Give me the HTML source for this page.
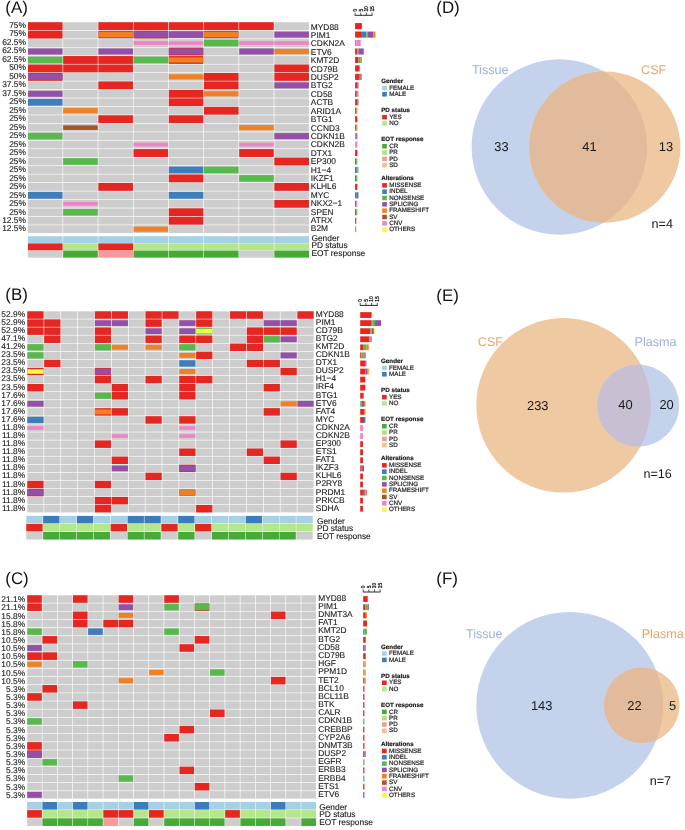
<!DOCTYPE html><html><head><meta charset="utf-8"><style>html,body{margin:0;padding:0;background:#fff;overflow:hidden;width:685px;height:830px;}svg{display:block;will-change:transform;text-rendering:geometricPrecision;font-family:"Liberation Sans", sans-serif;}</style></head><body>
<svg width="685" height="830" viewBox="0 0 685 830">
<rect width="685" height="830" fill="#fff"/>
<rect x="27.97" y="22.22" width="34.55" height="7.81" fill="#cdcdcd"/>
<rect x="27.97" y="22.22" width="34.55" height="7.81" fill="#e62620"/>
<rect x="63.18" y="22.22" width="34.55" height="7.81" fill="#cdcdcd"/>
<rect x="98.38" y="22.22" width="34.55" height="7.81" fill="#cdcdcd"/>
<rect x="98.38" y="22.22" width="34.55" height="7.81" fill="#e62620"/>
<rect x="133.57" y="22.22" width="34.55" height="7.81" fill="#cdcdcd"/>
<rect x="133.57" y="22.22" width="34.55" height="7.81" fill="#e62620"/>
<rect x="168.78" y="22.22" width="34.55" height="7.81" fill="#cdcdcd"/>
<rect x="168.78" y="22.22" width="34.55" height="7.81" fill="#e62620"/>
<rect x="203.97" y="22.22" width="34.55" height="7.81" fill="#cdcdcd"/>
<rect x="203.97" y="22.22" width="34.55" height="7.81" fill="#e62620"/>
<rect x="239.18" y="22.22" width="34.55" height="7.81" fill="#cdcdcd"/>
<rect x="239.18" y="22.22" width="34.55" height="7.81" fill="#e62620"/>
<rect x="274.38" y="22.22" width="34.55" height="7.81" fill="#cdcdcd"/>
<text x="25.9" y="27.9" font-size="8.4" fill="#1a1a1a" text-anchor="end" font-weight="normal" stroke="#1a1a1a" stroke-width="0.12">75%</text>
<text x="310.8" y="29.6" font-size="8.4" fill="#1a1a1a" text-anchor="start" font-weight="normal" stroke="#1a1a1a" stroke-width="0.12">MYD88</text>
<rect x="355.1" y="23.08" width="6.78" height="6.09" fill="#e62620"/>
<rect x="27.97" y="30.68" width="34.55" height="7.81" fill="#cdcdcd"/>
<rect x="27.97" y="30.68" width="34.55" height="7.81" fill="#e62620"/>
<rect x="63.18" y="30.68" width="34.55" height="7.81" fill="#cdcdcd"/>
<rect x="98.38" y="30.68" width="34.55" height="7.81" fill="#cdcdcd"/>
<rect x="98.38" y="30.88" width="34.55" height="7.42" fill="#9450a8"/>
<rect x="98.38" y="32.01" width="34.55" height="5.15" fill="#f08022"/>
<rect x="133.57" y="30.68" width="34.55" height="7.81" fill="#cdcdcd"/>
<rect x="133.57" y="30.68" width="34.55" height="7.81" fill="#e62620"/>
<rect x="133.57" y="31.58" width="34.55" height="6.01" fill="#9450a8"/>
<rect x="168.78" y="30.68" width="34.55" height="7.81" fill="#cdcdcd"/>
<rect x="168.78" y="31.23" width="34.55" height="6.72" fill="#3f7ebd"/>
<rect x="168.78" y="31.58" width="34.55" height="6.01" fill="#9450a8"/>
<rect x="203.97" y="30.68" width="34.55" height="7.81" fill="#cdcdcd"/>
<rect x="203.97" y="30.88" width="34.55" height="7.42" fill="#9450a8"/>
<rect x="203.97" y="32.01" width="34.55" height="5.15" fill="#f08022"/>
<rect x="239.18" y="30.68" width="34.55" height="7.81" fill="#cdcdcd"/>
<rect x="274.38" y="30.68" width="34.55" height="7.81" fill="#cdcdcd"/>
<rect x="274.38" y="31.58" width="34.55" height="6.01" fill="#9450a8"/>
<text x="25.9" y="36.38" font-size="8.4" fill="#1a1a1a" text-anchor="end" font-weight="normal" stroke="#1a1a1a" stroke-width="0.12">75%</text>
<text x="310.8" y="38.01" font-size="8.4" fill="#1a1a1a" text-anchor="start" font-weight="normal" stroke="#1a1a1a" stroke-width="0.12">PIM1</text>
<rect x="355.1" y="31.54" width="6.78" height="6.09" fill="#e62620"/>
<rect x="361.88" y="31.54" width="4.52" height="6.09" fill="#3f7ebd"/>
<rect x="366.4" y="31.54" width="1.13" height="6.09" fill="#57b94b"/>
<rect x="367.53" y="31.54" width="5.65" height="6.09" fill="#9450a8"/>
<rect x="373.18" y="31.54" width="2.26" height="6.09" fill="#f08022"/>
<rect x="27.97" y="39.15" width="34.55" height="7.81" fill="#cdcdcd"/>
<rect x="63.18" y="39.15" width="34.55" height="7.81" fill="#cdcdcd"/>
<rect x="98.38" y="39.15" width="34.55" height="7.81" fill="#cdcdcd"/>
<rect x="133.57" y="39.15" width="34.55" height="7.81" fill="#cdcdcd"/>
<rect x="133.57" y="41.21" width="34.55" height="3.67" fill="#f282c8"/>
<rect x="168.78" y="39.15" width="34.55" height="7.81" fill="#cdcdcd"/>
<rect x="168.78" y="41.21" width="34.55" height="3.67" fill="#f282c8"/>
<rect x="203.97" y="39.15" width="34.55" height="7.81" fill="#cdcdcd"/>
<rect x="203.97" y="39.77" width="34.55" height="6.56" fill="#57b94b"/>
<rect x="239.18" y="39.15" width="34.55" height="7.81" fill="#cdcdcd"/>
<rect x="239.18" y="41.21" width="34.55" height="3.67" fill="#f282c8"/>
<rect x="274.38" y="39.15" width="34.55" height="7.81" fill="#cdcdcd"/>
<rect x="274.38" y="41.21" width="34.55" height="3.67" fill="#f282c8"/>
<text x="25.9" y="44.87" font-size="8.4" fill="#1a1a1a" text-anchor="end" font-weight="normal" stroke="#1a1a1a" stroke-width="0.12">62.5%</text>
<text x="310.8" y="46.42" font-size="8.4" fill="#1a1a1a" text-anchor="start" font-weight="normal" stroke="#1a1a1a" stroke-width="0.12">CDKN2A</text>
<rect x="355.1" y="40" width="1.13" height="6.09" fill="#57b94b"/>
<rect x="356.23" y="40" width="4.52" height="6.09" fill="#f282c8"/>
<rect x="27.97" y="47.61" width="34.55" height="7.81" fill="#cdcdcd"/>
<rect x="27.97" y="48.5" width="34.55" height="6.01" fill="#9450a8"/>
<rect x="63.18" y="47.61" width="34.55" height="7.81" fill="#cdcdcd"/>
<rect x="98.38" y="47.61" width="34.55" height="7.81" fill="#cdcdcd"/>
<rect x="98.38" y="48.5" width="34.55" height="6.01" fill="#9450a8"/>
<rect x="133.57" y="47.61" width="34.55" height="7.81" fill="#cdcdcd"/>
<rect x="168.78" y="47.61" width="34.55" height="7.81" fill="#cdcdcd"/>
<rect x="168.78" y="47.61" width="34.55" height="7.81" fill="#e62620"/>
<rect x="168.78" y="48.5" width="34.55" height="6.01" fill="#9450a8"/>
<rect x="203.97" y="47.61" width="34.55" height="7.81" fill="#cdcdcd"/>
<rect x="239.18" y="47.61" width="34.55" height="7.81" fill="#cdcdcd"/>
<rect x="239.18" y="48.5" width="34.55" height="6.01" fill="#9450a8"/>
<rect x="274.38" y="47.61" width="34.55" height="7.81" fill="#cdcdcd"/>
<rect x="274.38" y="48.93" width="34.55" height="5.15" fill="#f08022"/>
<text x="25.9" y="53.35" font-size="8.4" fill="#1a1a1a" text-anchor="end" font-weight="normal" stroke="#1a1a1a" stroke-width="0.12">62.5%</text>
<text x="310.8" y="54.82" font-size="8.4" fill="#1a1a1a" text-anchor="start" font-weight="normal" stroke="#1a1a1a" stroke-width="0.12">ETV6</text>
<rect x="355.1" y="48.46" width="2.26" height="6.09" fill="#e62620"/>
<rect x="357.36" y="48.46" width="1.13" height="6.09" fill="#57b94b"/>
<rect x="358.49" y="48.46" width="4.52" height="6.09" fill="#9450a8"/>
<rect x="363.01" y="48.46" width="1.13" height="6.09" fill="#f08022"/>
<rect x="27.97" y="56.07" width="34.55" height="7.81" fill="#cdcdcd"/>
<rect x="27.97" y="56.69" width="34.55" height="6.56" fill="#57b94b"/>
<rect x="63.18" y="56.07" width="34.55" height="7.81" fill="#cdcdcd"/>
<rect x="63.18" y="56.07" width="34.55" height="7.81" fill="#e62620"/>
<rect x="98.38" y="56.07" width="34.55" height="7.81" fill="#cdcdcd"/>
<rect x="98.38" y="56.07" width="34.55" height="7.81" fill="#e62620"/>
<rect x="133.57" y="56.07" width="34.55" height="7.81" fill="#cdcdcd"/>
<rect x="133.57" y="56.69" width="34.55" height="6.56" fill="#57b94b"/>
<rect x="168.78" y="56.07" width="34.55" height="7.81" fill="#cdcdcd"/>
<rect x="168.78" y="56.07" width="34.55" height="7.81" fill="#e62620"/>
<rect x="168.78" y="57.39" width="34.55" height="5.15" fill="#f08022"/>
<rect x="203.97" y="56.07" width="34.55" height="7.81" fill="#cdcdcd"/>
<rect x="239.18" y="56.07" width="34.55" height="7.81" fill="#cdcdcd"/>
<rect x="274.38" y="56.07" width="34.55" height="7.81" fill="#cdcdcd"/>
<text x="25.9" y="61.83" font-size="8.4" fill="#1a1a1a" text-anchor="end" font-weight="normal" stroke="#1a1a1a" stroke-width="0.12">62.5%</text>
<text x="310.8" y="63.23" font-size="8.4" fill="#1a1a1a" text-anchor="start" font-weight="normal" stroke="#1a1a1a" stroke-width="0.12">KMT2D</text>
<rect x="355.1" y="56.92" width="3.39" height="6.09" fill="#e62620"/>
<rect x="358.49" y="56.92" width="2.26" height="6.09" fill="#57b94b"/>
<rect x="360.75" y="56.92" width="1.13" height="6.09" fill="#f08022"/>
<rect x="27.97" y="64.53" width="34.55" height="7.81" fill="#cdcdcd"/>
<rect x="27.97" y="64.53" width="34.55" height="7.81" fill="#e62620"/>
<rect x="63.18" y="64.53" width="34.55" height="7.81" fill="#cdcdcd"/>
<rect x="63.18" y="64.53" width="34.55" height="7.81" fill="#e62620"/>
<rect x="98.38" y="64.53" width="34.55" height="7.81" fill="#cdcdcd"/>
<rect x="98.38" y="64.53" width="34.55" height="7.81" fill="#e62620"/>
<rect x="133.57" y="64.53" width="34.55" height="7.81" fill="#cdcdcd"/>
<rect x="168.78" y="64.53" width="34.55" height="7.81" fill="#cdcdcd"/>
<rect x="203.97" y="64.53" width="34.55" height="7.81" fill="#cdcdcd"/>
<rect x="239.18" y="64.53" width="34.55" height="7.81" fill="#cdcdcd"/>
<rect x="274.38" y="64.53" width="34.55" height="7.81" fill="#cdcdcd"/>
<rect x="274.38" y="64.53" width="34.55" height="7.81" fill="#e62620"/>
<text x="25.9" y="70.31" font-size="8.4" fill="#1a1a1a" text-anchor="end" font-weight="normal" stroke="#1a1a1a" stroke-width="0.12">50%</text>
<text x="310.8" y="71.64" font-size="8.4" fill="#1a1a1a" text-anchor="start" font-weight="normal" stroke="#1a1a1a" stroke-width="0.12">CD79B</text>
<rect x="355.1" y="65.38" width="4.52" height="6.09" fill="#e62620"/>
<rect x="27.97" y="72.98" width="34.55" height="7.81" fill="#cdcdcd"/>
<rect x="27.97" y="72.98" width="34.55" height="7.81" fill="#e62620"/>
<rect x="27.97" y="73.88" width="34.55" height="6.01" fill="#9450a8"/>
<rect x="63.18" y="72.98" width="34.55" height="7.81" fill="#cdcdcd"/>
<rect x="98.38" y="72.98" width="34.55" height="7.81" fill="#cdcdcd"/>
<rect x="133.57" y="72.98" width="34.55" height="7.81" fill="#cdcdcd"/>
<rect x="168.78" y="72.98" width="34.55" height="7.81" fill="#cdcdcd"/>
<rect x="168.78" y="74.31" width="34.55" height="5.15" fill="#f08022"/>
<rect x="203.97" y="72.98" width="34.55" height="7.81" fill="#cdcdcd"/>
<rect x="203.97" y="72.98" width="34.55" height="7.81" fill="#e62620"/>
<rect x="239.18" y="72.98" width="34.55" height="7.81" fill="#cdcdcd"/>
<rect x="274.38" y="72.98" width="34.55" height="7.81" fill="#cdcdcd"/>
<rect x="274.38" y="72.98" width="34.55" height="7.81" fill="#e62620"/>
<text x="25.9" y="78.8" font-size="8.4" fill="#1a1a1a" text-anchor="end" font-weight="normal" stroke="#1a1a1a" stroke-width="0.12">50%</text>
<text x="310.8" y="80.05" font-size="8.4" fill="#1a1a1a" text-anchor="start" font-weight="normal" stroke="#1a1a1a" stroke-width="0.12">DUSP2</text>
<rect x="355.1" y="73.84" width="4.52" height="6.09" fill="#e62620"/>
<rect x="359.62" y="73.84" width="1.13" height="6.09" fill="#9450a8"/>
<rect x="360.75" y="73.84" width="1.13" height="6.09" fill="#f08022"/>
<rect x="27.97" y="81.45" width="34.55" height="7.81" fill="#cdcdcd"/>
<rect x="63.18" y="81.45" width="34.55" height="7.81" fill="#cdcdcd"/>
<rect x="98.38" y="81.45" width="34.55" height="7.81" fill="#cdcdcd"/>
<rect x="98.38" y="81.45" width="34.55" height="7.81" fill="#e62620"/>
<rect x="133.57" y="81.45" width="34.55" height="7.81" fill="#cdcdcd"/>
<rect x="168.78" y="81.45" width="34.55" height="7.81" fill="#cdcdcd"/>
<rect x="203.97" y="81.45" width="34.55" height="7.81" fill="#cdcdcd"/>
<rect x="203.97" y="81.45" width="34.55" height="7.81" fill="#e62620"/>
<rect x="239.18" y="81.45" width="34.55" height="7.81" fill="#cdcdcd"/>
<rect x="274.38" y="81.45" width="34.55" height="7.81" fill="#cdcdcd"/>
<rect x="274.38" y="82.34" width="34.55" height="6.01" fill="#9450a8"/>
<text x="25.9" y="87.28" font-size="8.4" fill="#1a1a1a" text-anchor="end" font-weight="normal" stroke="#1a1a1a" stroke-width="0.12">37.5%</text>
<text x="310.8" y="88.46" font-size="8.4" fill="#1a1a1a" text-anchor="start" font-weight="normal" stroke="#1a1a1a" stroke-width="0.12">BTG2</text>
<rect x="355.1" y="82.3" width="2.26" height="6.09" fill="#e62620"/>
<rect x="357.36" y="82.3" width="1.13" height="6.09" fill="#9450a8"/>
<rect x="27.97" y="89.91" width="34.55" height="7.81" fill="#cdcdcd"/>
<rect x="27.97" y="90.8" width="34.55" height="6.01" fill="#9450a8"/>
<rect x="63.18" y="89.91" width="34.55" height="7.81" fill="#cdcdcd"/>
<rect x="98.38" y="89.91" width="34.55" height="7.81" fill="#cdcdcd"/>
<rect x="133.57" y="89.91" width="34.55" height="7.81" fill="#cdcdcd"/>
<rect x="168.78" y="89.91" width="34.55" height="7.81" fill="#cdcdcd"/>
<rect x="168.78" y="89.91" width="34.55" height="7.81" fill="#e62620"/>
<rect x="203.97" y="89.91" width="34.55" height="7.81" fill="#cdcdcd"/>
<rect x="203.97" y="91.23" width="34.55" height="5.15" fill="#f08022"/>
<rect x="239.18" y="89.91" width="34.55" height="7.81" fill="#cdcdcd"/>
<rect x="274.38" y="89.91" width="34.55" height="7.81" fill="#cdcdcd"/>
<text x="25.9" y="95.76" font-size="8.4" fill="#1a1a1a" text-anchor="end" font-weight="normal" stroke="#1a1a1a" stroke-width="0.12">37.5%</text>
<text x="310.8" y="96.86" font-size="8.4" fill="#1a1a1a" text-anchor="start" font-weight="normal" stroke="#1a1a1a" stroke-width="0.12">CD58</text>
<rect x="355.1" y="90.76" width="1.13" height="6.09" fill="#e62620"/>
<rect x="356.23" y="90.76" width="1.13" height="6.09" fill="#9450a8"/>
<rect x="357.36" y="90.76" width="1.13" height="6.09" fill="#f08022"/>
<rect x="27.97" y="98.37" width="34.55" height="7.81" fill="#cdcdcd"/>
<rect x="27.97" y="98.91" width="34.55" height="6.72" fill="#3f7ebd"/>
<rect x="63.18" y="98.37" width="34.55" height="7.81" fill="#cdcdcd"/>
<rect x="98.38" y="98.37" width="34.55" height="7.81" fill="#cdcdcd"/>
<rect x="133.57" y="98.37" width="34.55" height="7.81" fill="#cdcdcd"/>
<rect x="168.78" y="98.37" width="34.55" height="7.81" fill="#cdcdcd"/>
<rect x="168.78" y="98.37" width="34.55" height="7.81" fill="#e62620"/>
<rect x="203.97" y="98.37" width="34.55" height="7.81" fill="#cdcdcd"/>
<rect x="239.18" y="98.37" width="34.55" height="7.81" fill="#cdcdcd"/>
<rect x="274.38" y="98.37" width="34.55" height="7.81" fill="#cdcdcd"/>
<text x="25.9" y="104.25" font-size="8.4" fill="#1a1a1a" text-anchor="end" font-weight="normal" stroke="#1a1a1a" stroke-width="0.12">25%</text>
<text x="310.8" y="105.27" font-size="8.4" fill="#1a1a1a" text-anchor="start" font-weight="normal" stroke="#1a1a1a" stroke-width="0.12">ACTB</text>
<rect x="355.1" y="99.22" width="2.26" height="6.09" fill="#e62620"/>
<rect x="357.36" y="99.22" width="1.13" height="6.09" fill="#3f7ebd"/>
<rect x="27.97" y="106.83" width="34.55" height="7.81" fill="#cdcdcd"/>
<rect x="63.18" y="106.83" width="34.55" height="7.81" fill="#cdcdcd"/>
<rect x="63.18" y="108.15" width="34.55" height="5.15" fill="#f08022"/>
<rect x="98.38" y="106.83" width="34.55" height="7.81" fill="#cdcdcd"/>
<rect x="133.57" y="106.83" width="34.55" height="7.81" fill="#cdcdcd"/>
<rect x="168.78" y="106.83" width="34.55" height="7.81" fill="#cdcdcd"/>
<rect x="203.97" y="106.83" width="34.55" height="7.81" fill="#cdcdcd"/>
<rect x="203.97" y="106.83" width="34.55" height="7.81" fill="#e62620"/>
<rect x="239.18" y="106.83" width="34.55" height="7.81" fill="#cdcdcd"/>
<rect x="274.38" y="106.83" width="34.55" height="7.81" fill="#cdcdcd"/>
<text x="25.9" y="112.73" font-size="8.4" fill="#1a1a1a" text-anchor="end" font-weight="normal" stroke="#1a1a1a" stroke-width="0.12">25%</text>
<text x="310.8" y="113.68" font-size="8.4" fill="#1a1a1a" text-anchor="start" font-weight="normal" stroke="#1a1a1a" stroke-width="0.12">ARID1A</text>
<rect x="355.1" y="107.68" width="1.13" height="6.09" fill="#e62620"/>
<rect x="356.23" y="107.68" width="1.13" height="6.09" fill="#f08022"/>
<rect x="27.97" y="115.29" width="34.55" height="7.81" fill="#cdcdcd"/>
<rect x="63.18" y="115.29" width="34.55" height="7.81" fill="#cdcdcd"/>
<rect x="98.38" y="115.29" width="34.55" height="7.81" fill="#cdcdcd"/>
<rect x="98.38" y="115.29" width="34.55" height="7.81" fill="#e62620"/>
<rect x="133.57" y="115.29" width="34.55" height="7.81" fill="#cdcdcd"/>
<rect x="168.78" y="115.29" width="34.55" height="7.81" fill="#cdcdcd"/>
<rect x="168.78" y="115.29" width="34.55" height="7.81" fill="#e62620"/>
<rect x="203.97" y="115.29" width="34.55" height="7.81" fill="#cdcdcd"/>
<rect x="239.18" y="115.29" width="34.55" height="7.81" fill="#cdcdcd"/>
<rect x="274.38" y="115.29" width="34.55" height="7.81" fill="#cdcdcd"/>
<text x="25.9" y="121.21" font-size="8.4" fill="#1a1a1a" text-anchor="end" font-weight="normal" stroke="#1a1a1a" stroke-width="0.12">25%</text>
<text x="310.8" y="122.09" font-size="8.4" fill="#1a1a1a" text-anchor="start" font-weight="normal" stroke="#1a1a1a" stroke-width="0.12">BTG1</text>
<rect x="355.1" y="116.14" width="2.26" height="6.09" fill="#e62620"/>
<rect x="27.97" y="123.75" width="34.55" height="7.81" fill="#cdcdcd"/>
<rect x="63.18" y="123.75" width="34.55" height="7.81" fill="#cdcdcd"/>
<rect x="63.18" y="125.39" width="34.55" height="4.53" fill="#a55528"/>
<rect x="98.38" y="123.75" width="34.55" height="7.81" fill="#cdcdcd"/>
<rect x="133.57" y="123.75" width="34.55" height="7.81" fill="#cdcdcd"/>
<rect x="168.78" y="123.75" width="34.55" height="7.81" fill="#cdcdcd"/>
<rect x="203.97" y="123.75" width="34.55" height="7.81" fill="#cdcdcd"/>
<rect x="239.18" y="123.75" width="34.55" height="7.81" fill="#cdcdcd"/>
<rect x="239.18" y="125.07" width="34.55" height="5.15" fill="#f08022"/>
<rect x="274.38" y="123.75" width="34.55" height="7.81" fill="#cdcdcd"/>
<text x="25.9" y="129.7" font-size="8.4" fill="#1a1a1a" text-anchor="end" font-weight="normal" stroke="#1a1a1a" stroke-width="0.12">25%</text>
<text x="310.8" y="130.5" font-size="8.4" fill="#1a1a1a" text-anchor="start" font-weight="normal" stroke="#1a1a1a" stroke-width="0.12">CCND3</text>
<rect x="355.1" y="124.6" width="1.13" height="6.09" fill="#a55528"/>
<rect x="356.23" y="124.6" width="1.13" height="6.09" fill="#f08022"/>
<rect x="27.97" y="132.21" width="34.55" height="7.81" fill="#cdcdcd"/>
<rect x="27.97" y="132.83" width="34.55" height="6.56" fill="#57b94b"/>
<rect x="63.18" y="132.21" width="34.55" height="7.81" fill="#cdcdcd"/>
<rect x="98.38" y="132.21" width="34.55" height="7.81" fill="#cdcdcd"/>
<rect x="133.57" y="132.21" width="34.55" height="7.81" fill="#cdcdcd"/>
<rect x="168.78" y="132.21" width="34.55" height="7.81" fill="#cdcdcd"/>
<rect x="203.97" y="132.21" width="34.55" height="7.81" fill="#cdcdcd"/>
<rect x="239.18" y="132.21" width="34.55" height="7.81" fill="#cdcdcd"/>
<rect x="274.38" y="132.21" width="34.55" height="7.81" fill="#cdcdcd"/>
<rect x="274.38" y="133.1" width="34.55" height="6.01" fill="#9450a8"/>
<text x="25.9" y="138.18" font-size="8.4" fill="#1a1a1a" text-anchor="end" font-weight="normal" stroke="#1a1a1a" stroke-width="0.12">25%</text>
<text x="310.8" y="138.9" font-size="8.4" fill="#1a1a1a" text-anchor="start" font-weight="normal" stroke="#1a1a1a" stroke-width="0.12">CDKN1B</text>
<rect x="355.1" y="133.06" width="1.13" height="6.09" fill="#57b94b"/>
<rect x="356.23" y="133.06" width="1.13" height="6.09" fill="#9450a8"/>
<rect x="27.97" y="140.66" width="34.55" height="7.81" fill="#cdcdcd"/>
<rect x="63.18" y="140.66" width="34.55" height="7.81" fill="#cdcdcd"/>
<rect x="98.38" y="140.66" width="34.55" height="7.81" fill="#cdcdcd"/>
<rect x="133.57" y="140.66" width="34.55" height="7.81" fill="#cdcdcd"/>
<rect x="133.57" y="142.73" width="34.55" height="3.67" fill="#f282c8"/>
<rect x="168.78" y="140.66" width="34.55" height="7.81" fill="#cdcdcd"/>
<rect x="203.97" y="140.66" width="34.55" height="7.81" fill="#cdcdcd"/>
<rect x="239.18" y="140.66" width="34.55" height="7.81" fill="#cdcdcd"/>
<rect x="239.18" y="142.73" width="34.55" height="3.67" fill="#f282c8"/>
<rect x="274.38" y="140.66" width="34.55" height="7.81" fill="#cdcdcd"/>
<text x="25.9" y="146.66" font-size="8.4" fill="#1a1a1a" text-anchor="end" font-weight="normal" stroke="#1a1a1a" stroke-width="0.12">25%</text>
<text x="310.8" y="147.31" font-size="8.4" fill="#1a1a1a" text-anchor="start" font-weight="normal" stroke="#1a1a1a" stroke-width="0.12">CDKN2B</text>
<rect x="355.1" y="141.52" width="2.26" height="6.09" fill="#f282c8"/>
<rect x="27.97" y="149.12" width="34.55" height="7.81" fill="#cdcdcd"/>
<rect x="63.18" y="149.12" width="34.55" height="7.81" fill="#cdcdcd"/>
<rect x="98.38" y="149.12" width="34.55" height="7.81" fill="#cdcdcd"/>
<rect x="133.57" y="149.12" width="34.55" height="7.81" fill="#cdcdcd"/>
<rect x="133.57" y="149.12" width="34.55" height="7.81" fill="#e62620"/>
<rect x="168.78" y="149.12" width="34.55" height="7.81" fill="#cdcdcd"/>
<rect x="203.97" y="149.12" width="34.55" height="7.81" fill="#cdcdcd"/>
<rect x="239.18" y="149.12" width="34.55" height="7.81" fill="#cdcdcd"/>
<rect x="239.18" y="149.12" width="34.55" height="7.81" fill="#e62620"/>
<rect x="274.38" y="149.12" width="34.55" height="7.81" fill="#cdcdcd"/>
<text x="25.9" y="155.15" font-size="8.4" fill="#1a1a1a" text-anchor="end" font-weight="normal" stroke="#1a1a1a" stroke-width="0.12">25%</text>
<text x="310.8" y="155.72" font-size="8.4" fill="#1a1a1a" text-anchor="start" font-weight="normal" stroke="#1a1a1a" stroke-width="0.12">DTX1</text>
<rect x="355.1" y="149.98" width="2.26" height="6.09" fill="#e62620"/>
<rect x="27.97" y="157.59" width="34.55" height="7.81" fill="#cdcdcd"/>
<rect x="63.18" y="157.59" width="34.55" height="7.81" fill="#cdcdcd"/>
<rect x="63.18" y="158.21" width="34.55" height="6.56" fill="#57b94b"/>
<rect x="98.38" y="157.59" width="34.55" height="7.81" fill="#cdcdcd"/>
<rect x="133.57" y="157.59" width="34.55" height="7.81" fill="#cdcdcd"/>
<rect x="168.78" y="157.59" width="34.55" height="7.81" fill="#cdcdcd"/>
<rect x="203.97" y="157.59" width="34.55" height="7.81" fill="#cdcdcd"/>
<rect x="239.18" y="157.59" width="34.55" height="7.81" fill="#cdcdcd"/>
<rect x="274.38" y="157.59" width="34.55" height="7.81" fill="#cdcdcd"/>
<rect x="274.38" y="157.59" width="34.55" height="7.81" fill="#e62620"/>
<text x="25.9" y="163.63" font-size="8.4" fill="#1a1a1a" text-anchor="end" font-weight="normal" stroke="#1a1a1a" stroke-width="0.12">25%</text>
<text x="310.8" y="164.13" font-size="8.4" fill="#1a1a1a" text-anchor="start" font-weight="normal" stroke="#1a1a1a" stroke-width="0.12">EP300</text>
<rect x="355.1" y="158.44" width="1.13" height="6.09" fill="#e62620"/>
<rect x="356.23" y="158.44" width="1.13" height="6.09" fill="#57b94b"/>
<rect x="27.97" y="166.05" width="34.55" height="7.81" fill="#cdcdcd"/>
<rect x="63.18" y="166.05" width="34.55" height="7.81" fill="#cdcdcd"/>
<rect x="98.38" y="166.05" width="34.55" height="7.81" fill="#cdcdcd"/>
<rect x="133.57" y="166.05" width="34.55" height="7.81" fill="#cdcdcd"/>
<rect x="168.78" y="166.05" width="34.55" height="7.81" fill="#cdcdcd"/>
<rect x="168.78" y="166.59" width="34.55" height="6.72" fill="#3f7ebd"/>
<rect x="203.97" y="166.05" width="34.55" height="7.81" fill="#cdcdcd"/>
<rect x="203.97" y="166.67" width="34.55" height="6.56" fill="#57b94b"/>
<rect x="239.18" y="166.05" width="34.55" height="7.81" fill="#cdcdcd"/>
<rect x="274.38" y="166.05" width="34.55" height="7.81" fill="#cdcdcd"/>
<text x="25.9" y="172.11" font-size="8.4" fill="#1a1a1a" text-anchor="end" font-weight="normal" stroke="#1a1a1a" stroke-width="0.12">25%</text>
<text x="310.8" y="172.54" font-size="8.4" fill="#1a1a1a" text-anchor="start" font-weight="normal" stroke="#1a1a1a" stroke-width="0.12">H1−4</text>
<rect x="355.1" y="166.9" width="1.13" height="6.09" fill="#e62620"/>
<rect x="356.23" y="166.9" width="1.13" height="6.09" fill="#3f7ebd"/>
<rect x="357.36" y="166.9" width="1.13" height="6.09" fill="#57b94b"/>
<rect x="27.97" y="174.51" width="34.55" height="7.81" fill="#cdcdcd"/>
<rect x="63.18" y="174.51" width="34.55" height="7.81" fill="#cdcdcd"/>
<rect x="98.38" y="174.51" width="34.55" height="7.81" fill="#cdcdcd"/>
<rect x="133.57" y="174.51" width="34.55" height="7.81" fill="#cdcdcd"/>
<rect x="168.78" y="174.51" width="34.55" height="7.81" fill="#cdcdcd"/>
<rect x="168.78" y="174.51" width="34.55" height="7.81" fill="#e62620"/>
<rect x="203.97" y="174.51" width="34.55" height="7.81" fill="#cdcdcd"/>
<rect x="239.18" y="174.51" width="34.55" height="7.81" fill="#cdcdcd"/>
<rect x="239.18" y="175.13" width="34.55" height="6.56" fill="#57b94b"/>
<rect x="274.38" y="174.51" width="34.55" height="7.81" fill="#cdcdcd"/>
<text x="25.9" y="180.59" font-size="8.4" fill="#1a1a1a" text-anchor="end" font-weight="normal" stroke="#1a1a1a" stroke-width="0.12">25%</text>
<text x="310.8" y="180.94" font-size="8.4" fill="#1a1a1a" text-anchor="start" font-weight="normal" stroke="#1a1a1a" stroke-width="0.12">IKZF1</text>
<rect x="355.1" y="175.36" width="1.13" height="6.09" fill="#e62620"/>
<rect x="356.23" y="175.36" width="1.13" height="6.09" fill="#57b94b"/>
<rect x="27.97" y="182.97" width="34.55" height="7.81" fill="#cdcdcd"/>
<rect x="63.18" y="182.97" width="34.55" height="7.81" fill="#cdcdcd"/>
<rect x="98.38" y="182.97" width="34.55" height="7.81" fill="#cdcdcd"/>
<rect x="98.38" y="182.97" width="34.55" height="7.81" fill="#e62620"/>
<rect x="133.57" y="182.97" width="34.55" height="7.81" fill="#cdcdcd"/>
<rect x="168.78" y="182.97" width="34.55" height="7.81" fill="#cdcdcd"/>
<rect x="203.97" y="182.97" width="34.55" height="7.81" fill="#cdcdcd"/>
<rect x="239.18" y="182.97" width="34.55" height="7.81" fill="#cdcdcd"/>
<rect x="274.38" y="182.97" width="34.55" height="7.81" fill="#cdcdcd"/>
<rect x="274.38" y="182.97" width="34.55" height="7.81" fill="#e62620"/>
<text x="25.9" y="189.08" font-size="8.4" fill="#1a1a1a" text-anchor="end" font-weight="normal" stroke="#1a1a1a" stroke-width="0.12">25%</text>
<text x="310.8" y="189.35" font-size="8.4" fill="#1a1a1a" text-anchor="start" font-weight="normal" stroke="#1a1a1a" stroke-width="0.12">KLHL6</text>
<rect x="355.1" y="183.82" width="2.26" height="6.09" fill="#e62620"/>
<rect x="27.97" y="191.43" width="34.55" height="7.81" fill="#cdcdcd"/>
<rect x="27.97" y="191.97" width="34.55" height="6.72" fill="#3f7ebd"/>
<rect x="63.18" y="191.43" width="34.55" height="7.81" fill="#cdcdcd"/>
<rect x="98.38" y="191.43" width="34.55" height="7.81" fill="#cdcdcd"/>
<rect x="133.57" y="191.43" width="34.55" height="7.81" fill="#cdcdcd"/>
<rect x="168.78" y="191.43" width="34.55" height="7.81" fill="#cdcdcd"/>
<rect x="168.78" y="191.97" width="34.55" height="6.72" fill="#3f7ebd"/>
<rect x="203.97" y="191.43" width="34.55" height="7.81" fill="#cdcdcd"/>
<rect x="239.18" y="191.43" width="34.55" height="7.81" fill="#cdcdcd"/>
<rect x="274.38" y="191.43" width="34.55" height="7.81" fill="#cdcdcd"/>
<text x="25.9" y="197.56" font-size="8.4" fill="#1a1a1a" text-anchor="end" font-weight="normal" stroke="#1a1a1a" stroke-width="0.12">25%</text>
<text x="310.8" y="197.76" font-size="8.4" fill="#1a1a1a" text-anchor="start" font-weight="normal" stroke="#1a1a1a" stroke-width="0.12">MYC</text>
<rect x="355.1" y="192.28" width="1.13" height="6.09" fill="#e62620"/>
<rect x="356.23" y="192.28" width="2.26" height="6.09" fill="#3f7ebd"/>
<rect x="27.97" y="199.89" width="34.55" height="7.81" fill="#cdcdcd"/>
<rect x="63.18" y="199.89" width="34.55" height="7.81" fill="#cdcdcd"/>
<rect x="63.18" y="201.95" width="34.55" height="3.67" fill="#f282c8"/>
<rect x="98.38" y="199.89" width="34.55" height="7.81" fill="#cdcdcd"/>
<rect x="133.57" y="199.89" width="34.55" height="7.81" fill="#cdcdcd"/>
<rect x="168.78" y="199.89" width="34.55" height="7.81" fill="#cdcdcd"/>
<rect x="203.97" y="199.89" width="34.55" height="7.81" fill="#cdcdcd"/>
<rect x="239.18" y="199.89" width="34.55" height="7.81" fill="#cdcdcd"/>
<rect x="274.38" y="199.89" width="34.55" height="7.81" fill="#cdcdcd"/>
<rect x="274.38" y="199.89" width="34.55" height="7.81" fill="#e62620"/>
<text x="25.9" y="206.04" font-size="8.4" fill="#1a1a1a" text-anchor="end" font-weight="normal" stroke="#1a1a1a" stroke-width="0.12">25%</text>
<text x="310.8" y="206.17" font-size="8.4" fill="#1a1a1a" text-anchor="start" font-weight="normal" stroke="#1a1a1a" stroke-width="0.12">NKX2−1</text>
<rect x="355.1" y="200.74" width="1.13" height="6.09" fill="#e62620"/>
<rect x="356.23" y="200.74" width="1.13" height="6.09" fill="#f282c8"/>
<rect x="27.97" y="208.34" width="34.55" height="7.81" fill="#cdcdcd"/>
<rect x="63.18" y="208.34" width="34.55" height="7.81" fill="#cdcdcd"/>
<rect x="63.18" y="208.97" width="34.55" height="6.56" fill="#57b94b"/>
<rect x="98.38" y="208.34" width="34.55" height="7.81" fill="#cdcdcd"/>
<rect x="133.57" y="208.34" width="34.55" height="7.81" fill="#cdcdcd"/>
<rect x="168.78" y="208.34" width="34.55" height="7.81" fill="#cdcdcd"/>
<rect x="168.78" y="208.34" width="34.55" height="7.81" fill="#e62620"/>
<rect x="203.97" y="208.34" width="34.55" height="7.81" fill="#cdcdcd"/>
<rect x="239.18" y="208.34" width="34.55" height="7.81" fill="#cdcdcd"/>
<rect x="274.38" y="208.34" width="34.55" height="7.81" fill="#cdcdcd"/>
<text x="25.9" y="214.53" font-size="8.4" fill="#1a1a1a" text-anchor="end" font-weight="normal" stroke="#1a1a1a" stroke-width="0.12">25%</text>
<text x="310.8" y="214.58" font-size="8.4" fill="#1a1a1a" text-anchor="start" font-weight="normal" stroke="#1a1a1a" stroke-width="0.12">SPEN</text>
<rect x="355.1" y="209.2" width="1.13" height="6.09" fill="#e62620"/>
<rect x="356.23" y="209.2" width="1.13" height="6.09" fill="#57b94b"/>
<rect x="27.97" y="216.81" width="34.55" height="7.81" fill="#cdcdcd"/>
<rect x="63.18" y="216.81" width="34.55" height="7.81" fill="#cdcdcd"/>
<rect x="98.38" y="216.81" width="34.55" height="7.81" fill="#cdcdcd"/>
<rect x="133.57" y="216.81" width="34.55" height="7.81" fill="#cdcdcd"/>
<rect x="168.78" y="216.81" width="34.55" height="7.81" fill="#cdcdcd"/>
<rect x="168.78" y="216.81" width="34.55" height="7.81" fill="#e62620"/>
<rect x="203.97" y="216.81" width="34.55" height="7.81" fill="#cdcdcd"/>
<rect x="239.18" y="216.81" width="34.55" height="7.81" fill="#cdcdcd"/>
<rect x="274.38" y="216.81" width="34.55" height="7.81" fill="#cdcdcd"/>
<text x="25.9" y="223.01" font-size="8.4" fill="#1a1a1a" text-anchor="end" font-weight="normal" stroke="#1a1a1a" stroke-width="0.12">12.5%</text>
<text x="310.8" y="222.98" font-size="8.4" fill="#1a1a1a" text-anchor="start" font-weight="normal" stroke="#1a1a1a" stroke-width="0.12">ATRX</text>
<rect x="355.1" y="217.66" width="1.13" height="6.09" fill="#e62620"/>
<rect x="27.97" y="225.27" width="34.55" height="7.81" fill="#cdcdcd"/>
<rect x="63.18" y="225.27" width="34.55" height="7.81" fill="#cdcdcd"/>
<rect x="98.38" y="225.27" width="34.55" height="7.81" fill="#cdcdcd"/>
<rect x="133.57" y="225.27" width="34.55" height="7.81" fill="#cdcdcd"/>
<rect x="133.57" y="226.59" width="34.55" height="5.15" fill="#f08022"/>
<rect x="168.78" y="225.27" width="34.55" height="7.81" fill="#cdcdcd"/>
<rect x="203.97" y="225.27" width="34.55" height="7.81" fill="#cdcdcd"/>
<rect x="239.18" y="225.27" width="34.55" height="7.81" fill="#cdcdcd"/>
<rect x="274.38" y="225.27" width="34.55" height="7.81" fill="#cdcdcd"/>
<text x="25.9" y="231.49" font-size="8.4" fill="#1a1a1a" text-anchor="end" font-weight="normal" stroke="#1a1a1a" stroke-width="0.12">12.5%</text>
<text x="310.8" y="231.39" font-size="8.4" fill="#1a1a1a" text-anchor="start" font-weight="normal" stroke="#1a1a1a" stroke-width="0.12">B2M</text>
<rect x="355.1" y="226.12" width="1.13" height="6.09" fill="#f08022"/>
<rect x="27.9" y="236.2" width="34.7" height="7.05" fill="#a6d1e4"/>
<rect x="63.1" y="236.2" width="34.7" height="7.05" fill="#a6d1e4"/>
<rect x="98.3" y="236.2" width="34.7" height="7.05" fill="#a6d1e4"/>
<rect x="133.5" y="236.2" width="34.7" height="7.05" fill="#a6d1e4"/>
<rect x="168.7" y="236.2" width="34.7" height="7.05" fill="#a6d1e4"/>
<rect x="203.9" y="236.2" width="34.7" height="7.05" fill="#a6d1e4"/>
<rect x="239.1" y="236.2" width="34.7" height="7.05" fill="#a6d1e4"/>
<rect x="274.3" y="236.2" width="34.7" height="7.05" fill="#a6d1e4"/>
<rect x="27.9" y="243.4" width="34.7" height="7.05" fill="#e62620"/>
<rect x="63.1" y="243.4" width="34.7" height="7.05" fill="#b4e68c"/>
<rect x="98.3" y="243.4" width="34.7" height="7.05" fill="#e62620"/>
<rect x="133.5" y="243.4" width="34.7" height="7.05" fill="#b4e68c"/>
<rect x="168.7" y="243.4" width="34.7" height="7.05" fill="#b4e68c"/>
<rect x="203.9" y="243.4" width="34.7" height="7.05" fill="#b4e68c"/>
<rect x="239.1" y="243.4" width="34.7" height="7.05" fill="#b4e68c"/>
<rect x="274.3" y="243.4" width="34.7" height="7.05" fill="#b4e68c"/>
<rect x="27.9" y="250.6" width="34.7" height="7.05" fill="#cdcdcd"/>
<rect x="63.1" y="250.6" width="34.7" height="7.05" fill="#47aa38"/>
<rect x="98.3" y="250.6" width="34.7" height="7.05" fill="#f49a9c"/>
<rect x="133.5" y="250.6" width="34.7" height="7.05" fill="#47aa38"/>
<rect x="168.7" y="250.6" width="34.7" height="7.05" fill="#47aa38"/>
<rect x="203.9" y="250.6" width="34.7" height="7.05" fill="#47aa38"/>
<rect x="239.1" y="250.6" width="34.7" height="7.05" fill="#cdcdcd"/>
<rect x="274.3" y="250.6" width="34.7" height="7.05" fill="#47aa38"/>
<text x="311.4" y="240.8" font-size="8.4" fill="#1a1a1a" text-anchor="start" font-weight="normal" stroke="#1a1a1a" stroke-width="0.12">Gender</text>
<text x="311.4" y="248" font-size="8.4" fill="#1a1a1a" text-anchor="start" font-weight="normal" stroke="#1a1a1a" stroke-width="0.12">PD status</text>
<text x="311.4" y="255.7" font-size="8.4" fill="#1a1a1a" text-anchor="start" font-weight="normal" stroke="#1a1a1a" stroke-width="0.12">EOT response</text>
<path d="M354.8 15.3H372.35" stroke="#111" stroke-width="0.9" fill="none"/>
<path d="M355.1 15.3V12.7" stroke="#111" stroke-width="0.7" fill="none"/>
<text transform="translate(356.95 11.6) rotate(-90)" font-size="4.9" fill="#111" stroke="#111" stroke-width="0.25" style="text-rendering:auto">0</text>
<path d="M360.75 15.3V12.7" stroke="#111" stroke-width="0.7" fill="none"/>
<text transform="translate(362.6 11.6) rotate(-90)" font-size="4.9" fill="#111" stroke="#111" stroke-width="0.25" style="text-rendering:auto">5</text>
<path d="M366.4 15.3V12.7" stroke="#111" stroke-width="0.7" fill="none"/>
<text transform="translate(368.25 11.6) rotate(-90)" font-size="4.9" fill="#111" stroke="#111" stroke-width="0.25" style="text-rendering:auto">10</text>
<path d="M372.05 15.3V12.7" stroke="#111" stroke-width="0.7" fill="none"/>
<text transform="translate(373.9 11.6) rotate(-90)" font-size="4.9" fill="#111" stroke="#111" stroke-width="0.25" style="text-rendering:auto">15</text>
<text x="5.3" y="13.1" font-size="16.9" fill="#111" text-anchor="start" font-weight="normal">(A)</text>
<text x="381.2" y="83" font-size="6.25" fill="#111" text-anchor="start" font-weight="bold" stroke="#111" stroke-width="0.15">Gender</text>
<rect x="382.2" y="85.7" width="4.7" height="4.5" fill="#a6d1e4"/>
<text x="389.2" y="89.6" font-size="6.25" fill="#1a1a1a" text-anchor="start" font-weight="normal" stroke="#1a1a1a" stroke-width="0.2">FEMALE</text>
<rect x="382.2" y="92.03" width="4.7" height="4.5" fill="#3b7dbb"/>
<text x="389.2" y="95.93" font-size="6.25" fill="#1a1a1a" text-anchor="start" font-weight="normal" stroke="#1a1a1a" stroke-width="0.2">MALE</text>
<text x="381.2" y="112.2" font-size="6.25" fill="#111" text-anchor="start" font-weight="bold" stroke="#111" stroke-width="0.15">PD status</text>
<rect x="382.2" y="114.9" width="4.7" height="4.5" fill="#e62620"/>
<text x="389.2" y="118.8" font-size="6.25" fill="#1a1a1a" text-anchor="start" font-weight="normal" stroke="#1a1a1a" stroke-width="0.2">YES</text>
<rect x="382.2" y="121.23" width="4.7" height="4.5" fill="#b4e68c"/>
<text x="389.2" y="125.13" font-size="6.25" fill="#1a1a1a" text-anchor="start" font-weight="normal" stroke="#1a1a1a" stroke-width="0.2">NO</text>
<text x="381.2" y="141.3" font-size="6.25" fill="#111" text-anchor="start" font-weight="bold" stroke="#111" stroke-width="0.15">EOT response</text>
<rect x="382.2" y="144" width="4.7" height="4.5" fill="#47aa38"/>
<text x="389.2" y="147.9" font-size="6.25" fill="#1a1a1a" text-anchor="start" font-weight="normal" stroke="#1a1a1a" stroke-width="0.2">CR</text>
<rect x="382.2" y="150.33" width="4.7" height="4.5" fill="#b6de7c"/>
<text x="389.2" y="154.23" font-size="6.25" fill="#1a1a1a" text-anchor="start" font-weight="normal" stroke="#1a1a1a" stroke-width="0.2">PR</text>
<rect x="382.2" y="156.66" width="4.7" height="4.5" fill="#f49a9c"/>
<text x="389.2" y="160.56" font-size="6.25" fill="#1a1a1a" text-anchor="start" font-weight="normal" stroke="#1a1a1a" stroke-width="0.2">PD</text>
<rect x="382.2" y="162.99" width="4.7" height="4.5" fill="#f6c08e"/>
<text x="389.2" y="166.89" font-size="6.25" fill="#1a1a1a" text-anchor="start" font-weight="normal" stroke="#1a1a1a" stroke-width="0.2">SD</text>
<text x="381.2" y="180.4" font-size="6.25" fill="#111" text-anchor="start" font-weight="bold" stroke="#111" stroke-width="0.15">Alterations</text>
<rect x="382.2" y="183.1" width="4.7" height="4.5" fill="#e62620"/>
<text x="389.2" y="187" font-size="6.25" fill="#1a1a1a" text-anchor="start" font-weight="normal" stroke="#1a1a1a" stroke-width="0.2">MISSENSE</text>
<rect x="382.2" y="189.43" width="4.7" height="4.5" fill="#3f7ebd"/>
<text x="389.2" y="193.33" font-size="6.25" fill="#1a1a1a" text-anchor="start" font-weight="normal" stroke="#1a1a1a" stroke-width="0.2">INDEL</text>
<rect x="382.2" y="195.76" width="4.7" height="4.5" fill="#57b94b"/>
<text x="389.2" y="199.66" font-size="6.25" fill="#1a1a1a" text-anchor="start" font-weight="normal" stroke="#1a1a1a" stroke-width="0.2">NONSENSE</text>
<rect x="382.2" y="202.09" width="4.7" height="4.5" fill="#9450a8"/>
<text x="389.2" y="205.99" font-size="6.25" fill="#1a1a1a" text-anchor="start" font-weight="normal" stroke="#1a1a1a" stroke-width="0.2">SPLICING</text>
<rect x="382.2" y="208.42" width="4.7" height="4.5" fill="#f08022"/>
<text x="389.2" y="212.32" font-size="6.25" fill="#1a1a1a" text-anchor="start" font-weight="normal" stroke="#1a1a1a" stroke-width="0.2">FRAMESHIFT</text>
<rect x="382.2" y="214.75" width="4.7" height="4.5" fill="#a55528"/>
<text x="389.2" y="218.65" font-size="6.25" fill="#1a1a1a" text-anchor="start" font-weight="normal" stroke="#1a1a1a" stroke-width="0.2">SV</text>
<rect x="382.2" y="221.08" width="4.7" height="4.5" fill="#f282c8"/>
<text x="389.2" y="224.98" font-size="6.25" fill="#1a1a1a" text-anchor="start" font-weight="normal" stroke="#1a1a1a" stroke-width="0.2">CNV</text>
<rect x="382.2" y="227.41" width="4.7" height="4.5" fill="#eefb47"/>
<text x="389.2" y="231.31" font-size="6.25" fill="#1a1a1a" text-anchor="start" font-weight="normal" stroke="#1a1a1a" stroke-width="0.2">OTHERS</text>
<rect x="27.32" y="311.32" width="16.23" height="7.42" fill="#cdcdcd"/>
<rect x="27.32" y="311.32" width="16.23" height="7.42" fill="#e62620"/>
<rect x="44.2" y="311.32" width="16.23" height="7.42" fill="#cdcdcd"/>
<rect x="61.09" y="311.32" width="16.23" height="7.42" fill="#cdcdcd"/>
<rect x="77.97" y="311.32" width="16.23" height="7.42" fill="#cdcdcd"/>
<rect x="94.84" y="311.32" width="16.23" height="7.42" fill="#cdcdcd"/>
<rect x="94.84" y="311.32" width="16.23" height="7.42" fill="#e62620"/>
<rect x="111.72" y="311.32" width="16.23" height="7.42" fill="#cdcdcd"/>
<rect x="111.72" y="311.32" width="16.23" height="7.42" fill="#e62620"/>
<rect x="128.6" y="311.32" width="16.23" height="7.42" fill="#cdcdcd"/>
<rect x="145.48" y="311.32" width="16.23" height="7.42" fill="#cdcdcd"/>
<rect x="145.48" y="311.32" width="16.23" height="7.42" fill="#e62620"/>
<rect x="162.36" y="311.32" width="16.23" height="7.42" fill="#cdcdcd"/>
<rect x="162.36" y="311.32" width="16.23" height="7.42" fill="#e62620"/>
<rect x="179.24" y="311.32" width="16.23" height="7.42" fill="#cdcdcd"/>
<rect x="196.12" y="311.32" width="16.23" height="7.42" fill="#cdcdcd"/>
<rect x="196.12" y="311.32" width="16.23" height="7.42" fill="#e62620"/>
<rect x="213" y="311.32" width="16.23" height="7.42" fill="#cdcdcd"/>
<rect x="229.88" y="311.32" width="16.23" height="7.42" fill="#cdcdcd"/>
<rect x="229.88" y="311.32" width="16.23" height="7.42" fill="#e62620"/>
<rect x="246.76" y="311.32" width="16.23" height="7.42" fill="#cdcdcd"/>
<rect x="246.76" y="311.32" width="16.23" height="7.42" fill="#e62620"/>
<rect x="263.64" y="311.32" width="16.23" height="7.42" fill="#cdcdcd"/>
<rect x="280.52" y="311.32" width="16.23" height="7.42" fill="#cdcdcd"/>
<rect x="297.4" y="311.32" width="16.23" height="7.42" fill="#cdcdcd"/>
<rect x="297.4" y="311.32" width="16.23" height="7.42" fill="#e62620"/>
<text x="25.1" y="316.8" font-size="8.4" fill="#1a1a1a" text-anchor="end" font-weight="normal" stroke="#1a1a1a" stroke-width="0.12">52.9%</text>
<text x="315.8" y="316.7" font-size="8.4" fill="#1a1a1a" text-anchor="start" font-weight="normal" stroke="#1a1a1a" stroke-width="0.12">MYD88</text>
<rect x="360.2" y="312.13" width="11.4" height="5.81" fill="#e62620"/>
<rect x="27.32" y="319.39" width="16.23" height="7.42" fill="#cdcdcd"/>
<rect x="27.32" y="319.39" width="16.23" height="7.42" fill="#e62620"/>
<rect x="44.2" y="319.39" width="16.23" height="7.42" fill="#cdcdcd"/>
<rect x="44.2" y="319.39" width="16.23" height="7.42" fill="#e62620"/>
<rect x="61.09" y="319.39" width="16.23" height="7.42" fill="#cdcdcd"/>
<rect x="77.97" y="319.39" width="16.23" height="7.42" fill="#cdcdcd"/>
<rect x="94.84" y="319.39" width="16.23" height="7.42" fill="#cdcdcd"/>
<rect x="94.84" y="320.25" width="16.23" height="5.71" fill="#9450a8"/>
<rect x="111.72" y="319.39" width="16.23" height="7.42" fill="#cdcdcd"/>
<rect x="111.72" y="320.25" width="16.23" height="5.71" fill="#9450a8"/>
<rect x="128.6" y="319.39" width="16.23" height="7.42" fill="#cdcdcd"/>
<rect x="145.48" y="319.39" width="16.23" height="7.42" fill="#cdcdcd"/>
<rect x="145.48" y="319.39" width="16.23" height="7.42" fill="#e62620"/>
<rect x="162.36" y="319.39" width="16.23" height="7.42" fill="#cdcdcd"/>
<rect x="179.24" y="319.39" width="16.23" height="7.42" fill="#cdcdcd"/>
<rect x="179.24" y="320.25" width="16.23" height="5.71" fill="#9450a8"/>
<rect x="196.12" y="319.39" width="16.23" height="7.42" fill="#cdcdcd"/>
<rect x="196.12" y="319.39" width="16.23" height="7.42" fill="#e62620"/>
<rect x="213" y="319.39" width="16.23" height="7.42" fill="#cdcdcd"/>
<rect x="229.88" y="319.39" width="16.23" height="7.42" fill="#cdcdcd"/>
<rect x="246.76" y="319.39" width="16.23" height="7.42" fill="#cdcdcd"/>
<rect x="263.64" y="319.39" width="16.23" height="7.42" fill="#cdcdcd"/>
<rect x="263.64" y="320.25" width="16.23" height="5.71" fill="#9450a8"/>
<rect x="280.52" y="319.39" width="16.23" height="7.42" fill="#cdcdcd"/>
<rect x="280.52" y="320.25" width="16.23" height="5.71" fill="#9450a8"/>
<rect x="297.4" y="319.39" width="16.23" height="7.42" fill="#cdcdcd"/>
<text x="25.1" y="324.88" font-size="8.4" fill="#1a1a1a" text-anchor="end" font-weight="normal" stroke="#1a1a1a" stroke-width="0.12">52.9%</text>
<text x="315.8" y="324.78" font-size="8.4" fill="#1a1a1a" text-anchor="start" font-weight="normal" stroke="#1a1a1a" stroke-width="0.12">PIM1</text>
<rect x="360.2" y="320.2" width="11.4" height="5.81" fill="#e62620"/>
<rect x="371.6" y="320.2" width="0.68" height="5.81" fill="#3f7ebd"/>
<rect x="372.28" y="320.2" width="2.74" height="5.81" fill="#57b94b"/>
<rect x="375.02" y="320.2" width="6.04" height="5.81" fill="#9450a8"/>
<rect x="27.32" y="327.46" width="16.23" height="7.42" fill="#cdcdcd"/>
<rect x="27.32" y="327.46" width="16.23" height="7.42" fill="#e62620"/>
<rect x="44.2" y="327.46" width="16.23" height="7.42" fill="#cdcdcd"/>
<rect x="44.2" y="327.46" width="16.23" height="7.42" fill="#e62620"/>
<rect x="61.09" y="327.46" width="16.23" height="7.42" fill="#cdcdcd"/>
<rect x="77.97" y="327.46" width="16.23" height="7.42" fill="#cdcdcd"/>
<rect x="94.84" y="327.46" width="16.23" height="7.42" fill="#cdcdcd"/>
<rect x="94.84" y="327.46" width="16.23" height="7.42" fill="#e62620"/>
<rect x="111.72" y="327.46" width="16.23" height="7.42" fill="#cdcdcd"/>
<rect x="128.6" y="327.46" width="16.23" height="7.42" fill="#cdcdcd"/>
<rect x="145.48" y="327.46" width="16.23" height="7.42" fill="#cdcdcd"/>
<rect x="145.48" y="328.32" width="16.23" height="5.71" fill="#9450a8"/>
<rect x="162.36" y="327.46" width="16.23" height="7.42" fill="#cdcdcd"/>
<rect x="179.24" y="327.46" width="16.23" height="7.42" fill="#cdcdcd"/>
<rect x="179.24" y="328.32" width="16.23" height="5.71" fill="#9450a8"/>
<rect x="196.12" y="327.46" width="16.23" height="7.42" fill="#cdcdcd"/>
<rect x="196.12" y="328.06" width="16.23" height="6.23" fill="#57b94b"/>
<rect x="196.12" y="328.87" width="16.23" height="4.6" fill="#eefb47"/>
<rect x="213" y="327.46" width="16.23" height="7.42" fill="#cdcdcd"/>
<rect x="229.88" y="327.46" width="16.23" height="7.42" fill="#cdcdcd"/>
<rect x="246.76" y="327.46" width="16.23" height="7.42" fill="#cdcdcd"/>
<rect x="246.76" y="327.46" width="16.23" height="7.42" fill="#e62620"/>
<rect x="263.64" y="327.46" width="16.23" height="7.42" fill="#cdcdcd"/>
<rect x="263.64" y="327.46" width="16.23" height="7.42" fill="#e62620"/>
<rect x="280.52" y="327.46" width="16.23" height="7.42" fill="#cdcdcd"/>
<rect x="280.52" y="327.46" width="16.23" height="7.42" fill="#e62620"/>
<rect x="297.4" y="327.46" width="16.23" height="7.42" fill="#cdcdcd"/>
<text x="25.1" y="332.97" font-size="8.4" fill="#1a1a1a" text-anchor="end" font-weight="normal" stroke="#1a1a1a" stroke-width="0.12">52.9%</text>
<text x="315.8" y="332.87" font-size="8.4" fill="#1a1a1a" text-anchor="start" font-weight="normal" stroke="#1a1a1a" stroke-width="0.12">CD79B</text>
<rect x="360.2" y="328.27" width="10.26" height="5.81" fill="#e62620"/>
<rect x="370.46" y="328.27" width="1.14" height="5.81" fill="#57b94b"/>
<rect x="371.6" y="328.27" width="2.28" height="5.81" fill="#9450a8"/>
<rect x="373.88" y="328.27" width="1.14" height="5.81" fill="#eefb47"/>
<rect x="27.32" y="335.53" width="16.23" height="7.42" fill="#cdcdcd"/>
<rect x="44.2" y="335.53" width="16.23" height="7.42" fill="#cdcdcd"/>
<rect x="44.2" y="335.53" width="16.23" height="7.42" fill="#e62620"/>
<rect x="61.09" y="335.53" width="16.23" height="7.42" fill="#cdcdcd"/>
<rect x="77.97" y="335.53" width="16.23" height="7.42" fill="#cdcdcd"/>
<rect x="94.84" y="335.53" width="16.23" height="7.42" fill="#cdcdcd"/>
<rect x="94.84" y="335.53" width="16.23" height="7.42" fill="#e62620"/>
<rect x="111.72" y="335.53" width="16.23" height="7.42" fill="#cdcdcd"/>
<rect x="128.6" y="335.53" width="16.23" height="7.42" fill="#cdcdcd"/>
<rect x="145.48" y="335.53" width="16.23" height="7.42" fill="#cdcdcd"/>
<rect x="145.48" y="335.53" width="16.23" height="7.42" fill="#e62620"/>
<rect x="162.36" y="335.53" width="16.23" height="7.42" fill="#cdcdcd"/>
<rect x="179.24" y="335.53" width="16.23" height="7.42" fill="#cdcdcd"/>
<rect x="179.24" y="335.53" width="16.23" height="7.42" fill="#e62620"/>
<rect x="196.12" y="335.53" width="16.23" height="7.42" fill="#cdcdcd"/>
<rect x="196.12" y="335.53" width="16.23" height="7.42" fill="#e62620"/>
<rect x="213" y="335.53" width="16.23" height="7.42" fill="#cdcdcd"/>
<rect x="229.88" y="335.53" width="16.23" height="7.42" fill="#cdcdcd"/>
<rect x="246.76" y="335.53" width="16.23" height="7.42" fill="#cdcdcd"/>
<rect x="246.76" y="335.53" width="16.23" height="7.42" fill="#e62620"/>
<rect x="263.64" y="335.53" width="16.23" height="7.42" fill="#cdcdcd"/>
<rect x="263.64" y="336.13" width="16.23" height="6.23" fill="#57b94b"/>
<rect x="280.52" y="335.53" width="16.23" height="7.42" fill="#cdcdcd"/>
<rect x="280.52" y="336.39" width="16.23" height="5.71" fill="#9450a8"/>
<rect x="297.4" y="335.53" width="16.23" height="7.42" fill="#cdcdcd"/>
<text x="25.1" y="341.05" font-size="8.4" fill="#1a1a1a" text-anchor="end" font-weight="normal" stroke="#1a1a1a" stroke-width="0.12">47.1%</text>
<text x="315.8" y="340.95" font-size="8.4" fill="#1a1a1a" text-anchor="start" font-weight="normal" stroke="#1a1a1a" stroke-width="0.12">BTG2</text>
<rect x="360.2" y="336.34" width="9.12" height="5.81" fill="#e62620"/>
<rect x="369.32" y="336.34" width="1.14" height="5.81" fill="#57b94b"/>
<rect x="370.46" y="336.34" width="1.14" height="5.81" fill="#9450a8"/>
<rect x="27.32" y="343.6" width="16.23" height="7.42" fill="#cdcdcd"/>
<rect x="27.32" y="344.2" width="16.23" height="6.23" fill="#57b94b"/>
<rect x="44.2" y="343.6" width="16.23" height="7.42" fill="#cdcdcd"/>
<rect x="61.09" y="343.6" width="16.23" height="7.42" fill="#cdcdcd"/>
<rect x="77.97" y="343.6" width="16.23" height="7.42" fill="#cdcdcd"/>
<rect x="94.84" y="343.6" width="16.23" height="7.42" fill="#cdcdcd"/>
<rect x="94.84" y="344.2" width="16.23" height="6.23" fill="#57b94b"/>
<rect x="111.72" y="343.6" width="16.23" height="7.42" fill="#cdcdcd"/>
<rect x="111.72" y="344.87" width="16.23" height="4.9" fill="#f08022"/>
<rect x="128.6" y="343.6" width="16.23" height="7.42" fill="#cdcdcd"/>
<rect x="145.48" y="343.6" width="16.23" height="7.42" fill="#cdcdcd"/>
<rect x="145.48" y="344.87" width="16.23" height="4.9" fill="#f08022"/>
<rect x="162.36" y="343.6" width="16.23" height="7.42" fill="#cdcdcd"/>
<rect x="179.24" y="343.6" width="16.23" height="7.42" fill="#cdcdcd"/>
<rect x="179.24" y="344.2" width="16.23" height="6.23" fill="#57b94b"/>
<rect x="196.12" y="343.6" width="16.23" height="7.42" fill="#cdcdcd"/>
<rect x="213" y="343.6" width="16.23" height="7.42" fill="#cdcdcd"/>
<rect x="229.88" y="343.6" width="16.23" height="7.42" fill="#cdcdcd"/>
<rect x="229.88" y="343.6" width="16.23" height="7.42" fill="#e62620"/>
<rect x="246.76" y="343.6" width="16.23" height="7.42" fill="#cdcdcd"/>
<rect x="246.76" y="343.6" width="16.23" height="7.42" fill="#e62620"/>
<rect x="263.64" y="343.6" width="16.23" height="7.42" fill="#cdcdcd"/>
<rect x="280.52" y="343.6" width="16.23" height="7.42" fill="#cdcdcd"/>
<rect x="297.4" y="343.6" width="16.23" height="7.42" fill="#cdcdcd"/>
<text x="25.1" y="349.13" font-size="8.4" fill="#1a1a1a" text-anchor="end" font-weight="normal" stroke="#1a1a1a" stroke-width="0.12">41.2%</text>
<text x="315.8" y="349.03" font-size="8.4" fill="#1a1a1a" text-anchor="start" font-weight="normal" stroke="#1a1a1a" stroke-width="0.12">KMT2D</text>
<rect x="360.2" y="344.41" width="2.85" height="5.81" fill="#e62620"/>
<rect x="363.05" y="344.41" width="3.42" height="5.81" fill="#57b94b"/>
<rect x="366.47" y="344.41" width="2.28" height="5.81" fill="#f08022"/>
<rect x="27.32" y="351.68" width="16.23" height="7.42" fill="#cdcdcd"/>
<rect x="27.32" y="352.27" width="16.23" height="6.23" fill="#57b94b"/>
<rect x="44.2" y="351.68" width="16.23" height="7.42" fill="#cdcdcd"/>
<rect x="61.09" y="351.68" width="16.23" height="7.42" fill="#cdcdcd"/>
<rect x="77.97" y="351.68" width="16.23" height="7.42" fill="#cdcdcd"/>
<rect x="94.84" y="351.68" width="16.23" height="7.42" fill="#cdcdcd"/>
<rect x="111.72" y="351.68" width="16.23" height="7.42" fill="#cdcdcd"/>
<rect x="128.6" y="351.68" width="16.23" height="7.42" fill="#cdcdcd"/>
<rect x="145.48" y="351.68" width="16.23" height="7.42" fill="#cdcdcd"/>
<rect x="162.36" y="351.68" width="16.23" height="7.42" fill="#cdcdcd"/>
<rect x="179.24" y="351.68" width="16.23" height="7.42" fill="#cdcdcd"/>
<rect x="179.24" y="352.94" width="16.23" height="4.9" fill="#f08022"/>
<rect x="196.12" y="351.68" width="16.23" height="7.42" fill="#cdcdcd"/>
<rect x="196.12" y="351.68" width="16.23" height="7.42" fill="#e62620"/>
<rect x="213" y="351.68" width="16.23" height="7.42" fill="#cdcdcd"/>
<rect x="229.88" y="351.68" width="16.23" height="7.42" fill="#cdcdcd"/>
<rect x="246.76" y="351.68" width="16.23" height="7.42" fill="#cdcdcd"/>
<rect x="263.64" y="351.68" width="16.23" height="7.42" fill="#cdcdcd"/>
<rect x="280.52" y="351.68" width="16.23" height="7.42" fill="#cdcdcd"/>
<rect x="280.52" y="352.53" width="16.23" height="5.71" fill="#9450a8"/>
<rect x="297.4" y="351.68" width="16.23" height="7.42" fill="#cdcdcd"/>
<text x="25.1" y="357.22" font-size="8.4" fill="#1a1a1a" text-anchor="end" font-weight="normal" stroke="#1a1a1a" stroke-width="0.12">23.5%</text>
<text x="315.8" y="357.12" font-size="8.4" fill="#1a1a1a" text-anchor="start" font-weight="normal" stroke="#1a1a1a" stroke-width="0.12">CDKN1B</text>
<rect x="360.2" y="352.48" width="1.14" height="5.81" fill="#e62620"/>
<rect x="361.34" y="352.48" width="2.28" height="5.81" fill="#57b94b"/>
<rect x="363.62" y="352.48" width="1.14" height="5.81" fill="#9450a8"/>
<rect x="364.76" y="352.48" width="1.14" height="5.81" fill="#f08022"/>
<rect x="27.32" y="359.75" width="16.23" height="7.42" fill="#cdcdcd"/>
<rect x="44.2" y="359.75" width="16.23" height="7.42" fill="#cdcdcd"/>
<rect x="44.2" y="359.75" width="16.23" height="7.42" fill="#e62620"/>
<rect x="61.09" y="359.75" width="16.23" height="7.42" fill="#cdcdcd"/>
<rect x="77.97" y="359.75" width="16.23" height="7.42" fill="#cdcdcd"/>
<rect x="94.84" y="359.75" width="16.23" height="7.42" fill="#cdcdcd"/>
<rect x="111.72" y="359.75" width="16.23" height="7.42" fill="#cdcdcd"/>
<rect x="128.6" y="359.75" width="16.23" height="7.42" fill="#cdcdcd"/>
<rect x="145.48" y="359.75" width="16.23" height="7.42" fill="#cdcdcd"/>
<rect x="162.36" y="359.75" width="16.23" height="7.42" fill="#cdcdcd"/>
<rect x="179.24" y="359.75" width="16.23" height="7.42" fill="#cdcdcd"/>
<rect x="179.24" y="360.26" width="16.23" height="6.38" fill="#3f7ebd"/>
<rect x="196.12" y="359.75" width="16.23" height="7.42" fill="#cdcdcd"/>
<rect x="213" y="359.75" width="16.23" height="7.42" fill="#cdcdcd"/>
<rect x="229.88" y="359.75" width="16.23" height="7.42" fill="#cdcdcd"/>
<rect x="246.76" y="359.75" width="16.23" height="7.42" fill="#cdcdcd"/>
<rect x="246.76" y="359.75" width="16.23" height="7.42" fill="#e62620"/>
<rect x="263.64" y="359.75" width="16.23" height="7.42" fill="#cdcdcd"/>
<rect x="263.64" y="359.75" width="16.23" height="7.42" fill="#e62620"/>
<rect x="280.52" y="359.75" width="16.23" height="7.42" fill="#cdcdcd"/>
<rect x="297.4" y="359.75" width="16.23" height="7.42" fill="#cdcdcd"/>
<text x="25.1" y="365.3" font-size="8.4" fill="#1a1a1a" text-anchor="end" font-weight="normal" stroke="#1a1a1a" stroke-width="0.12">23.5%</text>
<text x="315.8" y="365.2" font-size="8.4" fill="#1a1a1a" text-anchor="start" font-weight="normal" stroke="#1a1a1a" stroke-width="0.12">DTX1</text>
<rect x="360.2" y="360.55" width="5.13" height="5.81" fill="#e62620"/>
<rect x="365.33" y="360.55" width="1.14" height="5.81" fill="#3f7ebd"/>
<rect x="27.32" y="367.81" width="16.23" height="7.42" fill="#cdcdcd"/>
<rect x="27.32" y="367.81" width="16.23" height="7.42" fill="#e62620"/>
<rect x="27.32" y="369.22" width="16.23" height="4.6" fill="#eefb47"/>
<rect x="44.2" y="367.81" width="16.23" height="7.42" fill="#cdcdcd"/>
<rect x="61.09" y="367.81" width="16.23" height="7.42" fill="#cdcdcd"/>
<rect x="77.97" y="367.81" width="16.23" height="7.42" fill="#cdcdcd"/>
<rect x="94.84" y="367.81" width="16.23" height="7.42" fill="#cdcdcd"/>
<rect x="94.84" y="367.81" width="16.23" height="7.42" fill="#e62620"/>
<rect x="94.84" y="368.67" width="16.23" height="5.71" fill="#9450a8"/>
<rect x="111.72" y="367.81" width="16.23" height="7.42" fill="#cdcdcd"/>
<rect x="128.6" y="367.81" width="16.23" height="7.42" fill="#cdcdcd"/>
<rect x="145.48" y="367.81" width="16.23" height="7.42" fill="#cdcdcd"/>
<rect x="162.36" y="367.81" width="16.23" height="7.42" fill="#cdcdcd"/>
<rect x="179.24" y="367.81" width="16.23" height="7.42" fill="#cdcdcd"/>
<rect x="179.24" y="369.08" width="16.23" height="4.9" fill="#f08022"/>
<rect x="196.12" y="367.81" width="16.23" height="7.42" fill="#cdcdcd"/>
<rect x="213" y="367.81" width="16.23" height="7.42" fill="#cdcdcd"/>
<rect x="229.88" y="367.81" width="16.23" height="7.42" fill="#cdcdcd"/>
<rect x="246.76" y="367.81" width="16.23" height="7.42" fill="#cdcdcd"/>
<rect x="263.64" y="367.81" width="16.23" height="7.42" fill="#cdcdcd"/>
<rect x="280.52" y="367.81" width="16.23" height="7.42" fill="#cdcdcd"/>
<rect x="280.52" y="367.81" width="16.23" height="7.42" fill="#e62620"/>
<rect x="297.4" y="367.81" width="16.23" height="7.42" fill="#cdcdcd"/>
<text x="25.1" y="373.38" font-size="8.4" fill="#1a1a1a" text-anchor="end" font-weight="normal" stroke="#1a1a1a" stroke-width="0.12">23.5%</text>
<text x="315.8" y="373.28" font-size="8.4" fill="#1a1a1a" text-anchor="start" font-weight="normal" stroke="#1a1a1a" stroke-width="0.12">DUSP2</text>
<rect x="360.2" y="368.62" width="5.13" height="5.81" fill="#e62620"/>
<rect x="365.33" y="368.62" width="2.28" height="5.81" fill="#9450a8"/>
<rect x="367.61" y="368.62" width="1.14" height="5.81" fill="#f08022"/>
<rect x="368.75" y="368.62" width="1.14" height="5.81" fill="#eefb47"/>
<rect x="27.32" y="375.88" width="16.23" height="7.42" fill="#cdcdcd"/>
<rect x="44.2" y="375.88" width="16.23" height="7.42" fill="#cdcdcd"/>
<rect x="61.09" y="375.88" width="16.23" height="7.42" fill="#cdcdcd"/>
<rect x="77.97" y="375.88" width="16.23" height="7.42" fill="#cdcdcd"/>
<rect x="94.84" y="375.88" width="16.23" height="7.42" fill="#cdcdcd"/>
<rect x="94.84" y="375.88" width="16.23" height="7.42" fill="#e62620"/>
<rect x="111.72" y="375.88" width="16.23" height="7.42" fill="#cdcdcd"/>
<rect x="128.6" y="375.88" width="16.23" height="7.42" fill="#cdcdcd"/>
<rect x="145.48" y="375.88" width="16.23" height="7.42" fill="#cdcdcd"/>
<rect x="145.48" y="375.88" width="16.23" height="7.42" fill="#e62620"/>
<rect x="162.36" y="375.88" width="16.23" height="7.42" fill="#cdcdcd"/>
<rect x="179.24" y="375.88" width="16.23" height="7.42" fill="#cdcdcd"/>
<rect x="179.24" y="375.88" width="16.23" height="7.42" fill="#e62620"/>
<rect x="196.12" y="375.88" width="16.23" height="7.42" fill="#cdcdcd"/>
<rect x="196.12" y="375.88" width="16.23" height="7.42" fill="#e62620"/>
<rect x="213" y="375.88" width="16.23" height="7.42" fill="#cdcdcd"/>
<rect x="229.88" y="375.88" width="16.23" height="7.42" fill="#cdcdcd"/>
<rect x="246.76" y="375.88" width="16.23" height="7.42" fill="#cdcdcd"/>
<rect x="263.64" y="375.88" width="16.23" height="7.42" fill="#cdcdcd"/>
<rect x="280.52" y="375.88" width="16.23" height="7.42" fill="#cdcdcd"/>
<rect x="297.4" y="375.88" width="16.23" height="7.42" fill="#cdcdcd"/>
<text x="25.1" y="381.46" font-size="8.4" fill="#1a1a1a" text-anchor="end" font-weight="normal" stroke="#1a1a1a" stroke-width="0.12">23.5%</text>
<text x="315.8" y="381.36" font-size="8.4" fill="#1a1a1a" text-anchor="start" font-weight="normal" stroke="#1a1a1a" stroke-width="0.12">H1−4</text>
<rect x="360.2" y="376.69" width="5.13" height="5.81" fill="#e62620"/>
<rect x="27.32" y="383.95" width="16.23" height="7.42" fill="#cdcdcd"/>
<rect x="27.32" y="383.95" width="16.23" height="7.42" fill="#e62620"/>
<rect x="44.2" y="383.95" width="16.23" height="7.42" fill="#cdcdcd"/>
<rect x="61.09" y="383.95" width="16.23" height="7.42" fill="#cdcdcd"/>
<rect x="77.97" y="383.95" width="16.23" height="7.42" fill="#cdcdcd"/>
<rect x="94.84" y="383.95" width="16.23" height="7.42" fill="#cdcdcd"/>
<rect x="111.72" y="383.95" width="16.23" height="7.42" fill="#cdcdcd"/>
<rect x="111.72" y="383.95" width="16.23" height="7.42" fill="#e62620"/>
<rect x="128.6" y="383.95" width="16.23" height="7.42" fill="#cdcdcd"/>
<rect x="145.48" y="383.95" width="16.23" height="7.42" fill="#cdcdcd"/>
<rect x="162.36" y="383.95" width="16.23" height="7.42" fill="#cdcdcd"/>
<rect x="179.24" y="383.95" width="16.23" height="7.42" fill="#cdcdcd"/>
<rect x="179.24" y="383.95" width="16.23" height="7.42" fill="#e62620"/>
<rect x="196.12" y="383.95" width="16.23" height="7.42" fill="#cdcdcd"/>
<rect x="213" y="383.95" width="16.23" height="7.42" fill="#cdcdcd"/>
<rect x="229.88" y="383.95" width="16.23" height="7.42" fill="#cdcdcd"/>
<rect x="246.76" y="383.95" width="16.23" height="7.42" fill="#cdcdcd"/>
<rect x="263.64" y="383.95" width="16.23" height="7.42" fill="#cdcdcd"/>
<rect x="263.64" y="383.95" width="16.23" height="7.42" fill="#e62620"/>
<rect x="280.52" y="383.95" width="16.23" height="7.42" fill="#cdcdcd"/>
<rect x="297.4" y="383.95" width="16.23" height="7.42" fill="#cdcdcd"/>
<text x="25.1" y="389.55" font-size="8.4" fill="#1a1a1a" text-anchor="end" font-weight="normal" stroke="#1a1a1a" stroke-width="0.12">23.5%</text>
<text x="315.8" y="389.45" font-size="8.4" fill="#1a1a1a" text-anchor="start" font-weight="normal" stroke="#1a1a1a" stroke-width="0.12">IRF4</text>
<rect x="360.2" y="384.76" width="5.13" height="5.81" fill="#e62620"/>
<rect x="27.32" y="392.02" width="16.23" height="7.42" fill="#cdcdcd"/>
<rect x="44.2" y="392.02" width="16.23" height="7.42" fill="#cdcdcd"/>
<rect x="61.09" y="392.02" width="16.23" height="7.42" fill="#cdcdcd"/>
<rect x="77.97" y="392.02" width="16.23" height="7.42" fill="#cdcdcd"/>
<rect x="94.84" y="392.02" width="16.23" height="7.42" fill="#cdcdcd"/>
<rect x="94.84" y="392.62" width="16.23" height="6.23" fill="#57b94b"/>
<rect x="111.72" y="392.02" width="16.23" height="7.42" fill="#cdcdcd"/>
<rect x="111.72" y="392.02" width="16.23" height="7.42" fill="#e62620"/>
<rect x="128.6" y="392.02" width="16.23" height="7.42" fill="#cdcdcd"/>
<rect x="145.48" y="392.02" width="16.23" height="7.42" fill="#cdcdcd"/>
<rect x="162.36" y="392.02" width="16.23" height="7.42" fill="#cdcdcd"/>
<rect x="179.24" y="392.02" width="16.23" height="7.42" fill="#cdcdcd"/>
<rect x="179.24" y="392.02" width="16.23" height="7.42" fill="#e62620"/>
<rect x="196.12" y="392.02" width="16.23" height="7.42" fill="#cdcdcd"/>
<rect x="213" y="392.02" width="16.23" height="7.42" fill="#cdcdcd"/>
<rect x="229.88" y="392.02" width="16.23" height="7.42" fill="#cdcdcd"/>
<rect x="246.76" y="392.02" width="16.23" height="7.42" fill="#cdcdcd"/>
<rect x="263.64" y="392.02" width="16.23" height="7.42" fill="#cdcdcd"/>
<rect x="280.52" y="392.02" width="16.23" height="7.42" fill="#cdcdcd"/>
<rect x="297.4" y="392.02" width="16.23" height="7.42" fill="#cdcdcd"/>
<text x="25.1" y="397.63" font-size="8.4" fill="#1a1a1a" text-anchor="end" font-weight="normal" stroke="#1a1a1a" stroke-width="0.12">17.6%</text>
<text x="315.8" y="397.53" font-size="8.4" fill="#1a1a1a" text-anchor="start" font-weight="normal" stroke="#1a1a1a" stroke-width="0.12">BTG1</text>
<rect x="360.2" y="392.83" width="2.74" height="5.81" fill="#e62620"/>
<rect x="362.94" y="392.83" width="1.14" height="5.81" fill="#57b94b"/>
<rect x="27.32" y="400.09" width="16.23" height="7.42" fill="#cdcdcd"/>
<rect x="27.32" y="400.95" width="16.23" height="5.71" fill="#9450a8"/>
<rect x="44.2" y="400.09" width="16.23" height="7.42" fill="#cdcdcd"/>
<rect x="61.09" y="400.09" width="16.23" height="7.42" fill="#cdcdcd"/>
<rect x="77.97" y="400.09" width="16.23" height="7.42" fill="#cdcdcd"/>
<rect x="94.84" y="400.09" width="16.23" height="7.42" fill="#cdcdcd"/>
<rect x="111.72" y="400.09" width="16.23" height="7.42" fill="#cdcdcd"/>
<rect x="128.6" y="400.09" width="16.23" height="7.42" fill="#cdcdcd"/>
<rect x="145.48" y="400.09" width="16.23" height="7.42" fill="#cdcdcd"/>
<rect x="162.36" y="400.09" width="16.23" height="7.42" fill="#cdcdcd"/>
<rect x="179.24" y="400.09" width="16.23" height="7.42" fill="#cdcdcd"/>
<rect x="196.12" y="400.09" width="16.23" height="7.42" fill="#cdcdcd"/>
<rect x="213" y="400.09" width="16.23" height="7.42" fill="#cdcdcd"/>
<rect x="229.88" y="400.09" width="16.23" height="7.42" fill="#cdcdcd"/>
<rect x="246.76" y="400.09" width="16.23" height="7.42" fill="#cdcdcd"/>
<rect x="263.64" y="400.09" width="16.23" height="7.42" fill="#cdcdcd"/>
<rect x="280.52" y="400.09" width="16.23" height="7.42" fill="#cdcdcd"/>
<rect x="280.52" y="401.36" width="16.23" height="4.9" fill="#f08022"/>
<rect x="297.4" y="400.09" width="16.23" height="7.42" fill="#cdcdcd"/>
<rect x="297.4" y="400.95" width="16.23" height="5.71" fill="#9450a8"/>
<text x="25.1" y="405.71" font-size="8.4" fill="#1a1a1a" text-anchor="end" font-weight="normal" stroke="#1a1a1a" stroke-width="0.12">17.6%</text>
<text x="315.8" y="405.61" font-size="8.4" fill="#1a1a1a" text-anchor="start" font-weight="normal" stroke="#1a1a1a" stroke-width="0.12">ETV6</text>
<rect x="360.2" y="400.9" width="1.37" height="5.81" fill="#57b94b"/>
<rect x="361.57" y="400.9" width="2.51" height="5.81" fill="#9450a8"/>
<rect x="364.08" y="400.9" width="1.37" height="5.81" fill="#f08022"/>
<rect x="27.32" y="408.17" width="16.23" height="7.42" fill="#cdcdcd"/>
<rect x="44.2" y="408.17" width="16.23" height="7.42" fill="#cdcdcd"/>
<rect x="61.09" y="408.17" width="16.23" height="7.42" fill="#cdcdcd"/>
<rect x="77.97" y="408.17" width="16.23" height="7.42" fill="#cdcdcd"/>
<rect x="94.84" y="408.17" width="16.23" height="7.42" fill="#cdcdcd"/>
<rect x="94.84" y="408.17" width="16.23" height="7.42" fill="#e62620"/>
<rect x="94.84" y="409.43" width="16.23" height="4.9" fill="#f08022"/>
<rect x="111.72" y="408.17" width="16.23" height="7.42" fill="#cdcdcd"/>
<rect x="111.72" y="408.17" width="16.23" height="7.42" fill="#e62620"/>
<rect x="128.6" y="408.17" width="16.23" height="7.42" fill="#cdcdcd"/>
<rect x="145.48" y="408.17" width="16.23" height="7.42" fill="#cdcdcd"/>
<rect x="162.36" y="408.17" width="16.23" height="7.42" fill="#cdcdcd"/>
<rect x="179.24" y="408.17" width="16.23" height="7.42" fill="#cdcdcd"/>
<rect x="196.12" y="408.17" width="16.23" height="7.42" fill="#cdcdcd"/>
<rect x="213" y="408.17" width="16.23" height="7.42" fill="#cdcdcd"/>
<rect x="229.88" y="408.17" width="16.23" height="7.42" fill="#cdcdcd"/>
<rect x="246.76" y="408.17" width="16.23" height="7.42" fill="#cdcdcd"/>
<rect x="263.64" y="408.17" width="16.23" height="7.42" fill="#cdcdcd"/>
<rect x="263.64" y="408.17" width="16.23" height="7.42" fill="#e62620"/>
<rect x="280.52" y="408.17" width="16.23" height="7.42" fill="#cdcdcd"/>
<rect x="297.4" y="408.17" width="16.23" height="7.42" fill="#cdcdcd"/>
<text x="25.1" y="413.8" font-size="8.4" fill="#1a1a1a" text-anchor="end" font-weight="normal" stroke="#1a1a1a" stroke-width="0.12">17.6%</text>
<text x="315.8" y="413.7" font-size="8.4" fill="#1a1a1a" text-anchor="start" font-weight="normal" stroke="#1a1a1a" stroke-width="0.12">FAT4</text>
<rect x="360.2" y="408.97" width="3.88" height="5.81" fill="#e62620"/>
<rect x="364.08" y="408.97" width="1.37" height="5.81" fill="#f08022"/>
<rect x="27.32" y="416.23" width="16.23" height="7.42" fill="#cdcdcd"/>
<rect x="27.32" y="416.75" width="16.23" height="6.38" fill="#3f7ebd"/>
<rect x="44.2" y="416.23" width="16.23" height="7.42" fill="#cdcdcd"/>
<rect x="61.09" y="416.23" width="16.23" height="7.42" fill="#cdcdcd"/>
<rect x="77.97" y="416.23" width="16.23" height="7.42" fill="#cdcdcd"/>
<rect x="94.84" y="416.23" width="16.23" height="7.42" fill="#cdcdcd"/>
<rect x="111.72" y="416.23" width="16.23" height="7.42" fill="#cdcdcd"/>
<rect x="128.6" y="416.23" width="16.23" height="7.42" fill="#cdcdcd"/>
<rect x="145.48" y="416.23" width="16.23" height="7.42" fill="#cdcdcd"/>
<rect x="145.48" y="416.23" width="16.23" height="7.42" fill="#e62620"/>
<rect x="162.36" y="416.23" width="16.23" height="7.42" fill="#cdcdcd"/>
<rect x="179.24" y="416.23" width="16.23" height="7.42" fill="#cdcdcd"/>
<rect x="179.24" y="416.23" width="16.23" height="7.42" fill="#e62620"/>
<rect x="196.12" y="416.23" width="16.23" height="7.42" fill="#cdcdcd"/>
<rect x="213" y="416.23" width="16.23" height="7.42" fill="#cdcdcd"/>
<rect x="229.88" y="416.23" width="16.23" height="7.42" fill="#cdcdcd"/>
<rect x="246.76" y="416.23" width="16.23" height="7.42" fill="#cdcdcd"/>
<rect x="263.64" y="416.23" width="16.23" height="7.42" fill="#cdcdcd"/>
<rect x="280.52" y="416.23" width="16.23" height="7.42" fill="#cdcdcd"/>
<rect x="297.4" y="416.23" width="16.23" height="7.42" fill="#cdcdcd"/>
<text x="25.1" y="421.88" font-size="8.4" fill="#1a1a1a" text-anchor="end" font-weight="normal" stroke="#1a1a1a" stroke-width="0.12">17.6%</text>
<text x="315.8" y="421.78" font-size="8.4" fill="#1a1a1a" text-anchor="start" font-weight="normal" stroke="#1a1a1a" stroke-width="0.12">MYC</text>
<rect x="360.2" y="417.04" width="3.88" height="5.81" fill="#e62620"/>
<rect x="364.08" y="417.04" width="1.37" height="5.81" fill="#3f7ebd"/>
<rect x="27.32" y="424.31" width="16.23" height="7.42" fill="#cdcdcd"/>
<rect x="27.32" y="426.27" width="16.23" height="3.49" fill="#f282c8"/>
<rect x="44.2" y="424.31" width="16.23" height="7.42" fill="#cdcdcd"/>
<rect x="61.09" y="424.31" width="16.23" height="7.42" fill="#cdcdcd"/>
<rect x="77.97" y="424.31" width="16.23" height="7.42" fill="#cdcdcd"/>
<rect x="94.84" y="424.31" width="16.23" height="7.42" fill="#cdcdcd"/>
<rect x="111.72" y="424.31" width="16.23" height="7.42" fill="#cdcdcd"/>
<rect x="128.6" y="424.31" width="16.23" height="7.42" fill="#cdcdcd"/>
<rect x="145.48" y="424.31" width="16.23" height="7.42" fill="#cdcdcd"/>
<rect x="162.36" y="424.31" width="16.23" height="7.42" fill="#cdcdcd"/>
<rect x="179.24" y="424.31" width="16.23" height="7.42" fill="#cdcdcd"/>
<rect x="179.24" y="426.27" width="16.23" height="3.49" fill="#f282c8"/>
<rect x="196.12" y="424.31" width="16.23" height="7.42" fill="#cdcdcd"/>
<rect x="213" y="424.31" width="16.23" height="7.42" fill="#cdcdcd"/>
<rect x="229.88" y="424.31" width="16.23" height="7.42" fill="#cdcdcd"/>
<rect x="246.76" y="424.31" width="16.23" height="7.42" fill="#cdcdcd"/>
<rect x="263.64" y="424.31" width="16.23" height="7.42" fill="#cdcdcd"/>
<rect x="280.52" y="424.31" width="16.23" height="7.42" fill="#cdcdcd"/>
<rect x="297.4" y="424.31" width="16.23" height="7.42" fill="#cdcdcd"/>
<text x="25.1" y="429.96" font-size="8.4" fill="#1a1a1a" text-anchor="end" font-weight="normal" stroke="#1a1a1a" stroke-width="0.12">11.8%</text>
<text x="315.8" y="429.86" font-size="8.4" fill="#1a1a1a" text-anchor="start" font-weight="normal" stroke="#1a1a1a" stroke-width="0.12">CDKN2A</text>
<rect x="360.2" y="425.11" width="2.74" height="5.81" fill="#f282c8"/>
<rect x="27.32" y="432.38" width="16.23" height="7.42" fill="#cdcdcd"/>
<rect x="44.2" y="432.38" width="16.23" height="7.42" fill="#cdcdcd"/>
<rect x="61.09" y="432.38" width="16.23" height="7.42" fill="#cdcdcd"/>
<rect x="77.97" y="432.38" width="16.23" height="7.42" fill="#cdcdcd"/>
<rect x="94.84" y="432.38" width="16.23" height="7.42" fill="#cdcdcd"/>
<rect x="111.72" y="432.38" width="16.23" height="7.42" fill="#cdcdcd"/>
<rect x="111.72" y="434.34" width="16.23" height="3.49" fill="#f282c8"/>
<rect x="128.6" y="432.38" width="16.23" height="7.42" fill="#cdcdcd"/>
<rect x="145.48" y="432.38" width="16.23" height="7.42" fill="#cdcdcd"/>
<rect x="162.36" y="432.38" width="16.23" height="7.42" fill="#cdcdcd"/>
<rect x="179.24" y="432.38" width="16.23" height="7.42" fill="#cdcdcd"/>
<rect x="179.24" y="434.34" width="16.23" height="3.49" fill="#f282c8"/>
<rect x="196.12" y="432.38" width="16.23" height="7.42" fill="#cdcdcd"/>
<rect x="213" y="432.38" width="16.23" height="7.42" fill="#cdcdcd"/>
<rect x="229.88" y="432.38" width="16.23" height="7.42" fill="#cdcdcd"/>
<rect x="246.76" y="432.38" width="16.23" height="7.42" fill="#cdcdcd"/>
<rect x="263.64" y="432.38" width="16.23" height="7.42" fill="#cdcdcd"/>
<rect x="280.52" y="432.38" width="16.23" height="7.42" fill="#cdcdcd"/>
<rect x="297.4" y="432.38" width="16.23" height="7.42" fill="#cdcdcd"/>
<text x="25.1" y="438.05" font-size="8.4" fill="#1a1a1a" text-anchor="end" font-weight="normal" stroke="#1a1a1a" stroke-width="0.12">11.8%</text>
<text x="315.8" y="437.94" font-size="8.4" fill="#1a1a1a" text-anchor="start" font-weight="normal" stroke="#1a1a1a" stroke-width="0.12">CDKN2B</text>
<rect x="360.2" y="433.18" width="2.74" height="5.81" fill="#f282c8"/>
<rect x="27.32" y="440.44" width="16.23" height="7.42" fill="#cdcdcd"/>
<rect x="44.2" y="440.44" width="16.23" height="7.42" fill="#cdcdcd"/>
<rect x="61.09" y="440.44" width="16.23" height="7.42" fill="#cdcdcd"/>
<rect x="77.97" y="440.44" width="16.23" height="7.42" fill="#cdcdcd"/>
<rect x="94.84" y="440.44" width="16.23" height="7.42" fill="#cdcdcd"/>
<rect x="94.84" y="440.44" width="16.23" height="7.42" fill="#e62620"/>
<rect x="111.72" y="440.44" width="16.23" height="7.42" fill="#cdcdcd"/>
<rect x="128.6" y="440.44" width="16.23" height="7.42" fill="#cdcdcd"/>
<rect x="145.48" y="440.44" width="16.23" height="7.42" fill="#cdcdcd"/>
<rect x="162.36" y="440.44" width="16.23" height="7.42" fill="#cdcdcd"/>
<rect x="179.24" y="440.44" width="16.23" height="7.42" fill="#cdcdcd"/>
<rect x="196.12" y="440.44" width="16.23" height="7.42" fill="#cdcdcd"/>
<rect x="213" y="440.44" width="16.23" height="7.42" fill="#cdcdcd"/>
<rect x="229.88" y="440.44" width="16.23" height="7.42" fill="#cdcdcd"/>
<rect x="246.76" y="440.44" width="16.23" height="7.42" fill="#cdcdcd"/>
<rect x="263.64" y="440.44" width="16.23" height="7.42" fill="#cdcdcd"/>
<rect x="280.52" y="440.44" width="16.23" height="7.42" fill="#cdcdcd"/>
<rect x="280.52" y="440.44" width="16.23" height="7.42" fill="#e62620"/>
<rect x="297.4" y="440.44" width="16.23" height="7.42" fill="#cdcdcd"/>
<text x="25.1" y="446.13" font-size="8.4" fill="#1a1a1a" text-anchor="end" font-weight="normal" stroke="#1a1a1a" stroke-width="0.12">11.8%</text>
<text x="315.8" y="446.03" font-size="8.4" fill="#1a1a1a" text-anchor="start" font-weight="normal" stroke="#1a1a1a" stroke-width="0.12">EP300</text>
<rect x="360.2" y="441.25" width="2.74" height="5.81" fill="#e62620"/>
<rect x="27.32" y="448.51" width="16.23" height="7.42" fill="#cdcdcd"/>
<rect x="44.2" y="448.51" width="16.23" height="7.42" fill="#cdcdcd"/>
<rect x="61.09" y="448.51" width="16.23" height="7.42" fill="#cdcdcd"/>
<rect x="77.97" y="448.51" width="16.23" height="7.42" fill="#cdcdcd"/>
<rect x="94.84" y="448.51" width="16.23" height="7.42" fill="#cdcdcd"/>
<rect x="111.72" y="448.51" width="16.23" height="7.42" fill="#cdcdcd"/>
<rect x="128.6" y="448.51" width="16.23" height="7.42" fill="#cdcdcd"/>
<rect x="145.48" y="448.51" width="16.23" height="7.42" fill="#cdcdcd"/>
<rect x="162.36" y="448.51" width="16.23" height="7.42" fill="#cdcdcd"/>
<rect x="179.24" y="448.51" width="16.23" height="7.42" fill="#cdcdcd"/>
<rect x="179.24" y="448.51" width="16.23" height="7.42" fill="#e62620"/>
<rect x="196.12" y="448.51" width="16.23" height="7.42" fill="#cdcdcd"/>
<rect x="213" y="448.51" width="16.23" height="7.42" fill="#cdcdcd"/>
<rect x="229.88" y="448.51" width="16.23" height="7.42" fill="#cdcdcd"/>
<rect x="246.76" y="448.51" width="16.23" height="7.42" fill="#cdcdcd"/>
<rect x="246.76" y="448.51" width="16.23" height="7.42" fill="#e62620"/>
<rect x="263.64" y="448.51" width="16.23" height="7.42" fill="#cdcdcd"/>
<rect x="280.52" y="448.51" width="16.23" height="7.42" fill="#cdcdcd"/>
<rect x="297.4" y="448.51" width="16.23" height="7.42" fill="#cdcdcd"/>
<text x="25.1" y="454.21" font-size="8.4" fill="#1a1a1a" text-anchor="end" font-weight="normal" stroke="#1a1a1a" stroke-width="0.12">11.8%</text>
<text x="315.8" y="454.11" font-size="8.4" fill="#1a1a1a" text-anchor="start" font-weight="normal" stroke="#1a1a1a" stroke-width="0.12">ETS1</text>
<rect x="360.2" y="449.32" width="2.74" height="5.81" fill="#e62620"/>
<rect x="27.32" y="456.58" width="16.23" height="7.42" fill="#cdcdcd"/>
<rect x="44.2" y="456.58" width="16.23" height="7.42" fill="#cdcdcd"/>
<rect x="61.09" y="456.58" width="16.23" height="7.42" fill="#cdcdcd"/>
<rect x="77.97" y="456.58" width="16.23" height="7.42" fill="#cdcdcd"/>
<rect x="94.84" y="456.58" width="16.23" height="7.42" fill="#cdcdcd"/>
<rect x="111.72" y="456.58" width="16.23" height="7.42" fill="#cdcdcd"/>
<rect x="111.72" y="456.58" width="16.23" height="7.42" fill="#e62620"/>
<rect x="128.6" y="456.58" width="16.23" height="7.42" fill="#cdcdcd"/>
<rect x="145.48" y="456.58" width="16.23" height="7.42" fill="#cdcdcd"/>
<rect x="162.36" y="456.58" width="16.23" height="7.42" fill="#cdcdcd"/>
<rect x="179.24" y="456.58" width="16.23" height="7.42" fill="#cdcdcd"/>
<rect x="196.12" y="456.58" width="16.23" height="7.42" fill="#cdcdcd"/>
<rect x="213" y="456.58" width="16.23" height="7.42" fill="#cdcdcd"/>
<rect x="229.88" y="456.58" width="16.23" height="7.42" fill="#cdcdcd"/>
<rect x="246.76" y="456.58" width="16.23" height="7.42" fill="#cdcdcd"/>
<rect x="263.64" y="456.58" width="16.23" height="7.42" fill="#cdcdcd"/>
<rect x="263.64" y="456.58" width="16.23" height="7.42" fill="#e62620"/>
<rect x="280.52" y="456.58" width="16.23" height="7.42" fill="#cdcdcd"/>
<rect x="297.4" y="456.58" width="16.23" height="7.42" fill="#cdcdcd"/>
<text x="25.1" y="462.29" font-size="8.4" fill="#1a1a1a" text-anchor="end" font-weight="normal" stroke="#1a1a1a" stroke-width="0.12">11.8%</text>
<text x="315.8" y="462.19" font-size="8.4" fill="#1a1a1a" text-anchor="start" font-weight="normal" stroke="#1a1a1a" stroke-width="0.12">FAT1</text>
<rect x="360.2" y="457.39" width="2.74" height="5.81" fill="#e62620"/>
<rect x="27.32" y="464.66" width="16.23" height="7.42" fill="#cdcdcd"/>
<rect x="44.2" y="464.66" width="16.23" height="7.42" fill="#cdcdcd"/>
<rect x="61.09" y="464.66" width="16.23" height="7.42" fill="#cdcdcd"/>
<rect x="77.97" y="464.66" width="16.23" height="7.42" fill="#cdcdcd"/>
<rect x="94.84" y="464.66" width="16.23" height="7.42" fill="#cdcdcd"/>
<rect x="111.72" y="464.66" width="16.23" height="7.42" fill="#cdcdcd"/>
<rect x="111.72" y="465.51" width="16.23" height="5.71" fill="#9450a8"/>
<rect x="128.6" y="464.66" width="16.23" height="7.42" fill="#cdcdcd"/>
<rect x="145.48" y="464.66" width="16.23" height="7.42" fill="#cdcdcd"/>
<rect x="162.36" y="464.66" width="16.23" height="7.42" fill="#cdcdcd"/>
<rect x="179.24" y="464.66" width="16.23" height="7.42" fill="#cdcdcd"/>
<rect x="179.24" y="464.66" width="16.23" height="7.42" fill="#e62620"/>
<rect x="179.24" y="465.51" width="16.23" height="5.71" fill="#9450a8"/>
<rect x="196.12" y="464.66" width="16.23" height="7.42" fill="#cdcdcd"/>
<rect x="213" y="464.66" width="16.23" height="7.42" fill="#cdcdcd"/>
<rect x="229.88" y="464.66" width="16.23" height="7.42" fill="#cdcdcd"/>
<rect x="246.76" y="464.66" width="16.23" height="7.42" fill="#cdcdcd"/>
<rect x="263.64" y="464.66" width="16.23" height="7.42" fill="#cdcdcd"/>
<rect x="280.52" y="464.66" width="16.23" height="7.42" fill="#cdcdcd"/>
<rect x="297.4" y="464.66" width="16.23" height="7.42" fill="#cdcdcd"/>
<text x="25.1" y="470.38" font-size="8.4" fill="#1a1a1a" text-anchor="end" font-weight="normal" stroke="#1a1a1a" stroke-width="0.12">11.8%</text>
<text x="315.8" y="470.28" font-size="8.4" fill="#1a1a1a" text-anchor="start" font-weight="normal" stroke="#1a1a1a" stroke-width="0.12">IKZF3</text>
<rect x="360.2" y="465.46" width="1.37" height="5.81" fill="#e62620"/>
<rect x="361.57" y="465.46" width="2.51" height="5.81" fill="#9450a8"/>
<rect x="27.32" y="472.72" width="16.23" height="7.42" fill="#cdcdcd"/>
<rect x="44.2" y="472.72" width="16.23" height="7.42" fill="#cdcdcd"/>
<rect x="61.09" y="472.72" width="16.23" height="7.42" fill="#cdcdcd"/>
<rect x="77.97" y="472.72" width="16.23" height="7.42" fill="#cdcdcd"/>
<rect x="94.84" y="472.72" width="16.23" height="7.42" fill="#cdcdcd"/>
<rect x="111.72" y="472.72" width="16.23" height="7.42" fill="#cdcdcd"/>
<rect x="128.6" y="472.72" width="16.23" height="7.42" fill="#cdcdcd"/>
<rect x="145.48" y="472.72" width="16.23" height="7.42" fill="#cdcdcd"/>
<rect x="145.48" y="472.72" width="16.23" height="7.42" fill="#e62620"/>
<rect x="162.36" y="472.72" width="16.23" height="7.42" fill="#cdcdcd"/>
<rect x="179.24" y="472.72" width="16.23" height="7.42" fill="#cdcdcd"/>
<rect x="196.12" y="472.72" width="16.23" height="7.42" fill="#cdcdcd"/>
<rect x="213" y="472.72" width="16.23" height="7.42" fill="#cdcdcd"/>
<rect x="229.88" y="472.72" width="16.23" height="7.42" fill="#cdcdcd"/>
<rect x="246.76" y="472.72" width="16.23" height="7.42" fill="#cdcdcd"/>
<rect x="263.64" y="472.72" width="16.23" height="7.42" fill="#cdcdcd"/>
<rect x="280.52" y="472.72" width="16.23" height="7.42" fill="#cdcdcd"/>
<rect x="280.52" y="472.72" width="16.23" height="7.42" fill="#e62620"/>
<rect x="297.4" y="472.72" width="16.23" height="7.42" fill="#cdcdcd"/>
<text x="25.1" y="478.46" font-size="8.4" fill="#1a1a1a" text-anchor="end" font-weight="normal" stroke="#1a1a1a" stroke-width="0.12">11.8%</text>
<text x="315.8" y="478.36" font-size="8.4" fill="#1a1a1a" text-anchor="start" font-weight="normal" stroke="#1a1a1a" stroke-width="0.12">KLHL6</text>
<rect x="360.2" y="473.53" width="2.74" height="5.81" fill="#e62620"/>
<rect x="27.32" y="480.8" width="16.23" height="7.42" fill="#cdcdcd"/>
<rect x="27.32" y="480.8" width="16.23" height="7.42" fill="#e62620"/>
<rect x="44.2" y="480.8" width="16.23" height="7.42" fill="#cdcdcd"/>
<rect x="61.09" y="480.8" width="16.23" height="7.42" fill="#cdcdcd"/>
<rect x="77.97" y="480.8" width="16.23" height="7.42" fill="#cdcdcd"/>
<rect x="94.84" y="480.8" width="16.23" height="7.42" fill="#cdcdcd"/>
<rect x="94.84" y="480.8" width="16.23" height="7.42" fill="#e62620"/>
<rect x="111.72" y="480.8" width="16.23" height="7.42" fill="#cdcdcd"/>
<rect x="128.6" y="480.8" width="16.23" height="7.42" fill="#cdcdcd"/>
<rect x="145.48" y="480.8" width="16.23" height="7.42" fill="#cdcdcd"/>
<rect x="162.36" y="480.8" width="16.23" height="7.42" fill="#cdcdcd"/>
<rect x="179.24" y="480.8" width="16.23" height="7.42" fill="#cdcdcd"/>
<rect x="196.12" y="480.8" width="16.23" height="7.42" fill="#cdcdcd"/>
<rect x="213" y="480.8" width="16.23" height="7.42" fill="#cdcdcd"/>
<rect x="229.88" y="480.8" width="16.23" height="7.42" fill="#cdcdcd"/>
<rect x="246.76" y="480.8" width="16.23" height="7.42" fill="#cdcdcd"/>
<rect x="263.64" y="480.8" width="16.23" height="7.42" fill="#cdcdcd"/>
<rect x="280.52" y="480.8" width="16.23" height="7.42" fill="#cdcdcd"/>
<rect x="297.4" y="480.8" width="16.23" height="7.42" fill="#cdcdcd"/>
<text x="25.1" y="486.54" font-size="8.4" fill="#1a1a1a" text-anchor="end" font-weight="normal" stroke="#1a1a1a" stroke-width="0.12">11.8%</text>
<text x="315.8" y="486.44" font-size="8.4" fill="#1a1a1a" text-anchor="start" font-weight="normal" stroke="#1a1a1a" stroke-width="0.12">P2RY8</text>
<rect x="360.2" y="481.6" width="2.74" height="5.81" fill="#e62620"/>
<rect x="27.32" y="488.87" width="16.23" height="7.42" fill="#cdcdcd"/>
<rect x="27.32" y="488.87" width="16.23" height="7.42" fill="#e62620"/>
<rect x="27.32" y="489.72" width="16.23" height="5.71" fill="#9450a8"/>
<rect x="44.2" y="488.87" width="16.23" height="7.42" fill="#cdcdcd"/>
<rect x="61.09" y="488.87" width="16.23" height="7.42" fill="#cdcdcd"/>
<rect x="77.97" y="488.87" width="16.23" height="7.42" fill="#cdcdcd"/>
<rect x="94.84" y="488.87" width="16.23" height="7.42" fill="#cdcdcd"/>
<rect x="111.72" y="488.87" width="16.23" height="7.42" fill="#cdcdcd"/>
<rect x="128.6" y="488.87" width="16.23" height="7.42" fill="#cdcdcd"/>
<rect x="145.48" y="488.87" width="16.23" height="7.42" fill="#cdcdcd"/>
<rect x="162.36" y="488.87" width="16.23" height="7.42" fill="#cdcdcd"/>
<rect x="179.24" y="488.87" width="16.23" height="7.42" fill="#cdcdcd"/>
<rect x="179.24" y="489.38" width="16.23" height="6.38" fill="#3f7ebd"/>
<rect x="179.24" y="490.13" width="16.23" height="4.9" fill="#f08022"/>
<rect x="196.12" y="488.87" width="16.23" height="7.42" fill="#cdcdcd"/>
<rect x="213" y="488.87" width="16.23" height="7.42" fill="#cdcdcd"/>
<rect x="229.88" y="488.87" width="16.23" height="7.42" fill="#cdcdcd"/>
<rect x="246.76" y="488.87" width="16.23" height="7.42" fill="#cdcdcd"/>
<rect x="263.64" y="488.87" width="16.23" height="7.42" fill="#cdcdcd"/>
<rect x="280.52" y="488.87" width="16.23" height="7.42" fill="#cdcdcd"/>
<rect x="297.4" y="488.87" width="16.23" height="7.42" fill="#cdcdcd"/>
<text x="25.1" y="494.63" font-size="8.4" fill="#1a1a1a" text-anchor="end" font-weight="normal" stroke="#1a1a1a" stroke-width="0.12">11.8%</text>
<text x="315.8" y="494.53" font-size="8.4" fill="#1a1a1a" text-anchor="start" font-weight="normal" stroke="#1a1a1a" stroke-width="0.12">PRDM1</text>
<rect x="360.2" y="489.67" width="2.74" height="5.81" fill="#e62620"/>
<rect x="362.94" y="489.67" width="1.37" height="5.81" fill="#3f7ebd"/>
<rect x="364.3" y="489.67" width="1.25" height="5.81" fill="#9450a8"/>
<rect x="365.56" y="489.67" width="1.37" height="5.81" fill="#f08022"/>
<rect x="27.32" y="496.94" width="16.23" height="7.42" fill="#cdcdcd"/>
<rect x="44.2" y="496.94" width="16.23" height="7.42" fill="#cdcdcd"/>
<rect x="61.09" y="496.94" width="16.23" height="7.42" fill="#cdcdcd"/>
<rect x="77.97" y="496.94" width="16.23" height="7.42" fill="#cdcdcd"/>
<rect x="94.84" y="496.94" width="16.23" height="7.42" fill="#cdcdcd"/>
<rect x="94.84" y="496.94" width="16.23" height="7.42" fill="#e62620"/>
<rect x="111.72" y="496.94" width="16.23" height="7.42" fill="#cdcdcd"/>
<rect x="111.72" y="496.94" width="16.23" height="7.42" fill="#e62620"/>
<rect x="128.6" y="496.94" width="16.23" height="7.42" fill="#cdcdcd"/>
<rect x="145.48" y="496.94" width="16.23" height="7.42" fill="#cdcdcd"/>
<rect x="162.36" y="496.94" width="16.23" height="7.42" fill="#cdcdcd"/>
<rect x="179.24" y="496.94" width="16.23" height="7.42" fill="#cdcdcd"/>
<rect x="196.12" y="496.94" width="16.23" height="7.42" fill="#cdcdcd"/>
<rect x="213" y="496.94" width="16.23" height="7.42" fill="#cdcdcd"/>
<rect x="229.88" y="496.94" width="16.23" height="7.42" fill="#cdcdcd"/>
<rect x="246.76" y="496.94" width="16.23" height="7.42" fill="#cdcdcd"/>
<rect x="263.64" y="496.94" width="16.23" height="7.42" fill="#cdcdcd"/>
<rect x="280.52" y="496.94" width="16.23" height="7.42" fill="#cdcdcd"/>
<rect x="297.4" y="496.94" width="16.23" height="7.42" fill="#cdcdcd"/>
<text x="25.1" y="502.71" font-size="8.4" fill="#1a1a1a" text-anchor="end" font-weight="normal" stroke="#1a1a1a" stroke-width="0.12">11.8%</text>
<text x="315.8" y="502.61" font-size="8.4" fill="#1a1a1a" text-anchor="start" font-weight="normal" stroke="#1a1a1a" stroke-width="0.12">PRKCB</text>
<rect x="360.2" y="497.74" width="2.74" height="5.81" fill="#e62620"/>
<rect x="27.32" y="505" width="16.23" height="7.42" fill="#cdcdcd"/>
<rect x="44.2" y="505" width="16.23" height="7.42" fill="#cdcdcd"/>
<rect x="61.09" y="505" width="16.23" height="7.42" fill="#cdcdcd"/>
<rect x="77.97" y="505" width="16.23" height="7.42" fill="#cdcdcd"/>
<rect x="94.84" y="505" width="16.23" height="7.42" fill="#cdcdcd"/>
<rect x="94.84" y="505" width="16.23" height="7.42" fill="#e62620"/>
<rect x="111.72" y="505" width="16.23" height="7.42" fill="#cdcdcd"/>
<rect x="128.6" y="505" width="16.23" height="7.42" fill="#cdcdcd"/>
<rect x="145.48" y="505" width="16.23" height="7.42" fill="#cdcdcd"/>
<rect x="162.36" y="505" width="16.23" height="7.42" fill="#cdcdcd"/>
<rect x="179.24" y="505" width="16.23" height="7.42" fill="#cdcdcd"/>
<rect x="196.12" y="505" width="16.23" height="7.42" fill="#cdcdcd"/>
<rect x="196.12" y="505" width="16.23" height="7.42" fill="#e62620"/>
<rect x="213" y="505" width="16.23" height="7.42" fill="#cdcdcd"/>
<rect x="229.88" y="505" width="16.23" height="7.42" fill="#cdcdcd"/>
<rect x="246.76" y="505" width="16.23" height="7.42" fill="#cdcdcd"/>
<rect x="263.64" y="505" width="16.23" height="7.42" fill="#cdcdcd"/>
<rect x="280.52" y="505" width="16.23" height="7.42" fill="#cdcdcd"/>
<rect x="297.4" y="505" width="16.23" height="7.42" fill="#cdcdcd"/>
<text x="25.1" y="510.79" font-size="8.4" fill="#1a1a1a" text-anchor="end" font-weight="normal" stroke="#1a1a1a" stroke-width="0.12">11.8%</text>
<text x="315.8" y="510.69" font-size="8.4" fill="#1a1a1a" text-anchor="start" font-weight="normal" stroke="#1a1a1a" stroke-width="0.12">SDHA</text>
<rect x="360.2" y="505.81" width="2.74" height="5.81" fill="#e62620"/>
<rect x="26.25" y="515.9" width="16.38" height="7.55" fill="#a6d1e4"/>
<rect x="43.13" y="515.9" width="16.38" height="7.55" fill="#3b7dbb"/>
<rect x="60.01" y="515.9" width="16.38" height="7.55" fill="#a6d1e4"/>
<rect x="76.89" y="515.9" width="16.38" height="7.55" fill="#3b7dbb"/>
<rect x="93.77" y="515.9" width="16.38" height="7.55" fill="#a6d1e4"/>
<rect x="110.65" y="515.9" width="16.38" height="7.55" fill="#a6d1e4"/>
<rect x="127.53" y="515.9" width="16.38" height="7.55" fill="#3b7dbb"/>
<rect x="144.41" y="515.9" width="16.38" height="7.55" fill="#3b7dbb"/>
<rect x="161.29" y="515.9" width="16.38" height="7.55" fill="#a6d1e4"/>
<rect x="178.17" y="515.9" width="16.38" height="7.55" fill="#3b7dbb"/>
<rect x="195.05" y="515.9" width="16.38" height="7.55" fill="#a6d1e4"/>
<rect x="211.93" y="515.9" width="16.38" height="7.55" fill="#a6d1e4"/>
<rect x="228.81" y="515.9" width="16.38" height="7.55" fill="#a6d1e4"/>
<rect x="245.69" y="515.9" width="16.38" height="7.55" fill="#3b7dbb"/>
<rect x="262.57" y="515.9" width="16.38" height="7.55" fill="#a6d1e4"/>
<rect x="279.45" y="515.9" width="16.38" height="7.55" fill="#a6d1e4"/>
<rect x="296.33" y="515.9" width="16.38" height="7.55" fill="#a6d1e4"/>
<rect x="26.25" y="523.9" width="16.38" height="7.55" fill="#e62620"/>
<rect x="43.13" y="523.9" width="16.38" height="7.55" fill="#b4e68c"/>
<rect x="60.01" y="523.9" width="16.38" height="7.55" fill="#b4e68c"/>
<rect x="76.89" y="523.9" width="16.38" height="7.55" fill="#b4e68c"/>
<rect x="93.77" y="523.9" width="16.38" height="7.55" fill="#b4e68c"/>
<rect x="110.65" y="523.9" width="16.38" height="7.55" fill="#e62620"/>
<rect x="127.53" y="523.9" width="16.38" height="7.55" fill="#b4e68c"/>
<rect x="144.41" y="523.9" width="16.38" height="7.55" fill="#b4e68c"/>
<rect x="161.29" y="523.9" width="16.38" height="7.55" fill="#e62620"/>
<rect x="178.17" y="523.9" width="16.38" height="7.55" fill="#b4e68c"/>
<rect x="195.05" y="523.9" width="16.38" height="7.55" fill="#e62620"/>
<rect x="211.93" y="523.9" width="16.38" height="7.55" fill="#b4e68c"/>
<rect x="228.81" y="523.9" width="16.38" height="7.55" fill="#b4e68c"/>
<rect x="245.69" y="523.9" width="16.38" height="7.55" fill="#b4e68c"/>
<rect x="262.57" y="523.9" width="16.38" height="7.55" fill="#b4e68c"/>
<rect x="279.45" y="523.9" width="16.38" height="7.55" fill="#b4e68c"/>
<rect x="296.33" y="523.9" width="16.38" height="7.55" fill="#b4e68c"/>
<rect x="26.25" y="532" width="16.38" height="7.55" fill="#cdcdcd"/>
<rect x="43.13" y="532" width="16.38" height="7.55" fill="#47aa38"/>
<rect x="60.01" y="532" width="16.38" height="7.55" fill="#47aa38"/>
<rect x="76.89" y="532" width="16.38" height="7.55" fill="#47aa38"/>
<rect x="93.77" y="532" width="16.38" height="7.55" fill="#47aa38"/>
<rect x="110.65" y="532" width="16.38" height="7.55" fill="#cdcdcd"/>
<rect x="127.53" y="532" width="16.38" height="7.55" fill="#47aa38"/>
<rect x="144.41" y="532" width="16.38" height="7.55" fill="#47aa38"/>
<rect x="161.29" y="532" width="16.38" height="7.55" fill="#cdcdcd"/>
<rect x="178.17" y="532" width="16.38" height="7.55" fill="#47aa38"/>
<rect x="195.05" y="532" width="16.38" height="7.55" fill="#cdcdcd"/>
<rect x="211.93" y="532" width="16.38" height="7.55" fill="#47aa38"/>
<rect x="228.81" y="532" width="16.38" height="7.55" fill="#47aa38"/>
<rect x="245.69" y="532" width="16.38" height="7.55" fill="#47aa38"/>
<rect x="262.57" y="532" width="16.38" height="7.55" fill="#47aa38"/>
<rect x="279.45" y="532" width="16.38" height="7.55" fill="#47aa38"/>
<rect x="296.33" y="532" width="16.38" height="7.55" fill="#cdcdcd"/>
<text x="316.9" y="523.9" font-size="8.4" fill="#1a1a1a" text-anchor="start" font-weight="normal" stroke="#1a1a1a" stroke-width="0.12">Gender</text>
<text x="316.9" y="531.1" font-size="8.4" fill="#1a1a1a" text-anchor="start" font-weight="normal" stroke="#1a1a1a" stroke-width="0.12">PD status</text>
<text x="316.9" y="538.5" font-size="8.4" fill="#1a1a1a" text-anchor="start" font-weight="normal" stroke="#1a1a1a" stroke-width="0.12">EOT response</text>
<path d="M359.9 305.4H377.6" stroke="#111" stroke-width="0.9" fill="none"/>
<path d="M360.2 305.4V302.8" stroke="#111" stroke-width="0.7" fill="none"/>
<text transform="translate(362.05 301.7) rotate(-90)" font-size="4.9" fill="#111" stroke="#111" stroke-width="0.25" style="text-rendering:auto">0</text>
<path d="M365.9 305.4V302.8" stroke="#111" stroke-width="0.7" fill="none"/>
<text transform="translate(367.75 301.7) rotate(-90)" font-size="4.9" fill="#111" stroke="#111" stroke-width="0.25" style="text-rendering:auto">5</text>
<path d="M371.6 305.4V302.8" stroke="#111" stroke-width="0.7" fill="none"/>
<text transform="translate(373.45 301.7) rotate(-90)" font-size="4.9" fill="#111" stroke="#111" stroke-width="0.25" style="text-rendering:auto">10</text>
<path d="M377.3 305.4V302.8" stroke="#111" stroke-width="0.7" fill="none"/>
<text transform="translate(379.15 301.7) rotate(-90)" font-size="4.9" fill="#111" stroke="#111" stroke-width="0.25" style="text-rendering:auto">15</text>
<text x="5.3" y="300.2" font-size="16.9" fill="#111" text-anchor="start" font-weight="normal">(B)</text>
<text x="381" y="363" font-size="6.25" fill="#111" text-anchor="start" font-weight="bold" stroke="#111" stroke-width="0.15">Gender</text>
<rect x="382" y="365.7" width="4.7" height="4.5" fill="#a6d1e4"/>
<text x="389" y="369.6" font-size="6.25" fill="#1a1a1a" text-anchor="start" font-weight="normal" stroke="#1a1a1a" stroke-width="0.2">FEMALE</text>
<rect x="382" y="372.03" width="4.7" height="4.5" fill="#3b7dbb"/>
<text x="389" y="375.93" font-size="6.25" fill="#1a1a1a" text-anchor="start" font-weight="normal" stroke="#1a1a1a" stroke-width="0.2">MALE</text>
<text x="381" y="392.2" font-size="6.25" fill="#111" text-anchor="start" font-weight="bold" stroke="#111" stroke-width="0.15">PD status</text>
<rect x="382" y="394.9" width="4.7" height="4.5" fill="#e62620"/>
<text x="389" y="398.8" font-size="6.25" fill="#1a1a1a" text-anchor="start" font-weight="normal" stroke="#1a1a1a" stroke-width="0.2">YES</text>
<rect x="382" y="401.23" width="4.7" height="4.5" fill="#b4e68c"/>
<text x="389" y="405.13" font-size="6.25" fill="#1a1a1a" text-anchor="start" font-weight="normal" stroke="#1a1a1a" stroke-width="0.2">NO</text>
<text x="381" y="421.3" font-size="6.25" fill="#111" text-anchor="start" font-weight="bold" stroke="#111" stroke-width="0.15">EOT response</text>
<rect x="382" y="424" width="4.7" height="4.5" fill="#47aa38"/>
<text x="389" y="427.9" font-size="6.25" fill="#1a1a1a" text-anchor="start" font-weight="normal" stroke="#1a1a1a" stroke-width="0.2">CR</text>
<rect x="382" y="430.33" width="4.7" height="4.5" fill="#b6de7c"/>
<text x="389" y="434.23" font-size="6.25" fill="#1a1a1a" text-anchor="start" font-weight="normal" stroke="#1a1a1a" stroke-width="0.2">PR</text>
<rect x="382" y="436.66" width="4.7" height="4.5" fill="#f49a9c"/>
<text x="389" y="440.56" font-size="6.25" fill="#1a1a1a" text-anchor="start" font-weight="normal" stroke="#1a1a1a" stroke-width="0.2">PD</text>
<rect x="382" y="442.99" width="4.7" height="4.5" fill="#f6c08e"/>
<text x="389" y="446.89" font-size="6.25" fill="#1a1a1a" text-anchor="start" font-weight="normal" stroke="#1a1a1a" stroke-width="0.2">SD</text>
<text x="381" y="460.4" font-size="6.25" fill="#111" text-anchor="start" font-weight="bold" stroke="#111" stroke-width="0.15">Alterations</text>
<rect x="382" y="463.1" width="4.7" height="4.5" fill="#e62620"/>
<text x="389" y="467" font-size="6.25" fill="#1a1a1a" text-anchor="start" font-weight="normal" stroke="#1a1a1a" stroke-width="0.2">MISSENSE</text>
<rect x="382" y="469.43" width="4.7" height="4.5" fill="#3f7ebd"/>
<text x="389" y="473.33" font-size="6.25" fill="#1a1a1a" text-anchor="start" font-weight="normal" stroke="#1a1a1a" stroke-width="0.2">INDEL</text>
<rect x="382" y="475.76" width="4.7" height="4.5" fill="#57b94b"/>
<text x="389" y="479.66" font-size="6.25" fill="#1a1a1a" text-anchor="start" font-weight="normal" stroke="#1a1a1a" stroke-width="0.2">NONSENSE</text>
<rect x="382" y="482.09" width="4.7" height="4.5" fill="#9450a8"/>
<text x="389" y="485.99" font-size="6.25" fill="#1a1a1a" text-anchor="start" font-weight="normal" stroke="#1a1a1a" stroke-width="0.2">SPLICING</text>
<rect x="382" y="488.42" width="4.7" height="4.5" fill="#f08022"/>
<text x="389" y="492.32" font-size="6.25" fill="#1a1a1a" text-anchor="start" font-weight="normal" stroke="#1a1a1a" stroke-width="0.2">FRAMESHIFT</text>
<rect x="382" y="494.75" width="4.7" height="4.5" fill="#a55528"/>
<text x="389" y="498.65" font-size="6.25" fill="#1a1a1a" text-anchor="start" font-weight="normal" stroke="#1a1a1a" stroke-width="0.2">SV</text>
<rect x="382" y="501.08" width="4.7" height="4.5" fill="#f282c8"/>
<text x="389" y="504.98" font-size="6.25" fill="#1a1a1a" text-anchor="start" font-weight="normal" stroke="#1a1a1a" stroke-width="0.2">CNV</text>
<rect x="382" y="507.41" width="4.7" height="4.5" fill="#eefb47"/>
<text x="389" y="511.31" font-size="6.25" fill="#1a1a1a" text-anchor="start" font-weight="normal" stroke="#1a1a1a" stroke-width="0.2">OTHERS</text>
<rect x="27.22" y="595.28" width="14.58" height="7.51" fill="#cdcdcd"/>
<rect x="27.22" y="595.28" width="14.58" height="7.51" fill="#e62620"/>
<rect x="42.45" y="595.28" width="14.58" height="7.51" fill="#cdcdcd"/>
<rect x="57.69" y="595.28" width="14.58" height="7.51" fill="#cdcdcd"/>
<rect x="72.92" y="595.28" width="14.58" height="7.51" fill="#cdcdcd"/>
<rect x="72.92" y="595.28" width="14.58" height="7.51" fill="#e62620"/>
<rect x="88.14" y="595.28" width="14.58" height="7.51" fill="#cdcdcd"/>
<rect x="103.38" y="595.28" width="14.58" height="7.51" fill="#cdcdcd"/>
<rect x="118.61" y="595.28" width="14.58" height="7.51" fill="#cdcdcd"/>
<rect x="118.61" y="595.28" width="14.58" height="7.51" fill="#e62620"/>
<rect x="133.83" y="595.28" width="14.58" height="7.51" fill="#cdcdcd"/>
<rect x="149.06" y="595.28" width="14.58" height="7.51" fill="#cdcdcd"/>
<rect x="164.29" y="595.28" width="14.58" height="7.51" fill="#cdcdcd"/>
<rect x="164.29" y="595.28" width="14.58" height="7.51" fill="#e62620"/>
<rect x="179.53" y="595.28" width="14.58" height="7.51" fill="#cdcdcd"/>
<rect x="194.75" y="595.28" width="14.58" height="7.51" fill="#cdcdcd"/>
<rect x="209.98" y="595.28" width="14.58" height="7.51" fill="#cdcdcd"/>
<rect x="225.22" y="595.28" width="14.58" height="7.51" fill="#cdcdcd"/>
<rect x="240.44" y="595.28" width="14.58" height="7.51" fill="#cdcdcd"/>
<rect x="255.68" y="595.28" width="14.58" height="7.51" fill="#cdcdcd"/>
<rect x="270.9" y="595.28" width="14.58" height="7.51" fill="#cdcdcd"/>
<rect x="286.13" y="595.28" width="14.58" height="7.51" fill="#cdcdcd"/>
<rect x="301.36" y="595.28" width="14.58" height="7.51" fill="#cdcdcd"/>
<text x="25.1" y="602.3" font-size="8.4" fill="#1a1a1a" text-anchor="end" font-weight="normal" stroke="#1a1a1a" stroke-width="0.12">21.1%</text>
<text x="318.2" y="600.8" font-size="8.4" fill="#1a1a1a" text-anchor="start" font-weight="normal" stroke="#1a1a1a" stroke-width="0.12">MYD88</text>
<rect x="363.2" y="596.09" width="4.52" height="5.88" fill="#e62620"/>
<rect x="27.22" y="603.44" width="14.58" height="7.51" fill="#cdcdcd"/>
<rect x="27.22" y="603.44" width="14.58" height="7.51" fill="#e62620"/>
<rect x="42.45" y="603.44" width="14.58" height="7.51" fill="#cdcdcd"/>
<rect x="57.69" y="603.44" width="14.58" height="7.51" fill="#cdcdcd"/>
<rect x="72.92" y="603.44" width="14.58" height="7.51" fill="#cdcdcd"/>
<rect x="88.14" y="603.44" width="14.58" height="7.51" fill="#cdcdcd"/>
<rect x="103.38" y="603.44" width="14.58" height="7.51" fill="#cdcdcd"/>
<rect x="118.61" y="603.44" width="14.58" height="7.51" fill="#cdcdcd"/>
<rect x="118.61" y="604.3" width="14.58" height="5.78" fill="#9450a8"/>
<rect x="133.83" y="603.44" width="14.58" height="7.51" fill="#cdcdcd"/>
<rect x="149.06" y="603.44" width="14.58" height="7.51" fill="#cdcdcd"/>
<rect x="164.29" y="603.44" width="14.58" height="7.51" fill="#cdcdcd"/>
<rect x="164.29" y="604.04" width="14.58" height="6.31" fill="#57b94b"/>
<rect x="179.53" y="603.44" width="14.58" height="7.51" fill="#cdcdcd"/>
<rect x="194.75" y="603.44" width="14.58" height="7.51" fill="#cdcdcd"/>
<rect x="194.75" y="603.44" width="14.58" height="7.51" fill="#e62620"/>
<rect x="194.75" y="604.04" width="14.58" height="6.31" fill="#57b94b"/>
<rect x="209.98" y="603.44" width="14.58" height="7.51" fill="#cdcdcd"/>
<rect x="225.22" y="603.44" width="14.58" height="7.51" fill="#cdcdcd"/>
<rect x="240.44" y="603.44" width="14.58" height="7.51" fill="#cdcdcd"/>
<rect x="255.68" y="603.44" width="14.58" height="7.51" fill="#cdcdcd"/>
<rect x="270.9" y="603.44" width="14.58" height="7.51" fill="#cdcdcd"/>
<rect x="286.13" y="603.44" width="14.58" height="7.51" fill="#cdcdcd"/>
<rect x="301.36" y="603.44" width="14.58" height="7.51" fill="#cdcdcd"/>
<text x="25.1" y="610.44" font-size="8.4" fill="#1a1a1a" text-anchor="end" font-weight="normal" stroke="#1a1a1a" stroke-width="0.12">21.1%</text>
<text x="318.2" y="608.97" font-size="8.4" fill="#1a1a1a" text-anchor="start" font-weight="normal" stroke="#1a1a1a" stroke-width="0.12">PIM1</text>
<rect x="363.2" y="604.25" width="2.26" height="5.88" fill="#e62620"/>
<rect x="365.46" y="604.25" width="2.26" height="5.88" fill="#57b94b"/>
<rect x="367.72" y="604.25" width="1.13" height="5.88" fill="#9450a8"/>
<rect x="27.22" y="611.6" width="14.58" height="7.51" fill="#cdcdcd"/>
<rect x="42.45" y="611.6" width="14.58" height="7.51" fill="#cdcdcd"/>
<rect x="57.69" y="611.6" width="14.58" height="7.51" fill="#cdcdcd"/>
<rect x="72.92" y="611.6" width="14.58" height="7.51" fill="#cdcdcd"/>
<rect x="72.92" y="611.6" width="14.58" height="7.51" fill="#e62620"/>
<rect x="88.14" y="611.6" width="14.58" height="7.51" fill="#cdcdcd"/>
<rect x="103.38" y="611.6" width="14.58" height="7.51" fill="#cdcdcd"/>
<rect x="118.61" y="611.6" width="14.58" height="7.51" fill="#cdcdcd"/>
<rect x="118.61" y="612.87" width="14.58" height="4.96" fill="#f08022"/>
<rect x="133.83" y="611.6" width="14.58" height="7.51" fill="#cdcdcd"/>
<rect x="149.06" y="611.6" width="14.58" height="7.51" fill="#cdcdcd"/>
<rect x="164.29" y="611.6" width="14.58" height="7.51" fill="#cdcdcd"/>
<rect x="179.53" y="611.6" width="14.58" height="7.51" fill="#cdcdcd"/>
<rect x="194.75" y="611.6" width="14.58" height="7.51" fill="#cdcdcd"/>
<rect x="209.98" y="611.6" width="14.58" height="7.51" fill="#cdcdcd"/>
<rect x="225.22" y="611.6" width="14.58" height="7.51" fill="#cdcdcd"/>
<rect x="240.44" y="611.6" width="14.58" height="7.51" fill="#cdcdcd"/>
<rect x="255.68" y="611.6" width="14.58" height="7.51" fill="#cdcdcd"/>
<rect x="270.9" y="611.6" width="14.58" height="7.51" fill="#cdcdcd"/>
<rect x="270.9" y="611.6" width="14.58" height="7.51" fill="#e62620"/>
<rect x="286.13" y="611.6" width="14.58" height="7.51" fill="#cdcdcd"/>
<rect x="301.36" y="611.6" width="14.58" height="7.51" fill="#cdcdcd"/>
<text x="25.1" y="618.58" font-size="8.4" fill="#1a1a1a" text-anchor="end" font-weight="normal" stroke="#1a1a1a" stroke-width="0.12">15.8%</text>
<text x="318.2" y="617.14" font-size="8.4" fill="#1a1a1a" text-anchor="start" font-weight="normal" stroke="#1a1a1a" stroke-width="0.12">DNMT3A</text>
<rect x="363.2" y="612.41" width="2.6" height="5.88" fill="#e62620"/>
<rect x="365.8" y="612.41" width="1.13" height="5.88" fill="#f08022"/>
<rect x="27.22" y="619.76" width="14.58" height="7.51" fill="#cdcdcd"/>
<rect x="42.45" y="619.76" width="14.58" height="7.51" fill="#cdcdcd"/>
<rect x="57.69" y="619.76" width="14.58" height="7.51" fill="#cdcdcd"/>
<rect x="72.92" y="619.76" width="14.58" height="7.51" fill="#cdcdcd"/>
<rect x="72.92" y="619.76" width="14.58" height="7.51" fill="#e62620"/>
<rect x="88.14" y="619.76" width="14.58" height="7.51" fill="#cdcdcd"/>
<rect x="103.38" y="619.76" width="14.58" height="7.51" fill="#cdcdcd"/>
<rect x="103.38" y="619.76" width="14.58" height="7.51" fill="#e62620"/>
<rect x="118.61" y="619.76" width="14.58" height="7.51" fill="#cdcdcd"/>
<rect x="118.61" y="619.76" width="14.58" height="7.51" fill="#e62620"/>
<rect x="133.83" y="619.76" width="14.58" height="7.51" fill="#cdcdcd"/>
<rect x="149.06" y="619.76" width="14.58" height="7.51" fill="#cdcdcd"/>
<rect x="164.29" y="619.76" width="14.58" height="7.51" fill="#cdcdcd"/>
<rect x="179.53" y="619.76" width="14.58" height="7.51" fill="#cdcdcd"/>
<rect x="194.75" y="619.76" width="14.58" height="7.51" fill="#cdcdcd"/>
<rect x="209.98" y="619.76" width="14.58" height="7.51" fill="#cdcdcd"/>
<rect x="225.22" y="619.76" width="14.58" height="7.51" fill="#cdcdcd"/>
<rect x="240.44" y="619.76" width="14.58" height="7.51" fill="#cdcdcd"/>
<rect x="255.68" y="619.76" width="14.58" height="7.51" fill="#cdcdcd"/>
<rect x="270.9" y="619.76" width="14.58" height="7.51" fill="#cdcdcd"/>
<rect x="286.13" y="619.76" width="14.58" height="7.51" fill="#cdcdcd"/>
<rect x="301.36" y="619.76" width="14.58" height="7.51" fill="#cdcdcd"/>
<text x="25.1" y="626.72" font-size="8.4" fill="#1a1a1a" text-anchor="end" font-weight="normal" stroke="#1a1a1a" stroke-width="0.12">15.8%</text>
<text x="318.2" y="625.31" font-size="8.4" fill="#1a1a1a" text-anchor="start" font-weight="normal" stroke="#1a1a1a" stroke-width="0.12">FAT1</text>
<rect x="363.2" y="620.57" width="3.84" height="5.88" fill="#e62620"/>
<rect x="27.22" y="627.92" width="14.58" height="7.51" fill="#cdcdcd"/>
<rect x="27.22" y="628.52" width="14.58" height="6.31" fill="#57b94b"/>
<rect x="42.45" y="627.92" width="14.58" height="7.51" fill="#cdcdcd"/>
<rect x="57.69" y="627.92" width="14.58" height="7.51" fill="#cdcdcd"/>
<rect x="72.92" y="627.92" width="14.58" height="7.51" fill="#cdcdcd"/>
<rect x="88.14" y="627.92" width="14.58" height="7.51" fill="#cdcdcd"/>
<rect x="88.14" y="628.44" width="14.58" height="6.46" fill="#3f7ebd"/>
<rect x="103.38" y="627.92" width="14.58" height="7.51" fill="#cdcdcd"/>
<rect x="118.61" y="627.92" width="14.58" height="7.51" fill="#cdcdcd"/>
<rect x="133.83" y="627.92" width="14.58" height="7.51" fill="#cdcdcd"/>
<rect x="149.06" y="627.92" width="14.58" height="7.51" fill="#cdcdcd"/>
<rect x="164.29" y="627.92" width="14.58" height="7.51" fill="#cdcdcd"/>
<rect x="164.29" y="628.52" width="14.58" height="6.31" fill="#57b94b"/>
<rect x="179.53" y="627.92" width="14.58" height="7.51" fill="#cdcdcd"/>
<rect x="194.75" y="627.92" width="14.58" height="7.51" fill="#cdcdcd"/>
<rect x="209.98" y="627.92" width="14.58" height="7.51" fill="#cdcdcd"/>
<rect x="225.22" y="627.92" width="14.58" height="7.51" fill="#cdcdcd"/>
<rect x="240.44" y="627.92" width="14.58" height="7.51" fill="#cdcdcd"/>
<rect x="255.68" y="627.92" width="14.58" height="7.51" fill="#cdcdcd"/>
<rect x="270.9" y="627.92" width="14.58" height="7.51" fill="#cdcdcd"/>
<rect x="286.13" y="627.92" width="14.58" height="7.51" fill="#cdcdcd"/>
<rect x="301.36" y="627.92" width="14.58" height="7.51" fill="#cdcdcd"/>
<text x="25.1" y="634.86" font-size="8.4" fill="#1a1a1a" text-anchor="end" font-weight="normal" stroke="#1a1a1a" stroke-width="0.12">15.8%</text>
<text x="318.2" y="633.48" font-size="8.4" fill="#1a1a1a" text-anchor="start" font-weight="normal" stroke="#1a1a1a" stroke-width="0.12">KMT2D</text>
<rect x="363.2" y="628.73" width="1.13" height="5.88" fill="#3f7ebd"/>
<rect x="364.33" y="628.73" width="2.6" height="5.88" fill="#57b94b"/>
<rect x="27.22" y="636.08" width="14.58" height="7.51" fill="#cdcdcd"/>
<rect x="42.45" y="636.08" width="14.58" height="7.51" fill="#cdcdcd"/>
<rect x="42.45" y="636.08" width="14.58" height="7.51" fill="#e62620"/>
<rect x="57.69" y="636.08" width="14.58" height="7.51" fill="#cdcdcd"/>
<rect x="72.92" y="636.08" width="14.58" height="7.51" fill="#cdcdcd"/>
<rect x="88.14" y="636.08" width="14.58" height="7.51" fill="#cdcdcd"/>
<rect x="103.38" y="636.08" width="14.58" height="7.51" fill="#cdcdcd"/>
<rect x="118.61" y="636.08" width="14.58" height="7.51" fill="#cdcdcd"/>
<rect x="133.83" y="636.08" width="14.58" height="7.51" fill="#cdcdcd"/>
<rect x="149.06" y="636.08" width="14.58" height="7.51" fill="#cdcdcd"/>
<rect x="164.29" y="636.08" width="14.58" height="7.51" fill="#cdcdcd"/>
<rect x="179.53" y="636.08" width="14.58" height="7.51" fill="#cdcdcd"/>
<rect x="194.75" y="636.08" width="14.58" height="7.51" fill="#cdcdcd"/>
<rect x="194.75" y="636.08" width="14.58" height="7.51" fill="#e62620"/>
<rect x="209.98" y="636.08" width="14.58" height="7.51" fill="#cdcdcd"/>
<rect x="225.22" y="636.08" width="14.58" height="7.51" fill="#cdcdcd"/>
<rect x="240.44" y="636.08" width="14.58" height="7.51" fill="#cdcdcd"/>
<rect x="255.68" y="636.08" width="14.58" height="7.51" fill="#cdcdcd"/>
<rect x="270.9" y="636.08" width="14.58" height="7.51" fill="#cdcdcd"/>
<rect x="286.13" y="636.08" width="14.58" height="7.51" fill="#cdcdcd"/>
<rect x="301.36" y="636.08" width="14.58" height="7.51" fill="#cdcdcd"/>
<text x="25.1" y="643" font-size="8.4" fill="#1a1a1a" text-anchor="end" font-weight="normal" stroke="#1a1a1a" stroke-width="0.12">10.5%</text>
<text x="318.2" y="641.65" font-size="8.4" fill="#1a1a1a" text-anchor="start" font-weight="normal" stroke="#1a1a1a" stroke-width="0.12">BTG2</text>
<rect x="363.2" y="636.89" width="2.49" height="5.88" fill="#e62620"/>
<rect x="27.22" y="644.24" width="14.58" height="7.51" fill="#cdcdcd"/>
<rect x="27.22" y="645.1" width="14.58" height="5.78" fill="#9450a8"/>
<rect x="42.45" y="644.24" width="14.58" height="7.51" fill="#cdcdcd"/>
<rect x="57.69" y="644.24" width="14.58" height="7.51" fill="#cdcdcd"/>
<rect x="72.92" y="644.24" width="14.58" height="7.51" fill="#cdcdcd"/>
<rect x="88.14" y="644.24" width="14.58" height="7.51" fill="#cdcdcd"/>
<rect x="103.38" y="644.24" width="14.58" height="7.51" fill="#cdcdcd"/>
<rect x="118.61" y="644.24" width="14.58" height="7.51" fill="#cdcdcd"/>
<rect x="133.83" y="644.24" width="14.58" height="7.51" fill="#cdcdcd"/>
<rect x="149.06" y="644.24" width="14.58" height="7.51" fill="#cdcdcd"/>
<rect x="164.29" y="644.24" width="14.58" height="7.51" fill="#cdcdcd"/>
<rect x="179.53" y="644.24" width="14.58" height="7.51" fill="#cdcdcd"/>
<rect x="179.53" y="644.24" width="14.58" height="7.51" fill="#e62620"/>
<rect x="194.75" y="644.24" width="14.58" height="7.51" fill="#cdcdcd"/>
<rect x="209.98" y="644.24" width="14.58" height="7.51" fill="#cdcdcd"/>
<rect x="225.22" y="644.24" width="14.58" height="7.51" fill="#cdcdcd"/>
<rect x="240.44" y="644.24" width="14.58" height="7.51" fill="#cdcdcd"/>
<rect x="255.68" y="644.24" width="14.58" height="7.51" fill="#cdcdcd"/>
<rect x="270.9" y="644.24" width="14.58" height="7.51" fill="#cdcdcd"/>
<rect x="286.13" y="644.24" width="14.58" height="7.51" fill="#cdcdcd"/>
<rect x="301.36" y="644.24" width="14.58" height="7.51" fill="#cdcdcd"/>
<text x="25.1" y="651.14" font-size="8.4" fill="#1a1a1a" text-anchor="end" font-weight="normal" stroke="#1a1a1a" stroke-width="0.12">10.5%</text>
<text x="318.2" y="649.82" font-size="8.4" fill="#1a1a1a" text-anchor="start" font-weight="normal" stroke="#1a1a1a" stroke-width="0.12">CD58</text>
<rect x="363.2" y="645.05" width="1.24" height="5.88" fill="#e62620"/>
<rect x="364.44" y="645.05" width="1.24" height="5.88" fill="#9450a8"/>
<rect x="27.22" y="652.4" width="14.58" height="7.51" fill="#cdcdcd"/>
<rect x="27.22" y="652.4" width="14.58" height="7.51" fill="#e62620"/>
<rect x="42.45" y="652.4" width="14.58" height="7.51" fill="#cdcdcd"/>
<rect x="42.45" y="652.4" width="14.58" height="7.51" fill="#e62620"/>
<rect x="57.69" y="652.4" width="14.58" height="7.51" fill="#cdcdcd"/>
<rect x="72.92" y="652.4" width="14.58" height="7.51" fill="#cdcdcd"/>
<rect x="88.14" y="652.4" width="14.58" height="7.51" fill="#cdcdcd"/>
<rect x="103.38" y="652.4" width="14.58" height="7.51" fill="#cdcdcd"/>
<rect x="118.61" y="652.4" width="14.58" height="7.51" fill="#cdcdcd"/>
<rect x="133.83" y="652.4" width="14.58" height="7.51" fill="#cdcdcd"/>
<rect x="149.06" y="652.4" width="14.58" height="7.51" fill="#cdcdcd"/>
<rect x="164.29" y="652.4" width="14.58" height="7.51" fill="#cdcdcd"/>
<rect x="179.53" y="652.4" width="14.58" height="7.51" fill="#cdcdcd"/>
<rect x="194.75" y="652.4" width="14.58" height="7.51" fill="#cdcdcd"/>
<rect x="209.98" y="652.4" width="14.58" height="7.51" fill="#cdcdcd"/>
<rect x="225.22" y="652.4" width="14.58" height="7.51" fill="#cdcdcd"/>
<rect x="240.44" y="652.4" width="14.58" height="7.51" fill="#cdcdcd"/>
<rect x="255.68" y="652.4" width="14.58" height="7.51" fill="#cdcdcd"/>
<rect x="270.9" y="652.4" width="14.58" height="7.51" fill="#cdcdcd"/>
<rect x="286.13" y="652.4" width="14.58" height="7.51" fill="#cdcdcd"/>
<rect x="301.36" y="652.4" width="14.58" height="7.51" fill="#cdcdcd"/>
<text x="25.1" y="659.28" font-size="8.4" fill="#1a1a1a" text-anchor="end" font-weight="normal" stroke="#1a1a1a" stroke-width="0.12">10.5%</text>
<text x="318.2" y="657.99" font-size="8.4" fill="#1a1a1a" text-anchor="start" font-weight="normal" stroke="#1a1a1a" stroke-width="0.12">CD79B</text>
<rect x="363.2" y="653.21" width="2.49" height="5.88" fill="#e62620"/>
<rect x="27.22" y="660.56" width="14.58" height="7.51" fill="#cdcdcd"/>
<rect x="27.22" y="661.83" width="14.58" height="4.96" fill="#f08022"/>
<rect x="42.45" y="660.56" width="14.58" height="7.51" fill="#cdcdcd"/>
<rect x="57.69" y="660.56" width="14.58" height="7.51" fill="#cdcdcd"/>
<rect x="72.92" y="660.56" width="14.58" height="7.51" fill="#cdcdcd"/>
<rect x="72.92" y="661.16" width="14.58" height="6.31" fill="#57b94b"/>
<rect x="88.14" y="660.56" width="14.58" height="7.51" fill="#cdcdcd"/>
<rect x="103.38" y="660.56" width="14.58" height="7.51" fill="#cdcdcd"/>
<rect x="118.61" y="660.56" width="14.58" height="7.51" fill="#cdcdcd"/>
<rect x="133.83" y="660.56" width="14.58" height="7.51" fill="#cdcdcd"/>
<rect x="149.06" y="660.56" width="14.58" height="7.51" fill="#cdcdcd"/>
<rect x="164.29" y="660.56" width="14.58" height="7.51" fill="#cdcdcd"/>
<rect x="179.53" y="660.56" width="14.58" height="7.51" fill="#cdcdcd"/>
<rect x="194.75" y="660.56" width="14.58" height="7.51" fill="#cdcdcd"/>
<rect x="209.98" y="660.56" width="14.58" height="7.51" fill="#cdcdcd"/>
<rect x="225.22" y="660.56" width="14.58" height="7.51" fill="#cdcdcd"/>
<rect x="240.44" y="660.56" width="14.58" height="7.51" fill="#cdcdcd"/>
<rect x="255.68" y="660.56" width="14.58" height="7.51" fill="#cdcdcd"/>
<rect x="270.9" y="660.56" width="14.58" height="7.51" fill="#cdcdcd"/>
<rect x="286.13" y="660.56" width="14.58" height="7.51" fill="#cdcdcd"/>
<rect x="301.36" y="660.56" width="14.58" height="7.51" fill="#cdcdcd"/>
<text x="25.1" y="667.42" font-size="8.4" fill="#1a1a1a" text-anchor="end" font-weight="normal" stroke="#1a1a1a" stroke-width="0.12">10.5%</text>
<text x="318.2" y="666.16" font-size="8.4" fill="#1a1a1a" text-anchor="start" font-weight="normal" stroke="#1a1a1a" stroke-width="0.12">HGF</text>
<rect x="363.2" y="661.37" width="1.24" height="5.88" fill="#57b94b"/>
<rect x="364.44" y="661.37" width="1.24" height="5.88" fill="#f08022"/>
<rect x="27.22" y="668.72" width="14.58" height="7.51" fill="#cdcdcd"/>
<rect x="42.45" y="668.72" width="14.58" height="7.51" fill="#cdcdcd"/>
<rect x="57.69" y="668.72" width="14.58" height="7.51" fill="#cdcdcd"/>
<rect x="72.92" y="668.72" width="14.58" height="7.51" fill="#cdcdcd"/>
<rect x="88.14" y="668.72" width="14.58" height="7.51" fill="#cdcdcd"/>
<rect x="103.38" y="668.72" width="14.58" height="7.51" fill="#cdcdcd"/>
<rect x="118.61" y="668.72" width="14.58" height="7.51" fill="#cdcdcd"/>
<rect x="133.83" y="668.72" width="14.58" height="7.51" fill="#cdcdcd"/>
<rect x="149.06" y="668.72" width="14.58" height="7.51" fill="#cdcdcd"/>
<rect x="149.06" y="669.99" width="14.58" height="4.96" fill="#f08022"/>
<rect x="164.29" y="668.72" width="14.58" height="7.51" fill="#cdcdcd"/>
<rect x="179.53" y="668.72" width="14.58" height="7.51" fill="#cdcdcd"/>
<rect x="194.75" y="668.72" width="14.58" height="7.51" fill="#cdcdcd"/>
<rect x="209.98" y="668.72" width="14.58" height="7.51" fill="#cdcdcd"/>
<rect x="209.98" y="669.32" width="14.58" height="6.31" fill="#57b94b"/>
<rect x="225.22" y="668.72" width="14.58" height="7.51" fill="#cdcdcd"/>
<rect x="240.44" y="668.72" width="14.58" height="7.51" fill="#cdcdcd"/>
<rect x="255.68" y="668.72" width="14.58" height="7.51" fill="#cdcdcd"/>
<rect x="270.9" y="668.72" width="14.58" height="7.51" fill="#cdcdcd"/>
<rect x="286.13" y="668.72" width="14.58" height="7.51" fill="#cdcdcd"/>
<rect x="301.36" y="668.72" width="14.58" height="7.51" fill="#cdcdcd"/>
<text x="25.1" y="675.56" font-size="8.4" fill="#1a1a1a" text-anchor="end" font-weight="normal" stroke="#1a1a1a" stroke-width="0.12">10.5%</text>
<text x="318.2" y="674.33" font-size="8.4" fill="#1a1a1a" text-anchor="start" font-weight="normal" stroke="#1a1a1a" stroke-width="0.12">PPM1D</text>
<rect x="363.2" y="669.53" width="1.24" height="5.88" fill="#57b94b"/>
<rect x="364.44" y="669.53" width="1.24" height="5.88" fill="#f08022"/>
<rect x="27.22" y="676.88" width="14.58" height="7.51" fill="#cdcdcd"/>
<rect x="42.45" y="676.88" width="14.58" height="7.51" fill="#cdcdcd"/>
<rect x="57.69" y="676.88" width="14.58" height="7.51" fill="#cdcdcd"/>
<rect x="72.92" y="676.88" width="14.58" height="7.51" fill="#cdcdcd"/>
<rect x="88.14" y="676.88" width="14.58" height="7.51" fill="#cdcdcd"/>
<rect x="103.38" y="676.88" width="14.58" height="7.51" fill="#cdcdcd"/>
<rect x="118.61" y="676.88" width="14.58" height="7.51" fill="#cdcdcd"/>
<rect x="118.61" y="678.15" width="14.58" height="4.96" fill="#f08022"/>
<rect x="133.83" y="676.88" width="14.58" height="7.51" fill="#cdcdcd"/>
<rect x="149.06" y="676.88" width="14.58" height="7.51" fill="#cdcdcd"/>
<rect x="164.29" y="676.88" width="14.58" height="7.51" fill="#cdcdcd"/>
<rect x="179.53" y="676.88" width="14.58" height="7.51" fill="#cdcdcd"/>
<rect x="194.75" y="676.88" width="14.58" height="7.51" fill="#cdcdcd"/>
<rect x="209.98" y="676.88" width="14.58" height="7.51" fill="#cdcdcd"/>
<rect x="225.22" y="676.88" width="14.58" height="7.51" fill="#cdcdcd"/>
<rect x="240.44" y="676.88" width="14.58" height="7.51" fill="#cdcdcd"/>
<rect x="255.68" y="676.88" width="14.58" height="7.51" fill="#cdcdcd"/>
<rect x="270.9" y="676.88" width="14.58" height="7.51" fill="#cdcdcd"/>
<rect x="270.9" y="676.88" width="14.58" height="7.51" fill="#e62620"/>
<rect x="286.13" y="676.88" width="14.58" height="7.51" fill="#cdcdcd"/>
<rect x="301.36" y="676.88" width="14.58" height="7.51" fill="#cdcdcd"/>
<text x="25.1" y="683.7" font-size="8.4" fill="#1a1a1a" text-anchor="end" font-weight="normal" stroke="#1a1a1a" stroke-width="0.12">10.5%</text>
<text x="318.2" y="682.5" font-size="8.4" fill="#1a1a1a" text-anchor="start" font-weight="normal" stroke="#1a1a1a" stroke-width="0.12">TET2</text>
<rect x="363.2" y="677.69" width="1.24" height="5.88" fill="#e62620"/>
<rect x="364.44" y="677.69" width="1.24" height="5.88" fill="#f08022"/>
<rect x="27.22" y="685.04" width="14.58" height="7.51" fill="#cdcdcd"/>
<rect x="42.45" y="685.04" width="14.58" height="7.51" fill="#cdcdcd"/>
<rect x="42.45" y="685.04" width="14.58" height="7.51" fill="#e62620"/>
<rect x="57.69" y="685.04" width="14.58" height="7.51" fill="#cdcdcd"/>
<rect x="72.92" y="685.04" width="14.58" height="7.51" fill="#cdcdcd"/>
<rect x="88.14" y="685.04" width="14.58" height="7.51" fill="#cdcdcd"/>
<rect x="103.38" y="685.04" width="14.58" height="7.51" fill="#cdcdcd"/>
<rect x="118.61" y="685.04" width="14.58" height="7.51" fill="#cdcdcd"/>
<rect x="133.83" y="685.04" width="14.58" height="7.51" fill="#cdcdcd"/>
<rect x="149.06" y="685.04" width="14.58" height="7.51" fill="#cdcdcd"/>
<rect x="164.29" y="685.04" width="14.58" height="7.51" fill="#cdcdcd"/>
<rect x="179.53" y="685.04" width="14.58" height="7.51" fill="#cdcdcd"/>
<rect x="194.75" y="685.04" width="14.58" height="7.51" fill="#cdcdcd"/>
<rect x="209.98" y="685.04" width="14.58" height="7.51" fill="#cdcdcd"/>
<rect x="225.22" y="685.04" width="14.58" height="7.51" fill="#cdcdcd"/>
<rect x="240.44" y="685.04" width="14.58" height="7.51" fill="#cdcdcd"/>
<rect x="255.68" y="685.04" width="14.58" height="7.51" fill="#cdcdcd"/>
<rect x="270.9" y="685.04" width="14.58" height="7.51" fill="#cdcdcd"/>
<rect x="286.13" y="685.04" width="14.58" height="7.51" fill="#cdcdcd"/>
<rect x="301.36" y="685.04" width="14.58" height="7.51" fill="#cdcdcd"/>
<text x="25.1" y="691.84" font-size="8.4" fill="#1a1a1a" text-anchor="end" font-weight="normal" stroke="#1a1a1a" stroke-width="0.12">5.3%</text>
<text x="318.2" y="690.67" font-size="8.4" fill="#1a1a1a" text-anchor="start" font-weight="normal" stroke="#1a1a1a" stroke-width="0.12">BCL10</text>
<rect x="363.2" y="685.85" width="1.24" height="5.88" fill="#e62620"/>
<rect x="27.22" y="693.2" width="14.58" height="7.51" fill="#cdcdcd"/>
<rect x="27.22" y="693.2" width="14.58" height="7.51" fill="#e62620"/>
<rect x="42.45" y="693.2" width="14.58" height="7.51" fill="#cdcdcd"/>
<rect x="57.69" y="693.2" width="14.58" height="7.51" fill="#cdcdcd"/>
<rect x="72.92" y="693.2" width="14.58" height="7.51" fill="#cdcdcd"/>
<rect x="88.14" y="693.2" width="14.58" height="7.51" fill="#cdcdcd"/>
<rect x="103.38" y="693.2" width="14.58" height="7.51" fill="#cdcdcd"/>
<rect x="118.61" y="693.2" width="14.58" height="7.51" fill="#cdcdcd"/>
<rect x="133.83" y="693.2" width="14.58" height="7.51" fill="#cdcdcd"/>
<rect x="149.06" y="693.2" width="14.58" height="7.51" fill="#cdcdcd"/>
<rect x="164.29" y="693.2" width="14.58" height="7.51" fill="#cdcdcd"/>
<rect x="179.53" y="693.2" width="14.58" height="7.51" fill="#cdcdcd"/>
<rect x="194.75" y="693.2" width="14.58" height="7.51" fill="#cdcdcd"/>
<rect x="209.98" y="693.2" width="14.58" height="7.51" fill="#cdcdcd"/>
<rect x="225.22" y="693.2" width="14.58" height="7.51" fill="#cdcdcd"/>
<rect x="240.44" y="693.2" width="14.58" height="7.51" fill="#cdcdcd"/>
<rect x="255.68" y="693.2" width="14.58" height="7.51" fill="#cdcdcd"/>
<rect x="270.9" y="693.2" width="14.58" height="7.51" fill="#cdcdcd"/>
<rect x="286.13" y="693.2" width="14.58" height="7.51" fill="#cdcdcd"/>
<rect x="301.36" y="693.2" width="14.58" height="7.51" fill="#cdcdcd"/>
<text x="25.1" y="699.98" font-size="8.4" fill="#1a1a1a" text-anchor="end" font-weight="normal" stroke="#1a1a1a" stroke-width="0.12">5.3%</text>
<text x="318.2" y="698.84" font-size="8.4" fill="#1a1a1a" text-anchor="start" font-weight="normal" stroke="#1a1a1a" stroke-width="0.12">BCL11B</text>
<rect x="363.2" y="694.01" width="1.24" height="5.88" fill="#e62620"/>
<rect x="27.22" y="701.36" width="14.58" height="7.51" fill="#cdcdcd"/>
<rect x="42.45" y="701.36" width="14.58" height="7.51" fill="#cdcdcd"/>
<rect x="57.69" y="701.36" width="14.58" height="7.51" fill="#cdcdcd"/>
<rect x="72.92" y="701.36" width="14.58" height="7.51" fill="#cdcdcd"/>
<rect x="72.92" y="701.36" width="14.58" height="7.51" fill="#e62620"/>
<rect x="88.14" y="701.36" width="14.58" height="7.51" fill="#cdcdcd"/>
<rect x="103.38" y="701.36" width="14.58" height="7.51" fill="#cdcdcd"/>
<rect x="118.61" y="701.36" width="14.58" height="7.51" fill="#cdcdcd"/>
<rect x="133.83" y="701.36" width="14.58" height="7.51" fill="#cdcdcd"/>
<rect x="149.06" y="701.36" width="14.58" height="7.51" fill="#cdcdcd"/>
<rect x="164.29" y="701.36" width="14.58" height="7.51" fill="#cdcdcd"/>
<rect x="179.53" y="701.36" width="14.58" height="7.51" fill="#cdcdcd"/>
<rect x="194.75" y="701.36" width="14.58" height="7.51" fill="#cdcdcd"/>
<rect x="209.98" y="701.36" width="14.58" height="7.51" fill="#cdcdcd"/>
<rect x="225.22" y="701.36" width="14.58" height="7.51" fill="#cdcdcd"/>
<rect x="240.44" y="701.36" width="14.58" height="7.51" fill="#cdcdcd"/>
<rect x="255.68" y="701.36" width="14.58" height="7.51" fill="#cdcdcd"/>
<rect x="270.9" y="701.36" width="14.58" height="7.51" fill="#cdcdcd"/>
<rect x="286.13" y="701.36" width="14.58" height="7.51" fill="#cdcdcd"/>
<rect x="301.36" y="701.36" width="14.58" height="7.51" fill="#cdcdcd"/>
<text x="25.1" y="708.12" font-size="8.4" fill="#1a1a1a" text-anchor="end" font-weight="normal" stroke="#1a1a1a" stroke-width="0.12">5.3%</text>
<text x="318.2" y="707.01" font-size="8.4" fill="#1a1a1a" text-anchor="start" font-weight="normal" stroke="#1a1a1a" stroke-width="0.12">BTK</text>
<rect x="363.2" y="702.17" width="1.24" height="5.88" fill="#e62620"/>
<rect x="27.22" y="709.52" width="14.58" height="7.51" fill="#cdcdcd"/>
<rect x="42.45" y="709.52" width="14.58" height="7.51" fill="#cdcdcd"/>
<rect x="57.69" y="709.52" width="14.58" height="7.51" fill="#cdcdcd"/>
<rect x="72.92" y="709.52" width="14.58" height="7.51" fill="#cdcdcd"/>
<rect x="88.14" y="709.52" width="14.58" height="7.51" fill="#cdcdcd"/>
<rect x="103.38" y="709.52" width="14.58" height="7.51" fill="#cdcdcd"/>
<rect x="118.61" y="709.52" width="14.58" height="7.51" fill="#cdcdcd"/>
<rect x="133.83" y="709.52" width="14.58" height="7.51" fill="#cdcdcd"/>
<rect x="149.06" y="709.52" width="14.58" height="7.51" fill="#cdcdcd"/>
<rect x="164.29" y="709.52" width="14.58" height="7.51" fill="#cdcdcd"/>
<rect x="179.53" y="709.52" width="14.58" height="7.51" fill="#cdcdcd"/>
<rect x="194.75" y="709.52" width="14.58" height="7.51" fill="#cdcdcd"/>
<rect x="209.98" y="709.52" width="14.58" height="7.51" fill="#cdcdcd"/>
<rect x="209.98" y="709.52" width="14.58" height="7.51" fill="#e62620"/>
<rect x="225.22" y="709.52" width="14.58" height="7.51" fill="#cdcdcd"/>
<rect x="240.44" y="709.52" width="14.58" height="7.51" fill="#cdcdcd"/>
<rect x="255.68" y="709.52" width="14.58" height="7.51" fill="#cdcdcd"/>
<rect x="270.9" y="709.52" width="14.58" height="7.51" fill="#cdcdcd"/>
<rect x="286.13" y="709.52" width="14.58" height="7.51" fill="#cdcdcd"/>
<rect x="301.36" y="709.52" width="14.58" height="7.51" fill="#cdcdcd"/>
<text x="25.1" y="716.26" font-size="8.4" fill="#1a1a1a" text-anchor="end" font-weight="normal" stroke="#1a1a1a" stroke-width="0.12">5.3%</text>
<text x="318.2" y="715.18" font-size="8.4" fill="#1a1a1a" text-anchor="start" font-weight="normal" stroke="#1a1a1a" stroke-width="0.12">CALR</text>
<rect x="363.2" y="710.33" width="1.24" height="5.88" fill="#e62620"/>
<rect x="27.22" y="717.68" width="14.58" height="7.51" fill="#cdcdcd"/>
<rect x="27.22" y="718.28" width="14.58" height="6.31" fill="#57b94b"/>
<rect x="42.45" y="717.68" width="14.58" height="7.51" fill="#cdcdcd"/>
<rect x="57.69" y="717.68" width="14.58" height="7.51" fill="#cdcdcd"/>
<rect x="72.92" y="717.68" width="14.58" height="7.51" fill="#cdcdcd"/>
<rect x="88.14" y="717.68" width="14.58" height="7.51" fill="#cdcdcd"/>
<rect x="103.38" y="717.68" width="14.58" height="7.51" fill="#cdcdcd"/>
<rect x="118.61" y="717.68" width="14.58" height="7.51" fill="#cdcdcd"/>
<rect x="133.83" y="717.68" width="14.58" height="7.51" fill="#cdcdcd"/>
<rect x="149.06" y="717.68" width="14.58" height="7.51" fill="#cdcdcd"/>
<rect x="164.29" y="717.68" width="14.58" height="7.51" fill="#cdcdcd"/>
<rect x="179.53" y="717.68" width="14.58" height="7.51" fill="#cdcdcd"/>
<rect x="194.75" y="717.68" width="14.58" height="7.51" fill="#cdcdcd"/>
<rect x="209.98" y="717.68" width="14.58" height="7.51" fill="#cdcdcd"/>
<rect x="225.22" y="717.68" width="14.58" height="7.51" fill="#cdcdcd"/>
<rect x="240.44" y="717.68" width="14.58" height="7.51" fill="#cdcdcd"/>
<rect x="255.68" y="717.68" width="14.58" height="7.51" fill="#cdcdcd"/>
<rect x="270.9" y="717.68" width="14.58" height="7.51" fill="#cdcdcd"/>
<rect x="286.13" y="717.68" width="14.58" height="7.51" fill="#cdcdcd"/>
<rect x="301.36" y="717.68" width="14.58" height="7.51" fill="#cdcdcd"/>
<text x="25.1" y="724.4" font-size="8.4" fill="#1a1a1a" text-anchor="end" font-weight="normal" stroke="#1a1a1a" stroke-width="0.12">5.3%</text>
<text x="318.2" y="723.35" font-size="8.4" fill="#1a1a1a" text-anchor="start" font-weight="normal" stroke="#1a1a1a" stroke-width="0.12">CDKN1B</text>
<rect x="363.2" y="718.49" width="1.24" height="5.88" fill="#57b94b"/>
<rect x="27.22" y="725.84" width="14.58" height="7.51" fill="#cdcdcd"/>
<rect x="42.45" y="725.84" width="14.58" height="7.51" fill="#cdcdcd"/>
<rect x="57.69" y="725.84" width="14.58" height="7.51" fill="#cdcdcd"/>
<rect x="72.92" y="725.84" width="14.58" height="7.51" fill="#cdcdcd"/>
<rect x="88.14" y="725.84" width="14.58" height="7.51" fill="#cdcdcd"/>
<rect x="103.38" y="725.84" width="14.58" height="7.51" fill="#cdcdcd"/>
<rect x="118.61" y="725.84" width="14.58" height="7.51" fill="#cdcdcd"/>
<rect x="133.83" y="725.84" width="14.58" height="7.51" fill="#cdcdcd"/>
<rect x="149.06" y="725.84" width="14.58" height="7.51" fill="#cdcdcd"/>
<rect x="164.29" y="725.84" width="14.58" height="7.51" fill="#cdcdcd"/>
<rect x="179.53" y="725.84" width="14.58" height="7.51" fill="#cdcdcd"/>
<rect x="179.53" y="725.84" width="14.58" height="7.51" fill="#e62620"/>
<rect x="194.75" y="725.84" width="14.58" height="7.51" fill="#cdcdcd"/>
<rect x="209.98" y="725.84" width="14.58" height="7.51" fill="#cdcdcd"/>
<rect x="225.22" y="725.84" width="14.58" height="7.51" fill="#cdcdcd"/>
<rect x="240.44" y="725.84" width="14.58" height="7.51" fill="#cdcdcd"/>
<rect x="255.68" y="725.84" width="14.58" height="7.51" fill="#cdcdcd"/>
<rect x="270.9" y="725.84" width="14.58" height="7.51" fill="#cdcdcd"/>
<rect x="286.13" y="725.84" width="14.58" height="7.51" fill="#cdcdcd"/>
<rect x="301.36" y="725.84" width="14.58" height="7.51" fill="#cdcdcd"/>
<text x="25.1" y="732.54" font-size="8.4" fill="#1a1a1a" text-anchor="end" font-weight="normal" stroke="#1a1a1a" stroke-width="0.12">5.3%</text>
<text x="318.2" y="731.52" font-size="8.4" fill="#1a1a1a" text-anchor="start" font-weight="normal" stroke="#1a1a1a" stroke-width="0.12">CREBBP</text>
<rect x="363.2" y="726.65" width="1.24" height="5.88" fill="#e62620"/>
<rect x="27.22" y="734" width="14.58" height="7.51" fill="#cdcdcd"/>
<rect x="42.45" y="734" width="14.58" height="7.51" fill="#cdcdcd"/>
<rect x="57.69" y="734" width="14.58" height="7.51" fill="#cdcdcd"/>
<rect x="72.92" y="734" width="14.58" height="7.51" fill="#cdcdcd"/>
<rect x="88.14" y="734" width="14.58" height="7.51" fill="#cdcdcd"/>
<rect x="103.38" y="734" width="14.58" height="7.51" fill="#cdcdcd"/>
<rect x="118.61" y="734" width="14.58" height="7.51" fill="#cdcdcd"/>
<rect x="133.83" y="734" width="14.58" height="7.51" fill="#cdcdcd"/>
<rect x="149.06" y="734" width="14.58" height="7.51" fill="#cdcdcd"/>
<rect x="164.29" y="734" width="14.58" height="7.51" fill="#cdcdcd"/>
<rect x="164.29" y="734" width="14.58" height="7.51" fill="#e62620"/>
<rect x="179.53" y="734" width="14.58" height="7.51" fill="#cdcdcd"/>
<rect x="194.75" y="734" width="14.58" height="7.51" fill="#cdcdcd"/>
<rect x="209.98" y="734" width="14.58" height="7.51" fill="#cdcdcd"/>
<rect x="225.22" y="734" width="14.58" height="7.51" fill="#cdcdcd"/>
<rect x="240.44" y="734" width="14.58" height="7.51" fill="#cdcdcd"/>
<rect x="255.68" y="734" width="14.58" height="7.51" fill="#cdcdcd"/>
<rect x="270.9" y="734" width="14.58" height="7.51" fill="#cdcdcd"/>
<rect x="286.13" y="734" width="14.58" height="7.51" fill="#cdcdcd"/>
<rect x="301.36" y="734" width="14.58" height="7.51" fill="#cdcdcd"/>
<text x="25.1" y="740.68" font-size="8.4" fill="#1a1a1a" text-anchor="end" font-weight="normal" stroke="#1a1a1a" stroke-width="0.12">5.3%</text>
<text x="318.2" y="739.69" font-size="8.4" fill="#1a1a1a" text-anchor="start" font-weight="normal" stroke="#1a1a1a" stroke-width="0.12">CYP2A6</text>
<rect x="363.2" y="734.81" width="1.24" height="5.88" fill="#e62620"/>
<rect x="27.22" y="742.16" width="14.58" height="7.51" fill="#cdcdcd"/>
<rect x="27.22" y="742.16" width="14.58" height="7.51" fill="#e62620"/>
<rect x="42.45" y="742.16" width="14.58" height="7.51" fill="#cdcdcd"/>
<rect x="57.69" y="742.16" width="14.58" height="7.51" fill="#cdcdcd"/>
<rect x="72.92" y="742.16" width="14.58" height="7.51" fill="#cdcdcd"/>
<rect x="88.14" y="742.16" width="14.58" height="7.51" fill="#cdcdcd"/>
<rect x="103.38" y="742.16" width="14.58" height="7.51" fill="#cdcdcd"/>
<rect x="118.61" y="742.16" width="14.58" height="7.51" fill="#cdcdcd"/>
<rect x="133.83" y="742.16" width="14.58" height="7.51" fill="#cdcdcd"/>
<rect x="149.06" y="742.16" width="14.58" height="7.51" fill="#cdcdcd"/>
<rect x="164.29" y="742.16" width="14.58" height="7.51" fill="#cdcdcd"/>
<rect x="179.53" y="742.16" width="14.58" height="7.51" fill="#cdcdcd"/>
<rect x="194.75" y="742.16" width="14.58" height="7.51" fill="#cdcdcd"/>
<rect x="209.98" y="742.16" width="14.58" height="7.51" fill="#cdcdcd"/>
<rect x="225.22" y="742.16" width="14.58" height="7.51" fill="#cdcdcd"/>
<rect x="240.44" y="742.16" width="14.58" height="7.51" fill="#cdcdcd"/>
<rect x="255.68" y="742.16" width="14.58" height="7.51" fill="#cdcdcd"/>
<rect x="270.9" y="742.16" width="14.58" height="7.51" fill="#cdcdcd"/>
<rect x="286.13" y="742.16" width="14.58" height="7.51" fill="#cdcdcd"/>
<rect x="301.36" y="742.16" width="14.58" height="7.51" fill="#cdcdcd"/>
<text x="25.1" y="748.82" font-size="8.4" fill="#1a1a1a" text-anchor="end" font-weight="normal" stroke="#1a1a1a" stroke-width="0.12">5.3%</text>
<text x="318.2" y="747.86" font-size="8.4" fill="#1a1a1a" text-anchor="start" font-weight="normal" stroke="#1a1a1a" stroke-width="0.12">DNMT3B</text>
<rect x="363.2" y="742.97" width="1.24" height="5.88" fill="#e62620"/>
<rect x="27.22" y="750.32" width="14.58" height="7.51" fill="#cdcdcd"/>
<rect x="27.22" y="750.32" width="14.58" height="7.51" fill="#e62620"/>
<rect x="27.22" y="751.18" width="14.58" height="5.78" fill="#9450a8"/>
<rect x="42.45" y="750.32" width="14.58" height="7.51" fill="#cdcdcd"/>
<rect x="57.69" y="750.32" width="14.58" height="7.51" fill="#cdcdcd"/>
<rect x="72.92" y="750.32" width="14.58" height="7.51" fill="#cdcdcd"/>
<rect x="88.14" y="750.32" width="14.58" height="7.51" fill="#cdcdcd"/>
<rect x="103.38" y="750.32" width="14.58" height="7.51" fill="#cdcdcd"/>
<rect x="118.61" y="750.32" width="14.58" height="7.51" fill="#cdcdcd"/>
<rect x="133.83" y="750.32" width="14.58" height="7.51" fill="#cdcdcd"/>
<rect x="149.06" y="750.32" width="14.58" height="7.51" fill="#cdcdcd"/>
<rect x="164.29" y="750.32" width="14.58" height="7.51" fill="#cdcdcd"/>
<rect x="179.53" y="750.32" width="14.58" height="7.51" fill="#cdcdcd"/>
<rect x="194.75" y="750.32" width="14.58" height="7.51" fill="#cdcdcd"/>
<rect x="209.98" y="750.32" width="14.58" height="7.51" fill="#cdcdcd"/>
<rect x="225.22" y="750.32" width="14.58" height="7.51" fill="#cdcdcd"/>
<rect x="240.44" y="750.32" width="14.58" height="7.51" fill="#cdcdcd"/>
<rect x="255.68" y="750.32" width="14.58" height="7.51" fill="#cdcdcd"/>
<rect x="270.9" y="750.32" width="14.58" height="7.51" fill="#cdcdcd"/>
<rect x="286.13" y="750.32" width="14.58" height="7.51" fill="#cdcdcd"/>
<rect x="301.36" y="750.32" width="14.58" height="7.51" fill="#cdcdcd"/>
<text x="25.1" y="756.96" font-size="8.4" fill="#1a1a1a" text-anchor="end" font-weight="normal" stroke="#1a1a1a" stroke-width="0.12">5.3%</text>
<text x="318.2" y="756.03" font-size="8.4" fill="#1a1a1a" text-anchor="start" font-weight="normal" stroke="#1a1a1a" stroke-width="0.12">DUSP2</text>
<rect x="363.2" y="751.13" width="1.24" height="5.88" fill="#e62620"/>
<rect x="364.44" y="751.13" width="1.24" height="5.88" fill="#9450a8"/>
<rect x="27.22" y="758.48" width="14.58" height="7.51" fill="#cdcdcd"/>
<rect x="42.45" y="758.48" width="14.58" height="7.51" fill="#cdcdcd"/>
<rect x="42.45" y="759.08" width="14.58" height="6.31" fill="#57b94b"/>
<rect x="57.69" y="758.48" width="14.58" height="7.51" fill="#cdcdcd"/>
<rect x="72.92" y="758.48" width="14.58" height="7.51" fill="#cdcdcd"/>
<rect x="88.14" y="758.48" width="14.58" height="7.51" fill="#cdcdcd"/>
<rect x="103.38" y="758.48" width="14.58" height="7.51" fill="#cdcdcd"/>
<rect x="118.61" y="758.48" width="14.58" height="7.51" fill="#cdcdcd"/>
<rect x="133.83" y="758.48" width="14.58" height="7.51" fill="#cdcdcd"/>
<rect x="149.06" y="758.48" width="14.58" height="7.51" fill="#cdcdcd"/>
<rect x="164.29" y="758.48" width="14.58" height="7.51" fill="#cdcdcd"/>
<rect x="179.53" y="758.48" width="14.58" height="7.51" fill="#cdcdcd"/>
<rect x="194.75" y="758.48" width="14.58" height="7.51" fill="#cdcdcd"/>
<rect x="209.98" y="758.48" width="14.58" height="7.51" fill="#cdcdcd"/>
<rect x="225.22" y="758.48" width="14.58" height="7.51" fill="#cdcdcd"/>
<rect x="240.44" y="758.48" width="14.58" height="7.51" fill="#cdcdcd"/>
<rect x="255.68" y="758.48" width="14.58" height="7.51" fill="#cdcdcd"/>
<rect x="270.9" y="758.48" width="14.58" height="7.51" fill="#cdcdcd"/>
<rect x="286.13" y="758.48" width="14.58" height="7.51" fill="#cdcdcd"/>
<rect x="301.36" y="758.48" width="14.58" height="7.51" fill="#cdcdcd"/>
<text x="25.1" y="765.1" font-size="8.4" fill="#1a1a1a" text-anchor="end" font-weight="normal" stroke="#1a1a1a" stroke-width="0.12">5.3%</text>
<text x="318.2" y="764.2" font-size="8.4" fill="#1a1a1a" text-anchor="start" font-weight="normal" stroke="#1a1a1a" stroke-width="0.12">EGFR</text>
<rect x="363.2" y="759.29" width="1.24" height="5.88" fill="#57b94b"/>
<rect x="27.22" y="766.64" width="14.58" height="7.51" fill="#cdcdcd"/>
<rect x="42.45" y="766.64" width="14.58" height="7.51" fill="#cdcdcd"/>
<rect x="57.69" y="766.64" width="14.58" height="7.51" fill="#cdcdcd"/>
<rect x="72.92" y="766.64" width="14.58" height="7.51" fill="#cdcdcd"/>
<rect x="88.14" y="766.64" width="14.58" height="7.51" fill="#cdcdcd"/>
<rect x="103.38" y="766.64" width="14.58" height="7.51" fill="#cdcdcd"/>
<rect x="118.61" y="766.64" width="14.58" height="7.51" fill="#cdcdcd"/>
<rect x="133.83" y="766.64" width="14.58" height="7.51" fill="#cdcdcd"/>
<rect x="149.06" y="766.64" width="14.58" height="7.51" fill="#cdcdcd"/>
<rect x="164.29" y="766.64" width="14.58" height="7.51" fill="#cdcdcd"/>
<rect x="179.53" y="766.64" width="14.58" height="7.51" fill="#cdcdcd"/>
<rect x="179.53" y="766.64" width="14.58" height="7.51" fill="#e62620"/>
<rect x="194.75" y="766.64" width="14.58" height="7.51" fill="#cdcdcd"/>
<rect x="209.98" y="766.64" width="14.58" height="7.51" fill="#cdcdcd"/>
<rect x="225.22" y="766.64" width="14.58" height="7.51" fill="#cdcdcd"/>
<rect x="240.44" y="766.64" width="14.58" height="7.51" fill="#cdcdcd"/>
<rect x="255.68" y="766.64" width="14.58" height="7.51" fill="#cdcdcd"/>
<rect x="270.9" y="766.64" width="14.58" height="7.51" fill="#cdcdcd"/>
<rect x="286.13" y="766.64" width="14.58" height="7.51" fill="#cdcdcd"/>
<rect x="301.36" y="766.64" width="14.58" height="7.51" fill="#cdcdcd"/>
<text x="25.1" y="773.24" font-size="8.4" fill="#1a1a1a" text-anchor="end" font-weight="normal" stroke="#1a1a1a" stroke-width="0.12">5.3%</text>
<text x="318.2" y="772.37" font-size="8.4" fill="#1a1a1a" text-anchor="start" font-weight="normal" stroke="#1a1a1a" stroke-width="0.12">ERBB3</text>
<rect x="363.2" y="767.45" width="1.24" height="5.88" fill="#e62620"/>
<rect x="27.22" y="774.8" width="14.58" height="7.51" fill="#cdcdcd"/>
<rect x="42.45" y="774.8" width="14.58" height="7.51" fill="#cdcdcd"/>
<rect x="57.69" y="774.8" width="14.58" height="7.51" fill="#cdcdcd"/>
<rect x="72.92" y="774.8" width="14.58" height="7.51" fill="#cdcdcd"/>
<rect x="88.14" y="774.8" width="14.58" height="7.51" fill="#cdcdcd"/>
<rect x="103.38" y="774.8" width="14.58" height="7.51" fill="#cdcdcd"/>
<rect x="118.61" y="774.8" width="14.58" height="7.51" fill="#cdcdcd"/>
<rect x="118.61" y="775.4" width="14.58" height="6.31" fill="#57b94b"/>
<rect x="133.83" y="774.8" width="14.58" height="7.51" fill="#cdcdcd"/>
<rect x="149.06" y="774.8" width="14.58" height="7.51" fill="#cdcdcd"/>
<rect x="164.29" y="774.8" width="14.58" height="7.51" fill="#cdcdcd"/>
<rect x="179.53" y="774.8" width="14.58" height="7.51" fill="#cdcdcd"/>
<rect x="194.75" y="774.8" width="14.58" height="7.51" fill="#cdcdcd"/>
<rect x="209.98" y="774.8" width="14.58" height="7.51" fill="#cdcdcd"/>
<rect x="225.22" y="774.8" width="14.58" height="7.51" fill="#cdcdcd"/>
<rect x="240.44" y="774.8" width="14.58" height="7.51" fill="#cdcdcd"/>
<rect x="255.68" y="774.8" width="14.58" height="7.51" fill="#cdcdcd"/>
<rect x="270.9" y="774.8" width="14.58" height="7.51" fill="#cdcdcd"/>
<rect x="286.13" y="774.8" width="14.58" height="7.51" fill="#cdcdcd"/>
<rect x="301.36" y="774.8" width="14.58" height="7.51" fill="#cdcdcd"/>
<text x="25.1" y="781.38" font-size="8.4" fill="#1a1a1a" text-anchor="end" font-weight="normal" stroke="#1a1a1a" stroke-width="0.12">5.3%</text>
<text x="318.2" y="780.54" font-size="8.4" fill="#1a1a1a" text-anchor="start" font-weight="normal" stroke="#1a1a1a" stroke-width="0.12">ERBB4</text>
<rect x="363.2" y="775.61" width="1.24" height="5.88" fill="#57b94b"/>
<rect x="27.22" y="782.96" width="14.58" height="7.51" fill="#cdcdcd"/>
<rect x="42.45" y="782.96" width="14.58" height="7.51" fill="#cdcdcd"/>
<rect x="57.69" y="782.96" width="14.58" height="7.51" fill="#cdcdcd"/>
<rect x="72.92" y="782.96" width="14.58" height="7.51" fill="#cdcdcd"/>
<rect x="88.14" y="782.96" width="14.58" height="7.51" fill="#cdcdcd"/>
<rect x="103.38" y="782.96" width="14.58" height="7.51" fill="#cdcdcd"/>
<rect x="118.61" y="782.96" width="14.58" height="7.51" fill="#cdcdcd"/>
<rect x="133.83" y="782.96" width="14.58" height="7.51" fill="#cdcdcd"/>
<rect x="149.06" y="782.96" width="14.58" height="7.51" fill="#cdcdcd"/>
<rect x="164.29" y="782.96" width="14.58" height="7.51" fill="#cdcdcd"/>
<rect x="179.53" y="782.96" width="14.58" height="7.51" fill="#cdcdcd"/>
<rect x="194.75" y="782.96" width="14.58" height="7.51" fill="#cdcdcd"/>
<rect x="194.75" y="782.96" width="14.58" height="7.51" fill="#e62620"/>
<rect x="209.98" y="782.96" width="14.58" height="7.51" fill="#cdcdcd"/>
<rect x="225.22" y="782.96" width="14.58" height="7.51" fill="#cdcdcd"/>
<rect x="240.44" y="782.96" width="14.58" height="7.51" fill="#cdcdcd"/>
<rect x="255.68" y="782.96" width="14.58" height="7.51" fill="#cdcdcd"/>
<rect x="270.9" y="782.96" width="14.58" height="7.51" fill="#cdcdcd"/>
<rect x="286.13" y="782.96" width="14.58" height="7.51" fill="#cdcdcd"/>
<rect x="301.36" y="782.96" width="14.58" height="7.51" fill="#cdcdcd"/>
<text x="25.1" y="789.52" font-size="8.4" fill="#1a1a1a" text-anchor="end" font-weight="normal" stroke="#1a1a1a" stroke-width="0.12">5.3%</text>
<text x="318.2" y="788.71" font-size="8.4" fill="#1a1a1a" text-anchor="start" font-weight="normal" stroke="#1a1a1a" stroke-width="0.12">ETS1</text>
<rect x="363.2" y="783.77" width="1.24" height="5.88" fill="#e62620"/>
<rect x="27.22" y="791.12" width="14.58" height="7.51" fill="#cdcdcd"/>
<rect x="27.22" y="791.98" width="14.58" height="5.78" fill="#9450a8"/>
<rect x="42.45" y="791.12" width="14.58" height="7.51" fill="#cdcdcd"/>
<rect x="57.69" y="791.12" width="14.58" height="7.51" fill="#cdcdcd"/>
<rect x="72.92" y="791.12" width="14.58" height="7.51" fill="#cdcdcd"/>
<rect x="88.14" y="791.12" width="14.58" height="7.51" fill="#cdcdcd"/>
<rect x="103.38" y="791.12" width="14.58" height="7.51" fill="#cdcdcd"/>
<rect x="118.61" y="791.12" width="14.58" height="7.51" fill="#cdcdcd"/>
<rect x="133.83" y="791.12" width="14.58" height="7.51" fill="#cdcdcd"/>
<rect x="149.06" y="791.12" width="14.58" height="7.51" fill="#cdcdcd"/>
<rect x="164.29" y="791.12" width="14.58" height="7.51" fill="#cdcdcd"/>
<rect x="179.53" y="791.12" width="14.58" height="7.51" fill="#cdcdcd"/>
<rect x="194.75" y="791.12" width="14.58" height="7.51" fill="#cdcdcd"/>
<rect x="209.98" y="791.12" width="14.58" height="7.51" fill="#cdcdcd"/>
<rect x="225.22" y="791.12" width="14.58" height="7.51" fill="#cdcdcd"/>
<rect x="240.44" y="791.12" width="14.58" height="7.51" fill="#cdcdcd"/>
<rect x="255.68" y="791.12" width="14.58" height="7.51" fill="#cdcdcd"/>
<rect x="270.9" y="791.12" width="14.58" height="7.51" fill="#cdcdcd"/>
<rect x="286.13" y="791.12" width="14.58" height="7.51" fill="#cdcdcd"/>
<rect x="301.36" y="791.12" width="14.58" height="7.51" fill="#cdcdcd"/>
<text x="25.1" y="797.66" font-size="8.4" fill="#1a1a1a" text-anchor="end" font-weight="normal" stroke="#1a1a1a" stroke-width="0.12">5.3%</text>
<text x="318.2" y="796.88" font-size="8.4" fill="#1a1a1a" text-anchor="start" font-weight="normal" stroke="#1a1a1a" stroke-width="0.12">ETV6</text>
<rect x="363.2" y="791.93" width="1.24" height="5.88" fill="#9450a8"/>
<rect x="27.15" y="802" width="14.73" height="7.65" fill="#a6d1e4"/>
<rect x="42.38" y="802" width="14.73" height="7.65" fill="#3b7dbb"/>
<rect x="57.61" y="802" width="14.73" height="7.65" fill="#a6d1e4"/>
<rect x="72.84" y="802" width="14.73" height="7.65" fill="#3b7dbb"/>
<rect x="88.07" y="802" width="14.73" height="7.65" fill="#a6d1e4"/>
<rect x="103.3" y="802" width="14.73" height="7.65" fill="#a6d1e4"/>
<rect x="118.53" y="802" width="14.73" height="7.65" fill="#a6d1e4"/>
<rect x="133.76" y="802" width="14.73" height="7.65" fill="#3b7dbb"/>
<rect x="148.99" y="802" width="14.73" height="7.65" fill="#a6d1e4"/>
<rect x="164.22" y="802" width="14.73" height="7.65" fill="#a6d1e4"/>
<rect x="179.45" y="802" width="14.73" height="7.65" fill="#a6d1e4"/>
<rect x="194.68" y="802" width="14.73" height="7.65" fill="#3b7dbb"/>
<rect x="209.91" y="802" width="14.73" height="7.65" fill="#a6d1e4"/>
<rect x="225.14" y="802" width="14.73" height="7.65" fill="#a6d1e4"/>
<rect x="240.37" y="802" width="14.73" height="7.65" fill="#a6d1e4"/>
<rect x="255.6" y="802" width="14.73" height="7.65" fill="#a6d1e4"/>
<rect x="270.83" y="802" width="14.73" height="7.65" fill="#3b7dbb"/>
<rect x="286.06" y="802" width="14.73" height="7.65" fill="#a6d1e4"/>
<rect x="301.29" y="802" width="14.73" height="7.65" fill="#a6d1e4"/>
<rect x="27.15" y="810.1" width="14.73" height="7.65" fill="#e62620"/>
<rect x="42.38" y="810.1" width="14.73" height="7.65" fill="#b4e68c"/>
<rect x="57.61" y="810.1" width="14.73" height="7.65" fill="#b4e68c"/>
<rect x="72.84" y="810.1" width="14.73" height="7.65" fill="#b4e68c"/>
<rect x="88.07" y="810.1" width="14.73" height="7.65" fill="#b4e68c"/>
<rect x="103.3" y="810.1" width="14.73" height="7.65" fill="#e62620"/>
<rect x="118.53" y="810.1" width="14.73" height="7.65" fill="#e62620"/>
<rect x="133.76" y="810.1" width="14.73" height="7.65" fill="#b4e68c"/>
<rect x="148.99" y="810.1" width="14.73" height="7.65" fill="#e62620"/>
<rect x="164.22" y="810.1" width="14.73" height="7.65" fill="#b4e68c"/>
<rect x="179.45" y="810.1" width="14.73" height="7.65" fill="#b4e68c"/>
<rect x="194.68" y="810.1" width="14.73" height="7.65" fill="#b4e68c"/>
<rect x="209.91" y="810.1" width="14.73" height="7.65" fill="#b4e68c"/>
<rect x="225.14" y="810.1" width="14.73" height="7.65" fill="#e62620"/>
<rect x="240.37" y="810.1" width="14.73" height="7.65" fill="#b4e68c"/>
<rect x="255.6" y="810.1" width="14.73" height="7.65" fill="#b4e68c"/>
<rect x="270.83" y="810.1" width="14.73" height="7.65" fill="#b4e68c"/>
<rect x="286.06" y="810.1" width="14.73" height="7.65" fill="#b4e68c"/>
<rect x="301.29" y="810.1" width="14.73" height="7.65" fill="#b4e68c"/>
<rect x="27.15" y="818.3" width="14.73" height="7.65" fill="#cdcdcd"/>
<rect x="42.38" y="818.3" width="14.73" height="7.65" fill="#47aa38"/>
<rect x="57.61" y="818.3" width="14.73" height="7.65" fill="#47aa38"/>
<rect x="72.84" y="818.3" width="14.73" height="7.65" fill="#47aa38"/>
<rect x="88.07" y="818.3" width="14.73" height="7.65" fill="#47aa38"/>
<rect x="103.3" y="818.3" width="14.73" height="7.65" fill="#f49a9c"/>
<rect x="118.53" y="818.3" width="14.73" height="7.65" fill="#cdcdcd"/>
<rect x="133.76" y="818.3" width="14.73" height="7.65" fill="#47aa38"/>
<rect x="148.99" y="818.3" width="14.73" height="7.65" fill="#cdcdcd"/>
<rect x="164.22" y="818.3" width="14.73" height="7.65" fill="#47aa38"/>
<rect x="179.45" y="818.3" width="14.73" height="7.65" fill="#47aa38"/>
<rect x="194.68" y="818.3" width="14.73" height="7.65" fill="#47aa38"/>
<rect x="209.91" y="818.3" width="14.73" height="7.65" fill="#47aa38"/>
<rect x="225.14" y="818.3" width="14.73" height="7.65" fill="#cdcdcd"/>
<rect x="240.37" y="818.3" width="14.73" height="7.65" fill="#47aa38"/>
<rect x="255.6" y="818.3" width="14.73" height="7.65" fill="#47aa38"/>
<rect x="270.83" y="818.3" width="14.73" height="7.65" fill="#47aa38"/>
<rect x="286.06" y="818.3" width="14.73" height="7.65" fill="#cdcdcd"/>
<rect x="301.29" y="818.3" width="14.73" height="7.65" fill="#47aa38"/>
<text x="319.2" y="810.2" font-size="8.4" fill="#1a1a1a" text-anchor="start" font-weight="normal" stroke="#1a1a1a" stroke-width="0.12">Gender</text>
<text x="319.2" y="817.4" font-size="8.4" fill="#1a1a1a" text-anchor="start" font-weight="normal" stroke="#1a1a1a" stroke-width="0.12">PD status</text>
<text x="319.2" y="824.5" font-size="8.4" fill="#1a1a1a" text-anchor="start" font-weight="normal" stroke="#1a1a1a" stroke-width="0.12">EOT response</text>
<path d="M362.9 592H380.45" stroke="#111" stroke-width="0.9" fill="none"/>
<path d="M363.2 592V589.4" stroke="#111" stroke-width="0.7" fill="none"/>
<text transform="translate(365.05 588.3) rotate(-90)" font-size="4.9" fill="#111" stroke="#111" stroke-width="0.25" style="text-rendering:auto">0</text>
<path d="M368.85 592V589.4" stroke="#111" stroke-width="0.7" fill="none"/>
<text transform="translate(370.7 588.3) rotate(-90)" font-size="4.9" fill="#111" stroke="#111" stroke-width="0.25" style="text-rendering:auto">5</text>
<path d="M374.5 592V589.4" stroke="#111" stroke-width="0.7" fill="none"/>
<text transform="translate(376.35 588.3) rotate(-90)" font-size="4.9" fill="#111" stroke="#111" stroke-width="0.25" style="text-rendering:auto">10</text>
<path d="M380.15 592V589.4" stroke="#111" stroke-width="0.7" fill="none"/>
<text transform="translate(382 588.3) rotate(-90)" font-size="4.9" fill="#111" stroke="#111" stroke-width="0.25" style="text-rendering:auto">15</text>
<text x="5.3" y="584.3" font-size="16.9" fill="#111" text-anchor="start" font-weight="normal">(C)</text>
<text x="381" y="648.6" font-size="6.25" fill="#111" text-anchor="start" font-weight="bold" stroke="#111" stroke-width="0.15">Gender</text>
<rect x="382" y="651.3" width="4.7" height="4.5" fill="#a6d1e4"/>
<text x="389" y="655.2" font-size="6.25" fill="#1a1a1a" text-anchor="start" font-weight="normal" stroke="#1a1a1a" stroke-width="0.2">FEMALE</text>
<rect x="382" y="657.63" width="4.7" height="4.5" fill="#3b7dbb"/>
<text x="389" y="661.53" font-size="6.25" fill="#1a1a1a" text-anchor="start" font-weight="normal" stroke="#1a1a1a" stroke-width="0.2">MALE</text>
<text x="381" y="677.8" font-size="6.25" fill="#111" text-anchor="start" font-weight="bold" stroke="#111" stroke-width="0.15">PD status</text>
<rect x="382" y="680.5" width="4.7" height="4.5" fill="#e62620"/>
<text x="389" y="684.4" font-size="6.25" fill="#1a1a1a" text-anchor="start" font-weight="normal" stroke="#1a1a1a" stroke-width="0.2">YES</text>
<rect x="382" y="686.83" width="4.7" height="4.5" fill="#b4e68c"/>
<text x="389" y="690.73" font-size="6.25" fill="#1a1a1a" text-anchor="start" font-weight="normal" stroke="#1a1a1a" stroke-width="0.2">NO</text>
<text x="381" y="706.9" font-size="6.25" fill="#111" text-anchor="start" font-weight="bold" stroke="#111" stroke-width="0.15">EOT response</text>
<rect x="382" y="709.6" width="4.7" height="4.5" fill="#47aa38"/>
<text x="389" y="713.5" font-size="6.25" fill="#1a1a1a" text-anchor="start" font-weight="normal" stroke="#1a1a1a" stroke-width="0.2">CR</text>
<rect x="382" y="715.93" width="4.7" height="4.5" fill="#b6de7c"/>
<text x="389" y="719.83" font-size="6.25" fill="#1a1a1a" text-anchor="start" font-weight="normal" stroke="#1a1a1a" stroke-width="0.2">PR</text>
<rect x="382" y="722.26" width="4.7" height="4.5" fill="#f49a9c"/>
<text x="389" y="726.16" font-size="6.25" fill="#1a1a1a" text-anchor="start" font-weight="normal" stroke="#1a1a1a" stroke-width="0.2">PD</text>
<rect x="382" y="728.59" width="4.7" height="4.5" fill="#f6c08e"/>
<text x="389" y="732.49" font-size="6.25" fill="#1a1a1a" text-anchor="start" font-weight="normal" stroke="#1a1a1a" stroke-width="0.2">SD</text>
<text x="381" y="746" font-size="6.25" fill="#111" text-anchor="start" font-weight="bold" stroke="#111" stroke-width="0.15">Alterations</text>
<rect x="382" y="748.7" width="4.7" height="4.5" fill="#e62620"/>
<text x="389" y="752.6" font-size="6.25" fill="#1a1a1a" text-anchor="start" font-weight="normal" stroke="#1a1a1a" stroke-width="0.2">MISSENSE</text>
<rect x="382" y="755.03" width="4.7" height="4.5" fill="#3f7ebd"/>
<text x="389" y="758.93" font-size="6.25" fill="#1a1a1a" text-anchor="start" font-weight="normal" stroke="#1a1a1a" stroke-width="0.2">INDEL</text>
<rect x="382" y="761.36" width="4.7" height="4.5" fill="#57b94b"/>
<text x="389" y="765.26" font-size="6.25" fill="#1a1a1a" text-anchor="start" font-weight="normal" stroke="#1a1a1a" stroke-width="0.2">NONSENSE</text>
<rect x="382" y="767.69" width="4.7" height="4.5" fill="#9450a8"/>
<text x="389" y="771.59" font-size="6.25" fill="#1a1a1a" text-anchor="start" font-weight="normal" stroke="#1a1a1a" stroke-width="0.2">SPLICING</text>
<rect x="382" y="774.02" width="4.7" height="4.5" fill="#f08022"/>
<text x="389" y="777.92" font-size="6.25" fill="#1a1a1a" text-anchor="start" font-weight="normal" stroke="#1a1a1a" stroke-width="0.2">FRAMESHIFT</text>
<rect x="382" y="780.35" width="4.7" height="4.5" fill="#a55528"/>
<text x="389" y="784.25" font-size="6.25" fill="#1a1a1a" text-anchor="start" font-weight="normal" stroke="#1a1a1a" stroke-width="0.2">SV</text>
<rect x="382" y="786.68" width="4.7" height="4.5" fill="#f282c8"/>
<text x="389" y="790.58" font-size="6.25" fill="#1a1a1a" text-anchor="start" font-weight="normal" stroke="#1a1a1a" stroke-width="0.2">CNV</text>
<rect x="382" y="793.01" width="4.7" height="4.5" fill="#eefb47"/>
<text x="389" y="796.91" font-size="6.25" fill="#1a1a1a" text-anchor="start" font-weight="normal" stroke="#1a1a1a" stroke-width="0.2">OTHERS</text>
<defs><clipPath id="clip1"><circle cx="559.3" cy="147" r="87.7"/></clipPath></defs>
<circle cx="559.3" cy="147" r="87.7" fill="#c4d2ec"/>
<circle cx="604.8" cy="147.2" r="75.6" fill="#efc9a1"/>
<circle cx="604.8" cy="147.2" r="75.6" fill="#e2ba9c" clip-path="url(#clip1)"/>
<text x="436.3" y="13.1" font-size="16.9" fill="#111" text-anchor="start" font-weight="normal">(D)</text>
<text x="501.5" y="151" font-size="12.9" fill="#1a1a1a" text-anchor="middle" font-weight="normal">33</text>
<text x="589.4" y="151" font-size="12.9" fill="#1a1a1a" text-anchor="middle" font-weight="normal">41</text>
<text x="666" y="151" font-size="12.9" fill="#1a1a1a" text-anchor="middle" font-weight="normal">13</text>
<text x="490.2" y="73.8" font-size="12.6" fill="#9cb0df" text-anchor="middle" font-weight="normal">Tissue</text>
<text x="653.7" y="73.8" font-size="12.6" fill="#eba468" text-anchor="middle" font-weight="normal">CSF</text>
<text x="662.3" y="227.8" font-size="12.6" fill="#1a1a1a" text-anchor="middle" font-weight="normal">n=4</text>
<defs><clipPath id="clip2"><circle cx="563.6" cy="405.3" r="87.3"/></clipPath></defs>
<circle cx="563.6" cy="405.3" r="87.3" fill="#efc9a1"/>
<circle cx="638.2" cy="405.6" r="41" fill="#c4d2ec"/>
<circle cx="638.2" cy="405.6" r="41" fill="#c8c0d2" clip-path="url(#clip2)"/>
<text x="436.3" y="300.5" font-size="16.9" fill="#111" text-anchor="start" font-weight="normal">(E)</text>
<text x="537.8" y="409.5" font-size="12.9" fill="#1a1a1a" text-anchor="middle" font-weight="normal">233</text>
<text x="625.5" y="409.3" font-size="12.9" fill="#1a1a1a" text-anchor="middle" font-weight="normal">40</text>
<text x="666.6" y="409.3" font-size="12.9" fill="#1a1a1a" text-anchor="middle" font-weight="normal">20</text>
<text x="490.4" y="346" font-size="12.6" fill="#eba468" text-anchor="middle" font-weight="normal">CSF</text>
<text x="655.6" y="345.9" font-size="12.6" fill="#9cb0df" text-anchor="middle" font-weight="normal">Plasma</text>
<text x="657.6" y="477.7" font-size="12.6" fill="#1a1a1a" text-anchor="middle" font-weight="normal">n=16</text>
<defs><clipPath id="clip3"><circle cx="569.7" cy="705.4" r="93.4"/></clipPath></defs>
<circle cx="569.7" cy="705.4" r="93.4" fill="#c4d2ec"/>
<circle cx="641.8" cy="705.3" r="37.8" fill="#efc9a1"/>
<circle cx="641.8" cy="705.3" r="37.8" fill="#e2ba9c" clip-path="url(#clip3)"/>
<text x="436.3" y="584.3" font-size="16.9" fill="#111" text-anchor="start" font-weight="normal">(F)</text>
<text x="541.7" y="709.8" font-size="12.9" fill="#1a1a1a" text-anchor="middle" font-weight="normal">143</text>
<text x="634.5" y="709.7" font-size="12.9" fill="#1a1a1a" text-anchor="middle" font-weight="normal">22</text>
<text x="672.5" y="709.7" font-size="12.9" fill="#1a1a1a" text-anchor="middle" font-weight="normal">5</text>
<text x="484.3" y="638.1" font-size="12.6" fill="#9cb0df" text-anchor="middle" font-weight="normal">Tissue</text>
<text x="662.7" y="638.1" font-size="12.6" fill="#eba468" text-anchor="middle" font-weight="normal">Plasma</text>
<text x="660.4" y="785.2" font-size="12.6" fill="#1a1a1a" text-anchor="middle" font-weight="normal">n=7</text>
</svg></body></html>
